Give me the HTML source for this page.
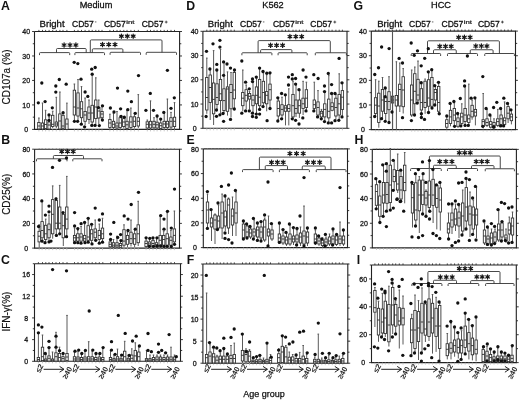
<!DOCTYPE html><html><head><meta charset="utf-8"><style>html,body{margin:0;padding:0;background:#fff;}svg{display:block;will-change:transform;}</style></head><body><svg width="520" height="400" viewBox="0 0 520 400" font-family='"Liberation Sans", sans-serif'>
<rect width="520" height="400" fill="#fff"/>
<path d="M34.5,31.5V129.4H179.6V31.5H34.5" fill="none" stroke="#222" stroke-width="1.1"/>
<line x1="32.1" y1="129.40" x2="34.5" y2="129.40" stroke="#222" stroke-width="0.9"/>
<line x1="179.6" y1="129.40" x2="182.0" y2="129.40" stroke="#222" stroke-width="0.9"/>
<line x1="32.8" y1="117.16" x2="34.5" y2="117.16" stroke="#222" stroke-width="0.9"/>
<line x1="179.6" y1="117.16" x2="181.29999999999998" y2="117.16" stroke="#222" stroke-width="0.9"/>
<line x1="32.1" y1="104.93" x2="34.5" y2="104.93" stroke="#222" stroke-width="0.9"/>
<line x1="179.6" y1="104.93" x2="182.0" y2="104.93" stroke="#222" stroke-width="0.9"/>
<line x1="32.8" y1="92.69" x2="34.5" y2="92.69" stroke="#222" stroke-width="0.9"/>
<line x1="179.6" y1="92.69" x2="181.29999999999998" y2="92.69" stroke="#222" stroke-width="0.9"/>
<line x1="32.1" y1="80.45" x2="34.5" y2="80.45" stroke="#222" stroke-width="0.9"/>
<line x1="179.6" y1="80.45" x2="182.0" y2="80.45" stroke="#222" stroke-width="0.9"/>
<line x1="32.8" y1="68.21" x2="34.5" y2="68.21" stroke="#222" stroke-width="0.9"/>
<line x1="179.6" y1="68.21" x2="181.29999999999998" y2="68.21" stroke="#222" stroke-width="0.9"/>
<line x1="32.1" y1="55.98" x2="34.5" y2="55.98" stroke="#222" stroke-width="0.9"/>
<line x1="179.6" y1="55.98" x2="182.0" y2="55.98" stroke="#222" stroke-width="0.9"/>
<line x1="32.8" y1="43.74" x2="34.5" y2="43.74" stroke="#222" stroke-width="0.9"/>
<line x1="179.6" y1="43.74" x2="181.29999999999998" y2="43.74" stroke="#222" stroke-width="0.9"/>
<line x1="32.1" y1="31.50" x2="34.5" y2="31.50" stroke="#222" stroke-width="0.9"/>
<line x1="179.6" y1="31.50" x2="182.0" y2="31.50" stroke="#222" stroke-width="0.9"/>
<text x="26.20" y="132.00" text-anchor="middle" font-size="7" fill="#1a1a1a" stroke="#1a1a1a" stroke-width="0.3">0</text>
<text x="26.20" y="107.53" text-anchor="middle" font-size="7" fill="#1a1a1a" stroke="#1a1a1a" stroke-width="0.3">10</text>
<text x="26.20" y="83.05" text-anchor="middle" font-size="7" fill="#1a1a1a" stroke="#1a1a1a" stroke-width="0.3">20</text>
<text x="26.20" y="58.58" text-anchor="middle" font-size="7" fill="#1a1a1a" stroke="#1a1a1a" stroke-width="0.3">30</text>
<text x="26.20" y="34.10" text-anchor="middle" font-size="7" fill="#1a1a1a" stroke="#1a1a1a" stroke-width="0.3">40</text>
<line x1="38.90" y1="29.9" x2="38.90" y2="31.5" stroke="#222" stroke-width="0.8"/>
<line x1="38.90" y1="129.4" x2="38.90" y2="131.4" stroke="#bbb" stroke-width="0.8"/>
<line x1="42.50" y1="29.9" x2="42.50" y2="31.5" stroke="#222" stroke-width="0.8"/>
<line x1="42.50" y1="129.4" x2="42.50" y2="131.4" stroke="#bbb" stroke-width="0.8"/>
<line x1="45.60" y1="29.9" x2="45.60" y2="31.5" stroke="#222" stroke-width="0.8"/>
<line x1="45.60" y1="129.4" x2="45.60" y2="131.4" stroke="#bbb" stroke-width="0.8"/>
<line x1="49.10" y1="29.9" x2="49.10" y2="31.5" stroke="#222" stroke-width="0.8"/>
<line x1="49.10" y1="129.4" x2="49.10" y2="131.4" stroke="#bbb" stroke-width="0.8"/>
<line x1="52.70" y1="29.9" x2="52.70" y2="31.5" stroke="#222" stroke-width="0.8"/>
<line x1="52.70" y1="129.4" x2="52.70" y2="131.4" stroke="#bbb" stroke-width="0.8"/>
<line x1="56.30" y1="29.9" x2="56.30" y2="31.5" stroke="#222" stroke-width="0.8"/>
<line x1="56.30" y1="129.4" x2="56.30" y2="131.4" stroke="#bbb" stroke-width="0.8"/>
<line x1="59.90" y1="29.9" x2="59.90" y2="31.5" stroke="#222" stroke-width="0.8"/>
<line x1="59.90" y1="129.4" x2="59.90" y2="131.4" stroke="#bbb" stroke-width="0.8"/>
<line x1="63.00" y1="29.9" x2="63.00" y2="31.5" stroke="#222" stroke-width="0.8"/>
<line x1="63.00" y1="129.4" x2="63.00" y2="131.4" stroke="#bbb" stroke-width="0.8"/>
<line x1="66.90" y1="29.9" x2="66.90" y2="31.5" stroke="#222" stroke-width="0.8"/>
<line x1="66.90" y1="129.4" x2="66.90" y2="131.4" stroke="#bbb" stroke-width="0.8"/>
<line x1="74.40" y1="29.9" x2="74.40" y2="31.5" stroke="#222" stroke-width="0.8"/>
<line x1="74.40" y1="129.4" x2="74.40" y2="131.4" stroke="#bbb" stroke-width="0.8"/>
<line x1="78.00" y1="29.9" x2="78.00" y2="31.5" stroke="#222" stroke-width="0.8"/>
<line x1="78.00" y1="129.4" x2="78.00" y2="131.4" stroke="#bbb" stroke-width="0.8"/>
<line x1="81.50" y1="29.9" x2="81.50" y2="31.5" stroke="#222" stroke-width="0.8"/>
<line x1="81.50" y1="129.4" x2="81.50" y2="131.4" stroke="#bbb" stroke-width="0.8"/>
<line x1="85.10" y1="29.9" x2="85.10" y2="31.5" stroke="#222" stroke-width="0.8"/>
<line x1="85.10" y1="129.4" x2="85.10" y2="131.4" stroke="#bbb" stroke-width="0.8"/>
<line x1="89.00" y1="29.9" x2="89.00" y2="31.5" stroke="#222" stroke-width="0.8"/>
<line x1="89.00" y1="129.4" x2="89.00" y2="131.4" stroke="#bbb" stroke-width="0.8"/>
<line x1="92.20" y1="29.9" x2="92.20" y2="31.5" stroke="#222" stroke-width="0.8"/>
<line x1="92.20" y1="129.4" x2="92.20" y2="131.4" stroke="#bbb" stroke-width="0.8"/>
<line x1="95.80" y1="29.9" x2="95.80" y2="31.5" stroke="#222" stroke-width="0.8"/>
<line x1="95.80" y1="129.4" x2="95.80" y2="131.4" stroke="#bbb" stroke-width="0.8"/>
<line x1="98.80" y1="29.9" x2="98.80" y2="31.5" stroke="#222" stroke-width="0.8"/>
<line x1="98.80" y1="129.4" x2="98.80" y2="131.4" stroke="#bbb" stroke-width="0.8"/>
<line x1="102.00" y1="29.9" x2="102.00" y2="31.5" stroke="#222" stroke-width="0.8"/>
<line x1="102.00" y1="129.4" x2="102.00" y2="131.4" stroke="#bbb" stroke-width="0.8"/>
<line x1="109.90" y1="29.9" x2="109.90" y2="31.5" stroke="#222" stroke-width="0.8"/>
<line x1="109.90" y1="129.4" x2="109.90" y2="131.4" stroke="#bbb" stroke-width="0.8"/>
<line x1="113.50" y1="29.9" x2="113.50" y2="31.5" stroke="#222" stroke-width="0.8"/>
<line x1="113.50" y1="129.4" x2="113.50" y2="131.4" stroke="#bbb" stroke-width="0.8"/>
<line x1="117.00" y1="29.9" x2="117.00" y2="31.5" stroke="#222" stroke-width="0.8"/>
<line x1="117.00" y1="129.4" x2="117.00" y2="131.4" stroke="#bbb" stroke-width="0.8"/>
<line x1="120.20" y1="29.9" x2="120.20" y2="31.5" stroke="#222" stroke-width="0.8"/>
<line x1="120.20" y1="129.4" x2="120.20" y2="131.4" stroke="#bbb" stroke-width="0.8"/>
<line x1="123.80" y1="29.9" x2="123.80" y2="31.5" stroke="#222" stroke-width="0.8"/>
<line x1="123.80" y1="129.4" x2="123.80" y2="131.4" stroke="#bbb" stroke-width="0.8"/>
<line x1="127.00" y1="29.9" x2="127.00" y2="31.5" stroke="#222" stroke-width="0.8"/>
<line x1="127.00" y1="129.4" x2="127.00" y2="131.4" stroke="#bbb" stroke-width="0.8"/>
<line x1="130.90" y1="29.9" x2="130.90" y2="31.5" stroke="#222" stroke-width="0.8"/>
<line x1="130.90" y1="129.4" x2="130.90" y2="131.4" stroke="#bbb" stroke-width="0.8"/>
<line x1="134.40" y1="29.9" x2="134.40" y2="31.5" stroke="#222" stroke-width="0.8"/>
<line x1="134.40" y1="129.4" x2="134.40" y2="131.4" stroke="#bbb" stroke-width="0.8"/>
<line x1="138.30" y1="29.9" x2="138.30" y2="31.5" stroke="#222" stroke-width="0.8"/>
<line x1="138.30" y1="129.4" x2="138.30" y2="131.4" stroke="#bbb" stroke-width="0.8"/>
<line x1="147.30" y1="29.9" x2="147.30" y2="31.5" stroke="#222" stroke-width="0.8"/>
<line x1="147.30" y1="129.4" x2="147.30" y2="131.4" stroke="#bbb" stroke-width="0.8"/>
<line x1="150.50" y1="29.9" x2="150.50" y2="31.5" stroke="#222" stroke-width="0.8"/>
<line x1="150.50" y1="129.4" x2="150.50" y2="131.4" stroke="#bbb" stroke-width="0.8"/>
<line x1="154.00" y1="29.9" x2="154.00" y2="31.5" stroke="#222" stroke-width="0.8"/>
<line x1="154.00" y1="129.4" x2="154.00" y2="131.4" stroke="#bbb" stroke-width="0.8"/>
<line x1="157.10" y1="29.9" x2="157.10" y2="31.5" stroke="#222" stroke-width="0.8"/>
<line x1="157.10" y1="129.4" x2="157.10" y2="131.4" stroke="#bbb" stroke-width="0.8"/>
<line x1="160.70" y1="29.9" x2="160.70" y2="31.5" stroke="#222" stroke-width="0.8"/>
<line x1="160.70" y1="129.4" x2="160.70" y2="131.4" stroke="#bbb" stroke-width="0.8"/>
<line x1="164.20" y1="29.9" x2="164.20" y2="31.5" stroke="#222" stroke-width="0.8"/>
<line x1="164.20" y1="129.4" x2="164.20" y2="131.4" stroke="#bbb" stroke-width="0.8"/>
<line x1="167.40" y1="29.9" x2="167.40" y2="31.5" stroke="#222" stroke-width="0.8"/>
<line x1="167.40" y1="129.4" x2="167.40" y2="131.4" stroke="#bbb" stroke-width="0.8"/>
<line x1="171.00" y1="29.9" x2="171.00" y2="31.5" stroke="#222" stroke-width="0.8"/>
<line x1="171.00" y1="129.4" x2="171.00" y2="131.4" stroke="#bbb" stroke-width="0.8"/>
<line x1="174.50" y1="29.9" x2="174.50" y2="31.5" stroke="#222" stroke-width="0.8"/>
<line x1="174.50" y1="129.4" x2="174.50" y2="131.4" stroke="#bbb" stroke-width="0.8"/>
<path d="M202.9,31.3V128.3H347.0V31.3H202.9" fill="none" stroke="#222" stroke-width="1.1"/>
<line x1="200.5" y1="128.30" x2="202.9" y2="128.30" stroke="#222" stroke-width="0.9"/>
<line x1="347.0" y1="128.30" x2="349.4" y2="128.30" stroke="#222" stroke-width="0.9"/>
<line x1="201.20000000000002" y1="116.18" x2="202.9" y2="116.18" stroke="#222" stroke-width="0.9"/>
<line x1="347.0" y1="116.18" x2="348.7" y2="116.18" stroke="#222" stroke-width="0.9"/>
<line x1="200.5" y1="104.05" x2="202.9" y2="104.05" stroke="#222" stroke-width="0.9"/>
<line x1="347.0" y1="104.05" x2="349.4" y2="104.05" stroke="#222" stroke-width="0.9"/>
<line x1="201.20000000000002" y1="91.93" x2="202.9" y2="91.93" stroke="#222" stroke-width="0.9"/>
<line x1="347.0" y1="91.93" x2="348.7" y2="91.93" stroke="#222" stroke-width="0.9"/>
<line x1="200.5" y1="79.80" x2="202.9" y2="79.80" stroke="#222" stroke-width="0.9"/>
<line x1="347.0" y1="79.80" x2="349.4" y2="79.80" stroke="#222" stroke-width="0.9"/>
<line x1="201.20000000000002" y1="67.67" x2="202.9" y2="67.67" stroke="#222" stroke-width="0.9"/>
<line x1="347.0" y1="67.67" x2="348.7" y2="67.67" stroke="#222" stroke-width="0.9"/>
<line x1="200.5" y1="55.55" x2="202.9" y2="55.55" stroke="#222" stroke-width="0.9"/>
<line x1="347.0" y1="55.55" x2="349.4" y2="55.55" stroke="#222" stroke-width="0.9"/>
<line x1="201.20000000000002" y1="43.42" x2="202.9" y2="43.42" stroke="#222" stroke-width="0.9"/>
<line x1="347.0" y1="43.42" x2="348.7" y2="43.42" stroke="#222" stroke-width="0.9"/>
<line x1="200.5" y1="31.30" x2="202.9" y2="31.30" stroke="#222" stroke-width="0.9"/>
<line x1="347.0" y1="31.30" x2="349.4" y2="31.30" stroke="#222" stroke-width="0.9"/>
<text x="194.60" y="130.90" text-anchor="middle" font-size="7" fill="#1a1a1a" stroke="#1a1a1a" stroke-width="0.3">0</text>
<text x="194.60" y="106.65" text-anchor="middle" font-size="7" fill="#1a1a1a" stroke="#1a1a1a" stroke-width="0.3">10</text>
<text x="194.60" y="82.40" text-anchor="middle" font-size="7" fill="#1a1a1a" stroke="#1a1a1a" stroke-width="0.3">20</text>
<text x="194.60" y="58.15" text-anchor="middle" font-size="7" fill="#1a1a1a" stroke="#1a1a1a" stroke-width="0.3">30</text>
<text x="194.60" y="33.90" text-anchor="middle" font-size="7" fill="#1a1a1a" stroke="#1a1a1a" stroke-width="0.3">40</text>
<line x1="206.80" y1="29.7" x2="206.80" y2="31.3" stroke="#222" stroke-width="0.8"/>
<line x1="206.80" y1="128.3" x2="206.80" y2="130.3" stroke="#bbb" stroke-width="0.8"/>
<line x1="210.20" y1="29.7" x2="210.20" y2="31.3" stroke="#222" stroke-width="0.8"/>
<line x1="210.20" y1="128.3" x2="210.20" y2="130.3" stroke="#bbb" stroke-width="0.8"/>
<line x1="213.60" y1="29.7" x2="213.60" y2="31.3" stroke="#222" stroke-width="0.8"/>
<line x1="213.60" y1="128.3" x2="213.60" y2="130.3" stroke="#bbb" stroke-width="0.8"/>
<line x1="217.00" y1="29.7" x2="217.00" y2="31.3" stroke="#222" stroke-width="0.8"/>
<line x1="217.00" y1="128.3" x2="217.00" y2="130.3" stroke="#bbb" stroke-width="0.8"/>
<line x1="220.50" y1="29.7" x2="220.50" y2="31.3" stroke="#222" stroke-width="0.8"/>
<line x1="220.50" y1="128.3" x2="220.50" y2="130.3" stroke="#bbb" stroke-width="0.8"/>
<line x1="224.00" y1="29.7" x2="224.00" y2="31.3" stroke="#222" stroke-width="0.8"/>
<line x1="224.00" y1="128.3" x2="224.00" y2="130.3" stroke="#bbb" stroke-width="0.8"/>
<line x1="227.50" y1="29.7" x2="227.50" y2="31.3" stroke="#222" stroke-width="0.8"/>
<line x1="227.50" y1="128.3" x2="227.50" y2="130.3" stroke="#bbb" stroke-width="0.8"/>
<line x1="231.00" y1="29.7" x2="231.00" y2="31.3" stroke="#222" stroke-width="0.8"/>
<line x1="231.00" y1="128.3" x2="231.00" y2="130.3" stroke="#bbb" stroke-width="0.8"/>
<line x1="234.30" y1="29.7" x2="234.30" y2="31.3" stroke="#222" stroke-width="0.8"/>
<line x1="234.30" y1="128.3" x2="234.30" y2="130.3" stroke="#bbb" stroke-width="0.8"/>
<line x1="242.80" y1="29.7" x2="242.80" y2="31.3" stroke="#222" stroke-width="0.8"/>
<line x1="242.80" y1="128.3" x2="242.80" y2="130.3" stroke="#bbb" stroke-width="0.8"/>
<line x1="246.20" y1="29.7" x2="246.20" y2="31.3" stroke="#222" stroke-width="0.8"/>
<line x1="246.20" y1="128.3" x2="246.20" y2="130.3" stroke="#bbb" stroke-width="0.8"/>
<line x1="249.50" y1="29.7" x2="249.50" y2="31.3" stroke="#222" stroke-width="0.8"/>
<line x1="249.50" y1="128.3" x2="249.50" y2="130.3" stroke="#bbb" stroke-width="0.8"/>
<line x1="253.00" y1="29.7" x2="253.00" y2="31.3" stroke="#222" stroke-width="0.8"/>
<line x1="253.00" y1="128.3" x2="253.00" y2="130.3" stroke="#bbb" stroke-width="0.8"/>
<line x1="256.50" y1="29.7" x2="256.50" y2="31.3" stroke="#222" stroke-width="0.8"/>
<line x1="256.50" y1="128.3" x2="256.50" y2="130.3" stroke="#bbb" stroke-width="0.8"/>
<line x1="259.60" y1="29.7" x2="259.60" y2="31.3" stroke="#222" stroke-width="0.8"/>
<line x1="259.60" y1="128.3" x2="259.60" y2="130.3" stroke="#bbb" stroke-width="0.8"/>
<line x1="263.40" y1="29.7" x2="263.40" y2="31.3" stroke="#222" stroke-width="0.8"/>
<line x1="263.40" y1="128.3" x2="263.40" y2="130.3" stroke="#bbb" stroke-width="0.8"/>
<line x1="266.70" y1="29.7" x2="266.70" y2="31.3" stroke="#222" stroke-width="0.8"/>
<line x1="266.70" y1="128.3" x2="266.70" y2="130.3" stroke="#bbb" stroke-width="0.8"/>
<line x1="270.00" y1="29.7" x2="270.00" y2="31.3" stroke="#222" stroke-width="0.8"/>
<line x1="270.00" y1="128.3" x2="270.00" y2="130.3" stroke="#bbb" stroke-width="0.8"/>
<line x1="278.30" y1="29.7" x2="278.30" y2="31.3" stroke="#222" stroke-width="0.8"/>
<line x1="278.30" y1="128.3" x2="278.30" y2="130.3" stroke="#bbb" stroke-width="0.8"/>
<line x1="282.00" y1="29.7" x2="282.00" y2="31.3" stroke="#222" stroke-width="0.8"/>
<line x1="282.00" y1="128.3" x2="282.00" y2="130.3" stroke="#bbb" stroke-width="0.8"/>
<line x1="285.50" y1="29.7" x2="285.50" y2="31.3" stroke="#222" stroke-width="0.8"/>
<line x1="285.50" y1="128.3" x2="285.50" y2="130.3" stroke="#bbb" stroke-width="0.8"/>
<line x1="288.80" y1="29.7" x2="288.80" y2="31.3" stroke="#222" stroke-width="0.8"/>
<line x1="288.80" y1="128.3" x2="288.80" y2="130.3" stroke="#bbb" stroke-width="0.8"/>
<line x1="293.00" y1="29.7" x2="293.00" y2="31.3" stroke="#222" stroke-width="0.8"/>
<line x1="293.00" y1="128.3" x2="293.00" y2="130.3" stroke="#bbb" stroke-width="0.8"/>
<line x1="296.00" y1="29.7" x2="296.00" y2="31.3" stroke="#222" stroke-width="0.8"/>
<line x1="296.00" y1="128.3" x2="296.00" y2="130.3" stroke="#bbb" stroke-width="0.8"/>
<line x1="299.40" y1="29.7" x2="299.40" y2="31.3" stroke="#222" stroke-width="0.8"/>
<line x1="299.40" y1="128.3" x2="299.40" y2="130.3" stroke="#bbb" stroke-width="0.8"/>
<line x1="303.10" y1="29.7" x2="303.10" y2="31.3" stroke="#222" stroke-width="0.8"/>
<line x1="303.10" y1="128.3" x2="303.10" y2="130.3" stroke="#bbb" stroke-width="0.8"/>
<line x1="306.40" y1="29.7" x2="306.40" y2="31.3" stroke="#222" stroke-width="0.8"/>
<line x1="306.40" y1="128.3" x2="306.40" y2="130.3" stroke="#bbb" stroke-width="0.8"/>
<line x1="314.30" y1="29.7" x2="314.30" y2="31.3" stroke="#222" stroke-width="0.8"/>
<line x1="314.30" y1="128.3" x2="314.30" y2="130.3" stroke="#bbb" stroke-width="0.8"/>
<line x1="318.00" y1="29.7" x2="318.00" y2="31.3" stroke="#222" stroke-width="0.8"/>
<line x1="318.00" y1="128.3" x2="318.00" y2="130.3" stroke="#bbb" stroke-width="0.8"/>
<line x1="321.50" y1="29.7" x2="321.50" y2="31.3" stroke="#222" stroke-width="0.8"/>
<line x1="321.50" y1="128.3" x2="321.50" y2="130.3" stroke="#bbb" stroke-width="0.8"/>
<line x1="324.80" y1="29.7" x2="324.80" y2="31.3" stroke="#222" stroke-width="0.8"/>
<line x1="324.80" y1="128.3" x2="324.80" y2="130.3" stroke="#bbb" stroke-width="0.8"/>
<line x1="328.80" y1="29.7" x2="328.80" y2="31.3" stroke="#222" stroke-width="0.8"/>
<line x1="328.80" y1="128.3" x2="328.80" y2="130.3" stroke="#bbb" stroke-width="0.8"/>
<line x1="332.10" y1="29.7" x2="332.10" y2="31.3" stroke="#222" stroke-width="0.8"/>
<line x1="332.10" y1="128.3" x2="332.10" y2="130.3" stroke="#bbb" stroke-width="0.8"/>
<line x1="335.90" y1="29.7" x2="335.90" y2="31.3" stroke="#222" stroke-width="0.8"/>
<line x1="335.90" y1="128.3" x2="335.90" y2="130.3" stroke="#bbb" stroke-width="0.8"/>
<line x1="339.20" y1="29.7" x2="339.20" y2="31.3" stroke="#222" stroke-width="0.8"/>
<line x1="339.20" y1="128.3" x2="339.20" y2="130.3" stroke="#bbb" stroke-width="0.8"/>
<line x1="342.40" y1="29.7" x2="342.40" y2="31.3" stroke="#222" stroke-width="0.8"/>
<line x1="342.40" y1="128.3" x2="342.40" y2="130.3" stroke="#bbb" stroke-width="0.8"/>
<path d="M371.3,31.1V129.6H515.5V31.1H371.3" fill="none" stroke="#222" stroke-width="1.1"/>
<line x1="368.90000000000003" y1="129.60" x2="371.3" y2="129.60" stroke="#222" stroke-width="0.9"/>
<line x1="515.5" y1="129.60" x2="517.9" y2="129.60" stroke="#222" stroke-width="0.9"/>
<line x1="369.6" y1="117.29" x2="371.3" y2="117.29" stroke="#222" stroke-width="0.9"/>
<line x1="515.5" y1="117.29" x2="517.2" y2="117.29" stroke="#222" stroke-width="0.9"/>
<line x1="368.90000000000003" y1="104.97" x2="371.3" y2="104.97" stroke="#222" stroke-width="0.9"/>
<line x1="515.5" y1="104.97" x2="517.9" y2="104.97" stroke="#222" stroke-width="0.9"/>
<line x1="369.6" y1="92.66" x2="371.3" y2="92.66" stroke="#222" stroke-width="0.9"/>
<line x1="515.5" y1="92.66" x2="517.2" y2="92.66" stroke="#222" stroke-width="0.9"/>
<line x1="368.90000000000003" y1="80.35" x2="371.3" y2="80.35" stroke="#222" stroke-width="0.9"/>
<line x1="515.5" y1="80.35" x2="517.9" y2="80.35" stroke="#222" stroke-width="0.9"/>
<line x1="369.6" y1="68.04" x2="371.3" y2="68.04" stroke="#222" stroke-width="0.9"/>
<line x1="515.5" y1="68.04" x2="517.2" y2="68.04" stroke="#222" stroke-width="0.9"/>
<line x1="368.90000000000003" y1="55.72" x2="371.3" y2="55.72" stroke="#222" stroke-width="0.9"/>
<line x1="515.5" y1="55.72" x2="517.9" y2="55.72" stroke="#222" stroke-width="0.9"/>
<line x1="369.6" y1="43.41" x2="371.3" y2="43.41" stroke="#222" stroke-width="0.9"/>
<line x1="515.5" y1="43.41" x2="517.2" y2="43.41" stroke="#222" stroke-width="0.9"/>
<line x1="368.90000000000003" y1="31.10" x2="371.3" y2="31.10" stroke="#222" stroke-width="0.9"/>
<line x1="515.5" y1="31.10" x2="517.9" y2="31.10" stroke="#222" stroke-width="0.9"/>
<text x="363.00" y="132.20" text-anchor="middle" font-size="7" fill="#1a1a1a" stroke="#1a1a1a" stroke-width="0.3">0</text>
<text x="363.00" y="107.57" text-anchor="middle" font-size="7" fill="#1a1a1a" stroke="#1a1a1a" stroke-width="0.3">10</text>
<text x="363.00" y="82.95" text-anchor="middle" font-size="7" fill="#1a1a1a" stroke="#1a1a1a" stroke-width="0.3">20</text>
<text x="363.00" y="58.32" text-anchor="middle" font-size="7" fill="#1a1a1a" stroke="#1a1a1a" stroke-width="0.3">30</text>
<text x="363.00" y="33.70" text-anchor="middle" font-size="7" fill="#1a1a1a" stroke="#1a1a1a" stroke-width="0.3">40</text>
<line x1="375.60" y1="29.5" x2="375.60" y2="31.1" stroke="#222" stroke-width="0.8"/>
<line x1="375.60" y1="129.6" x2="375.60" y2="131.6" stroke="#bbb" stroke-width="0.8"/>
<line x1="378.80" y1="29.5" x2="378.80" y2="31.1" stroke="#222" stroke-width="0.8"/>
<line x1="378.80" y1="129.6" x2="378.80" y2="131.6" stroke="#bbb" stroke-width="0.8"/>
<line x1="382.50" y1="29.5" x2="382.50" y2="31.1" stroke="#222" stroke-width="0.8"/>
<line x1="382.50" y1="129.6" x2="382.50" y2="131.6" stroke="#bbb" stroke-width="0.8"/>
<line x1="385.70" y1="29.5" x2="385.70" y2="31.1" stroke="#222" stroke-width="0.8"/>
<line x1="385.70" y1="129.6" x2="385.70" y2="131.6" stroke="#bbb" stroke-width="0.8"/>
<line x1="389.00" y1="29.5" x2="389.00" y2="31.1" stroke="#222" stroke-width="0.8"/>
<line x1="389.00" y1="129.6" x2="389.00" y2="131.6" stroke="#bbb" stroke-width="0.8"/>
<line x1="392.60" y1="29.5" x2="392.60" y2="31.1" stroke="#222" stroke-width="0.8"/>
<line x1="392.60" y1="129.6" x2="392.60" y2="131.6" stroke="#bbb" stroke-width="0.8"/>
<line x1="396.40" y1="29.5" x2="396.40" y2="31.1" stroke="#222" stroke-width="0.8"/>
<line x1="396.40" y1="129.6" x2="396.40" y2="131.6" stroke="#bbb" stroke-width="0.8"/>
<line x1="399.80" y1="29.5" x2="399.80" y2="31.1" stroke="#222" stroke-width="0.8"/>
<line x1="399.80" y1="129.6" x2="399.80" y2="131.6" stroke="#bbb" stroke-width="0.8"/>
<line x1="403.20" y1="29.5" x2="403.20" y2="31.1" stroke="#222" stroke-width="0.8"/>
<line x1="403.20" y1="129.6" x2="403.20" y2="131.6" stroke="#bbb" stroke-width="0.8"/>
<line x1="411.70" y1="29.5" x2="411.70" y2="31.1" stroke="#222" stroke-width="0.8"/>
<line x1="411.70" y1="129.6" x2="411.70" y2="131.6" stroke="#bbb" stroke-width="0.8"/>
<line x1="414.80" y1="29.5" x2="414.80" y2="31.1" stroke="#222" stroke-width="0.8"/>
<line x1="414.80" y1="129.6" x2="414.80" y2="131.6" stroke="#bbb" stroke-width="0.8"/>
<line x1="418.00" y1="29.5" x2="418.00" y2="31.1" stroke="#222" stroke-width="0.8"/>
<line x1="418.00" y1="129.6" x2="418.00" y2="131.6" stroke="#bbb" stroke-width="0.8"/>
<line x1="421.40" y1="29.5" x2="421.40" y2="31.1" stroke="#222" stroke-width="0.8"/>
<line x1="421.40" y1="129.6" x2="421.40" y2="131.6" stroke="#bbb" stroke-width="0.8"/>
<line x1="425.10" y1="29.5" x2="425.10" y2="31.1" stroke="#222" stroke-width="0.8"/>
<line x1="425.10" y1="129.6" x2="425.10" y2="131.6" stroke="#bbb" stroke-width="0.8"/>
<line x1="428.60" y1="29.5" x2="428.60" y2="31.1" stroke="#222" stroke-width="0.8"/>
<line x1="428.60" y1="129.6" x2="428.60" y2="131.6" stroke="#bbb" stroke-width="0.8"/>
<line x1="431.90" y1="29.5" x2="431.90" y2="31.1" stroke="#222" stroke-width="0.8"/>
<line x1="431.90" y1="129.6" x2="431.90" y2="131.6" stroke="#bbb" stroke-width="0.8"/>
<line x1="435.40" y1="29.5" x2="435.40" y2="31.1" stroke="#222" stroke-width="0.8"/>
<line x1="435.40" y1="129.6" x2="435.40" y2="131.6" stroke="#bbb" stroke-width="0.8"/>
<line x1="438.70" y1="29.5" x2="438.70" y2="31.1" stroke="#222" stroke-width="0.8"/>
<line x1="438.70" y1="129.6" x2="438.70" y2="131.6" stroke="#bbb" stroke-width="0.8"/>
<line x1="446.80" y1="29.5" x2="446.80" y2="31.1" stroke="#222" stroke-width="0.8"/>
<line x1="446.80" y1="129.6" x2="446.80" y2="131.6" stroke="#bbb" stroke-width="0.8"/>
<line x1="450.50" y1="29.5" x2="450.50" y2="31.1" stroke="#222" stroke-width="0.8"/>
<line x1="450.50" y1="129.6" x2="450.50" y2="131.6" stroke="#bbb" stroke-width="0.8"/>
<line x1="454.30" y1="29.5" x2="454.30" y2="31.1" stroke="#222" stroke-width="0.8"/>
<line x1="454.30" y1="129.6" x2="454.30" y2="131.6" stroke="#bbb" stroke-width="0.8"/>
<line x1="458.00" y1="29.5" x2="458.00" y2="31.1" stroke="#222" stroke-width="0.8"/>
<line x1="458.00" y1="129.6" x2="458.00" y2="131.6" stroke="#bbb" stroke-width="0.8"/>
<line x1="461.80" y1="29.5" x2="461.80" y2="31.1" stroke="#222" stroke-width="0.8"/>
<line x1="461.80" y1="129.6" x2="461.80" y2="131.6" stroke="#bbb" stroke-width="0.8"/>
<line x1="465.10" y1="29.5" x2="465.10" y2="31.1" stroke="#222" stroke-width="0.8"/>
<line x1="465.10" y1="129.6" x2="465.10" y2="131.6" stroke="#bbb" stroke-width="0.8"/>
<line x1="468.80" y1="29.5" x2="468.80" y2="31.1" stroke="#222" stroke-width="0.8"/>
<line x1="468.80" y1="129.6" x2="468.80" y2="131.6" stroke="#bbb" stroke-width="0.8"/>
<line x1="472.10" y1="29.5" x2="472.10" y2="31.1" stroke="#222" stroke-width="0.8"/>
<line x1="472.10" y1="129.6" x2="472.10" y2="131.6" stroke="#bbb" stroke-width="0.8"/>
<line x1="475.40" y1="29.5" x2="475.40" y2="31.1" stroke="#222" stroke-width="0.8"/>
<line x1="475.40" y1="129.6" x2="475.40" y2="131.6" stroke="#bbb" stroke-width="0.8"/>
<line x1="483.20" y1="29.5" x2="483.20" y2="31.1" stroke="#222" stroke-width="0.8"/>
<line x1="483.20" y1="129.6" x2="483.20" y2="131.6" stroke="#bbb" stroke-width="0.8"/>
<line x1="487.00" y1="29.5" x2="487.00" y2="31.1" stroke="#222" stroke-width="0.8"/>
<line x1="487.00" y1="129.6" x2="487.00" y2="131.6" stroke="#bbb" stroke-width="0.8"/>
<line x1="490.70" y1="29.5" x2="490.70" y2="31.1" stroke="#222" stroke-width="0.8"/>
<line x1="490.70" y1="129.6" x2="490.70" y2="131.6" stroke="#bbb" stroke-width="0.8"/>
<line x1="494.00" y1="29.5" x2="494.00" y2="31.1" stroke="#222" stroke-width="0.8"/>
<line x1="494.00" y1="129.6" x2="494.00" y2="131.6" stroke="#bbb" stroke-width="0.8"/>
<line x1="497.80" y1="29.5" x2="497.80" y2="31.1" stroke="#222" stroke-width="0.8"/>
<line x1="497.80" y1="129.6" x2="497.80" y2="131.6" stroke="#bbb" stroke-width="0.8"/>
<line x1="501.10" y1="29.5" x2="501.10" y2="31.1" stroke="#222" stroke-width="0.8"/>
<line x1="501.10" y1="129.6" x2="501.10" y2="131.6" stroke="#bbb" stroke-width="0.8"/>
<line x1="504.60" y1="29.5" x2="504.60" y2="31.1" stroke="#222" stroke-width="0.8"/>
<line x1="504.60" y1="129.6" x2="504.60" y2="131.6" stroke="#bbb" stroke-width="0.8"/>
<line x1="508.10" y1="29.5" x2="508.10" y2="31.1" stroke="#222" stroke-width="0.8"/>
<line x1="508.10" y1="129.6" x2="508.10" y2="131.6" stroke="#bbb" stroke-width="0.8"/>
<line x1="511.40" y1="29.5" x2="511.40" y2="31.1" stroke="#222" stroke-width="0.8"/>
<line x1="511.40" y1="129.6" x2="511.40" y2="131.6" stroke="#bbb" stroke-width="0.8"/>
<path d="M34.6,149.2V248.1H179.5V149.2H34.6" fill="none" stroke="#222" stroke-width="1.1"/>
<line x1="32.2" y1="248.10" x2="34.6" y2="248.10" stroke="#222" stroke-width="0.9"/>
<line x1="179.5" y1="248.10" x2="181.9" y2="248.10" stroke="#222" stroke-width="0.9"/>
<line x1="32.9" y1="235.74" x2="34.6" y2="235.74" stroke="#222" stroke-width="0.9"/>
<line x1="179.5" y1="235.74" x2="181.2" y2="235.74" stroke="#222" stroke-width="0.9"/>
<line x1="32.2" y1="223.38" x2="34.6" y2="223.38" stroke="#222" stroke-width="0.9"/>
<line x1="179.5" y1="223.38" x2="181.9" y2="223.38" stroke="#222" stroke-width="0.9"/>
<line x1="32.9" y1="211.01" x2="34.6" y2="211.01" stroke="#222" stroke-width="0.9"/>
<line x1="179.5" y1="211.01" x2="181.2" y2="211.01" stroke="#222" stroke-width="0.9"/>
<line x1="32.2" y1="198.65" x2="34.6" y2="198.65" stroke="#222" stroke-width="0.9"/>
<line x1="179.5" y1="198.65" x2="181.9" y2="198.65" stroke="#222" stroke-width="0.9"/>
<line x1="32.9" y1="186.29" x2="34.6" y2="186.29" stroke="#222" stroke-width="0.9"/>
<line x1="179.5" y1="186.29" x2="181.2" y2="186.29" stroke="#222" stroke-width="0.9"/>
<line x1="32.2" y1="173.93" x2="34.6" y2="173.93" stroke="#222" stroke-width="0.9"/>
<line x1="179.5" y1="173.93" x2="181.9" y2="173.93" stroke="#222" stroke-width="0.9"/>
<line x1="32.9" y1="161.56" x2="34.6" y2="161.56" stroke="#222" stroke-width="0.9"/>
<line x1="179.5" y1="161.56" x2="181.2" y2="161.56" stroke="#222" stroke-width="0.9"/>
<line x1="32.2" y1="149.20" x2="34.6" y2="149.20" stroke="#222" stroke-width="0.9"/>
<line x1="179.5" y1="149.20" x2="181.9" y2="149.20" stroke="#222" stroke-width="0.9"/>
<text x="26.30" y="250.70" text-anchor="middle" font-size="7" fill="#1a1a1a" stroke="#1a1a1a" stroke-width="0.3">0</text>
<text x="26.30" y="225.97" text-anchor="middle" font-size="7" fill="#1a1a1a" stroke="#1a1a1a" stroke-width="0.3">20</text>
<text x="26.30" y="201.25" text-anchor="middle" font-size="7" fill="#1a1a1a" stroke="#1a1a1a" stroke-width="0.3">40</text>
<text x="26.30" y="176.53" text-anchor="middle" font-size="7" fill="#1a1a1a" stroke="#1a1a1a" stroke-width="0.3">60</text>
<text x="26.30" y="151.80" text-anchor="middle" font-size="7" fill="#1a1a1a" stroke="#1a1a1a" stroke-width="0.3">80</text>
<line x1="39.20" y1="148.29999999999998" x2="39.20" y2="149.2" stroke="#777" stroke-width="0.8"/>
<line x1="39.20" y1="248.1" x2="39.20" y2="250.1" stroke="#bbb" stroke-width="0.8"/>
<line x1="42.10" y1="148.29999999999998" x2="42.10" y2="149.2" stroke="#777" stroke-width="0.8"/>
<line x1="42.10" y1="248.1" x2="42.10" y2="250.1" stroke="#bbb" stroke-width="0.8"/>
<line x1="45.70" y1="148.29999999999998" x2="45.70" y2="149.2" stroke="#777" stroke-width="0.8"/>
<line x1="45.70" y1="248.1" x2="45.70" y2="250.1" stroke="#bbb" stroke-width="0.8"/>
<line x1="49.00" y1="148.29999999999998" x2="49.00" y2="149.2" stroke="#777" stroke-width="0.8"/>
<line x1="49.00" y1="248.1" x2="49.00" y2="250.1" stroke="#bbb" stroke-width="0.8"/>
<line x1="52.70" y1="148.29999999999998" x2="52.70" y2="149.2" stroke="#777" stroke-width="0.8"/>
<line x1="52.70" y1="248.1" x2="52.70" y2="250.1" stroke="#bbb" stroke-width="0.8"/>
<line x1="56.30" y1="148.29999999999998" x2="56.30" y2="149.2" stroke="#777" stroke-width="0.8"/>
<line x1="56.30" y1="248.1" x2="56.30" y2="250.1" stroke="#bbb" stroke-width="0.8"/>
<line x1="59.70" y1="148.29999999999998" x2="59.70" y2="149.2" stroke="#777" stroke-width="0.8"/>
<line x1="59.70" y1="248.1" x2="59.70" y2="250.1" stroke="#bbb" stroke-width="0.8"/>
<line x1="63.30" y1="148.29999999999998" x2="63.30" y2="149.2" stroke="#777" stroke-width="0.8"/>
<line x1="63.30" y1="248.1" x2="63.30" y2="250.1" stroke="#bbb" stroke-width="0.8"/>
<line x1="66.80" y1="148.29999999999998" x2="66.80" y2="149.2" stroke="#777" stroke-width="0.8"/>
<line x1="66.80" y1="248.1" x2="66.80" y2="250.1" stroke="#bbb" stroke-width="0.8"/>
<line x1="74.60" y1="148.29999999999998" x2="74.60" y2="149.2" stroke="#777" stroke-width="0.8"/>
<line x1="74.60" y1="248.1" x2="74.60" y2="250.1" stroke="#bbb" stroke-width="0.8"/>
<line x1="77.80" y1="148.29999999999998" x2="77.80" y2="149.2" stroke="#777" stroke-width="0.8"/>
<line x1="77.80" y1="248.1" x2="77.80" y2="250.1" stroke="#bbb" stroke-width="0.8"/>
<line x1="81.10" y1="148.29999999999998" x2="81.10" y2="149.2" stroke="#777" stroke-width="0.8"/>
<line x1="81.10" y1="248.1" x2="81.10" y2="250.1" stroke="#bbb" stroke-width="0.8"/>
<line x1="84.60" y1="148.29999999999998" x2="84.60" y2="149.2" stroke="#777" stroke-width="0.8"/>
<line x1="84.60" y1="248.1" x2="84.60" y2="250.1" stroke="#bbb" stroke-width="0.8"/>
<line x1="88.20" y1="148.29999999999998" x2="88.20" y2="149.2" stroke="#777" stroke-width="0.8"/>
<line x1="88.20" y1="248.1" x2="88.20" y2="250.1" stroke="#bbb" stroke-width="0.8"/>
<line x1="91.60" y1="148.29999999999998" x2="91.60" y2="149.2" stroke="#777" stroke-width="0.8"/>
<line x1="91.60" y1="248.1" x2="91.60" y2="250.1" stroke="#bbb" stroke-width="0.8"/>
<line x1="95.20" y1="148.29999999999998" x2="95.20" y2="149.2" stroke="#777" stroke-width="0.8"/>
<line x1="95.20" y1="248.1" x2="95.20" y2="250.1" stroke="#bbb" stroke-width="0.8"/>
<line x1="99.30" y1="148.29999999999998" x2="99.30" y2="149.2" stroke="#777" stroke-width="0.8"/>
<line x1="99.30" y1="248.1" x2="99.30" y2="250.1" stroke="#bbb" stroke-width="0.8"/>
<line x1="102.50" y1="148.29999999999998" x2="102.50" y2="149.2" stroke="#777" stroke-width="0.8"/>
<line x1="102.50" y1="248.1" x2="102.50" y2="250.1" stroke="#bbb" stroke-width="0.8"/>
<line x1="110.20" y1="148.29999999999998" x2="110.20" y2="149.2" stroke="#777" stroke-width="0.8"/>
<line x1="110.20" y1="248.1" x2="110.20" y2="250.1" stroke="#bbb" stroke-width="0.8"/>
<line x1="113.50" y1="148.29999999999998" x2="113.50" y2="149.2" stroke="#777" stroke-width="0.8"/>
<line x1="113.50" y1="248.1" x2="113.50" y2="250.1" stroke="#bbb" stroke-width="0.8"/>
<line x1="117.00" y1="148.29999999999998" x2="117.00" y2="149.2" stroke="#777" stroke-width="0.8"/>
<line x1="117.00" y1="248.1" x2="117.00" y2="250.1" stroke="#bbb" stroke-width="0.8"/>
<line x1="120.50" y1="148.29999999999998" x2="120.50" y2="149.2" stroke="#777" stroke-width="0.8"/>
<line x1="120.50" y1="248.1" x2="120.50" y2="250.1" stroke="#bbb" stroke-width="0.8"/>
<line x1="124.00" y1="148.29999999999998" x2="124.00" y2="149.2" stroke="#777" stroke-width="0.8"/>
<line x1="124.00" y1="248.1" x2="124.00" y2="250.1" stroke="#bbb" stroke-width="0.8"/>
<line x1="127.50" y1="148.29999999999998" x2="127.50" y2="149.2" stroke="#777" stroke-width="0.8"/>
<line x1="127.50" y1="248.1" x2="127.50" y2="250.1" stroke="#bbb" stroke-width="0.8"/>
<line x1="131.00" y1="148.29999999999998" x2="131.00" y2="149.2" stroke="#777" stroke-width="0.8"/>
<line x1="131.00" y1="248.1" x2="131.00" y2="250.1" stroke="#bbb" stroke-width="0.8"/>
<line x1="134.60" y1="148.29999999999998" x2="134.60" y2="149.2" stroke="#777" stroke-width="0.8"/>
<line x1="134.60" y1="248.1" x2="134.60" y2="250.1" stroke="#bbb" stroke-width="0.8"/>
<line x1="138.20" y1="148.29999999999998" x2="138.20" y2="149.2" stroke="#777" stroke-width="0.8"/>
<line x1="138.20" y1="248.1" x2="138.20" y2="250.1" stroke="#bbb" stroke-width="0.8"/>
<line x1="146.10" y1="148.29999999999998" x2="146.10" y2="149.2" stroke="#777" stroke-width="0.8"/>
<line x1="146.10" y1="248.1" x2="146.10" y2="250.1" stroke="#bbb" stroke-width="0.8"/>
<line x1="149.50" y1="148.29999999999998" x2="149.50" y2="149.2" stroke="#777" stroke-width="0.8"/>
<line x1="149.50" y1="248.1" x2="149.50" y2="250.1" stroke="#bbb" stroke-width="0.8"/>
<line x1="153.00" y1="148.29999999999998" x2="153.00" y2="149.2" stroke="#777" stroke-width="0.8"/>
<line x1="153.00" y1="248.1" x2="153.00" y2="250.1" stroke="#bbb" stroke-width="0.8"/>
<line x1="156.50" y1="148.29999999999998" x2="156.50" y2="149.2" stroke="#777" stroke-width="0.8"/>
<line x1="156.50" y1="248.1" x2="156.50" y2="250.1" stroke="#bbb" stroke-width="0.8"/>
<line x1="160.20" y1="148.29999999999998" x2="160.20" y2="149.2" stroke="#777" stroke-width="0.8"/>
<line x1="160.20" y1="248.1" x2="160.20" y2="250.1" stroke="#bbb" stroke-width="0.8"/>
<line x1="163.70" y1="148.29999999999998" x2="163.70" y2="149.2" stroke="#777" stroke-width="0.8"/>
<line x1="163.70" y1="248.1" x2="163.70" y2="250.1" stroke="#bbb" stroke-width="0.8"/>
<line x1="167.20" y1="148.29999999999998" x2="167.20" y2="149.2" stroke="#777" stroke-width="0.8"/>
<line x1="167.20" y1="248.1" x2="167.20" y2="250.1" stroke="#bbb" stroke-width="0.8"/>
<line x1="170.90" y1="148.29999999999998" x2="170.90" y2="149.2" stroke="#777" stroke-width="0.8"/>
<line x1="170.90" y1="248.1" x2="170.90" y2="250.1" stroke="#bbb" stroke-width="0.8"/>
<line x1="174.40" y1="148.29999999999998" x2="174.40" y2="149.2" stroke="#777" stroke-width="0.8"/>
<line x1="174.40" y1="248.1" x2="174.40" y2="250.1" stroke="#bbb" stroke-width="0.8"/>
<path d="M203.3,148.9V247.6H347.5V148.9H203.3" fill="none" stroke="#222" stroke-width="1.1"/>
<line x1="200.9" y1="247.60" x2="203.3" y2="247.60" stroke="#222" stroke-width="0.9"/>
<line x1="347.5" y1="247.60" x2="349.9" y2="247.60" stroke="#222" stroke-width="0.9"/>
<line x1="201.60000000000002" y1="235.26" x2="203.3" y2="235.26" stroke="#222" stroke-width="0.9"/>
<line x1="347.5" y1="235.26" x2="349.2" y2="235.26" stroke="#222" stroke-width="0.9"/>
<line x1="200.9" y1="222.93" x2="203.3" y2="222.93" stroke="#222" stroke-width="0.9"/>
<line x1="347.5" y1="222.93" x2="349.9" y2="222.93" stroke="#222" stroke-width="0.9"/>
<line x1="201.60000000000002" y1="210.59" x2="203.3" y2="210.59" stroke="#222" stroke-width="0.9"/>
<line x1="347.5" y1="210.59" x2="349.2" y2="210.59" stroke="#222" stroke-width="0.9"/>
<line x1="200.9" y1="198.25" x2="203.3" y2="198.25" stroke="#222" stroke-width="0.9"/>
<line x1="347.5" y1="198.25" x2="349.9" y2="198.25" stroke="#222" stroke-width="0.9"/>
<line x1="201.60000000000002" y1="185.91" x2="203.3" y2="185.91" stroke="#222" stroke-width="0.9"/>
<line x1="347.5" y1="185.91" x2="349.2" y2="185.91" stroke="#222" stroke-width="0.9"/>
<line x1="200.9" y1="173.57" x2="203.3" y2="173.57" stroke="#222" stroke-width="0.9"/>
<line x1="347.5" y1="173.57" x2="349.9" y2="173.57" stroke="#222" stroke-width="0.9"/>
<line x1="201.60000000000002" y1="161.24" x2="203.3" y2="161.24" stroke="#222" stroke-width="0.9"/>
<line x1="347.5" y1="161.24" x2="349.2" y2="161.24" stroke="#222" stroke-width="0.9"/>
<line x1="200.9" y1="148.90" x2="203.3" y2="148.90" stroke="#222" stroke-width="0.9"/>
<line x1="347.5" y1="148.90" x2="349.9" y2="148.90" stroke="#222" stroke-width="0.9"/>
<text x="195.00" y="250.20" text-anchor="middle" font-size="7" fill="#1a1a1a" stroke="#1a1a1a" stroke-width="0.3">0</text>
<text x="195.00" y="225.53" text-anchor="middle" font-size="7" fill="#1a1a1a" stroke="#1a1a1a" stroke-width="0.3">20</text>
<text x="195.00" y="200.85" text-anchor="middle" font-size="7" fill="#1a1a1a" stroke="#1a1a1a" stroke-width="0.3">40</text>
<text x="195.00" y="176.17" text-anchor="middle" font-size="7" fill="#1a1a1a" stroke="#1a1a1a" stroke-width="0.3">60</text>
<text x="195.00" y="151.50" text-anchor="middle" font-size="7" fill="#1a1a1a" stroke="#1a1a1a" stroke-width="0.3">80</text>
<line x1="207.50" y1="148.0" x2="207.50" y2="148.9" stroke="#777" stroke-width="0.8"/>
<line x1="207.50" y1="247.6" x2="207.50" y2="249.6" stroke="#bbb" stroke-width="0.8"/>
<line x1="211.50" y1="148.0" x2="211.50" y2="148.9" stroke="#777" stroke-width="0.8"/>
<line x1="211.50" y1="247.6" x2="211.50" y2="249.6" stroke="#bbb" stroke-width="0.8"/>
<line x1="215.00" y1="148.0" x2="215.00" y2="148.9" stroke="#777" stroke-width="0.8"/>
<line x1="215.00" y1="247.6" x2="215.00" y2="249.6" stroke="#bbb" stroke-width="0.8"/>
<line x1="218.50" y1="148.0" x2="218.50" y2="148.9" stroke="#777" stroke-width="0.8"/>
<line x1="218.50" y1="247.6" x2="218.50" y2="249.6" stroke="#bbb" stroke-width="0.8"/>
<line x1="222.10" y1="148.0" x2="222.10" y2="148.9" stroke="#777" stroke-width="0.8"/>
<line x1="222.10" y1="247.6" x2="222.10" y2="249.6" stroke="#bbb" stroke-width="0.8"/>
<line x1="225.30" y1="148.0" x2="225.30" y2="148.9" stroke="#777" stroke-width="0.8"/>
<line x1="225.30" y1="247.6" x2="225.30" y2="249.6" stroke="#bbb" stroke-width="0.8"/>
<line x1="228.50" y1="148.0" x2="228.50" y2="148.9" stroke="#777" stroke-width="0.8"/>
<line x1="228.50" y1="247.6" x2="228.50" y2="249.6" stroke="#bbb" stroke-width="0.8"/>
<line x1="232.50" y1="148.0" x2="232.50" y2="148.9" stroke="#777" stroke-width="0.8"/>
<line x1="232.50" y1="247.6" x2="232.50" y2="249.6" stroke="#bbb" stroke-width="0.8"/>
<line x1="236.00" y1="148.0" x2="236.00" y2="148.9" stroke="#777" stroke-width="0.8"/>
<line x1="236.00" y1="247.6" x2="236.00" y2="249.6" stroke="#bbb" stroke-width="0.8"/>
<line x1="243.50" y1="148.0" x2="243.50" y2="148.9" stroke="#777" stroke-width="0.8"/>
<line x1="243.50" y1="247.6" x2="243.50" y2="249.6" stroke="#bbb" stroke-width="0.8"/>
<line x1="247.10" y1="148.0" x2="247.10" y2="148.9" stroke="#777" stroke-width="0.8"/>
<line x1="247.10" y1="247.6" x2="247.10" y2="249.6" stroke="#bbb" stroke-width="0.8"/>
<line x1="250.50" y1="148.0" x2="250.50" y2="148.9" stroke="#777" stroke-width="0.8"/>
<line x1="250.50" y1="247.6" x2="250.50" y2="249.6" stroke="#bbb" stroke-width="0.8"/>
<line x1="254.10" y1="148.0" x2="254.10" y2="148.9" stroke="#777" stroke-width="0.8"/>
<line x1="254.10" y1="247.6" x2="254.10" y2="249.6" stroke="#bbb" stroke-width="0.8"/>
<line x1="257.70" y1="148.0" x2="257.70" y2="148.9" stroke="#777" stroke-width="0.8"/>
<line x1="257.70" y1="247.6" x2="257.70" y2="249.6" stroke="#bbb" stroke-width="0.8"/>
<line x1="261.10" y1="148.0" x2="261.10" y2="148.9" stroke="#777" stroke-width="0.8"/>
<line x1="261.10" y1="247.6" x2="261.10" y2="249.6" stroke="#bbb" stroke-width="0.8"/>
<line x1="264.70" y1="148.0" x2="264.70" y2="148.9" stroke="#777" stroke-width="0.8"/>
<line x1="264.70" y1="247.6" x2="264.70" y2="249.6" stroke="#bbb" stroke-width="0.8"/>
<line x1="268.50" y1="148.0" x2="268.50" y2="148.9" stroke="#777" stroke-width="0.8"/>
<line x1="268.50" y1="247.6" x2="268.50" y2="249.6" stroke="#bbb" stroke-width="0.8"/>
<line x1="272.00" y1="148.0" x2="272.00" y2="148.9" stroke="#777" stroke-width="0.8"/>
<line x1="272.00" y1="247.6" x2="272.00" y2="249.6" stroke="#bbb" stroke-width="0.8"/>
<line x1="279.40" y1="148.0" x2="279.40" y2="148.9" stroke="#777" stroke-width="0.8"/>
<line x1="279.40" y1="247.6" x2="279.40" y2="249.6" stroke="#bbb" stroke-width="0.8"/>
<line x1="283.00" y1="148.0" x2="283.00" y2="148.9" stroke="#777" stroke-width="0.8"/>
<line x1="283.00" y1="247.6" x2="283.00" y2="249.6" stroke="#bbb" stroke-width="0.8"/>
<line x1="286.50" y1="148.0" x2="286.50" y2="148.9" stroke="#777" stroke-width="0.8"/>
<line x1="286.50" y1="247.6" x2="286.50" y2="249.6" stroke="#bbb" stroke-width="0.8"/>
<line x1="290.00" y1="148.0" x2="290.00" y2="148.9" stroke="#777" stroke-width="0.8"/>
<line x1="290.00" y1="247.6" x2="290.00" y2="249.6" stroke="#bbb" stroke-width="0.8"/>
<line x1="293.50" y1="148.0" x2="293.50" y2="148.9" stroke="#777" stroke-width="0.8"/>
<line x1="293.50" y1="247.6" x2="293.50" y2="249.6" stroke="#bbb" stroke-width="0.8"/>
<line x1="297.00" y1="148.0" x2="297.00" y2="148.9" stroke="#777" stroke-width="0.8"/>
<line x1="297.00" y1="247.6" x2="297.00" y2="249.6" stroke="#bbb" stroke-width="0.8"/>
<line x1="300.50" y1="148.0" x2="300.50" y2="148.9" stroke="#777" stroke-width="0.8"/>
<line x1="300.50" y1="247.6" x2="300.50" y2="249.6" stroke="#bbb" stroke-width="0.8"/>
<line x1="304.00" y1="148.0" x2="304.00" y2="148.9" stroke="#777" stroke-width="0.8"/>
<line x1="304.00" y1="247.6" x2="304.00" y2="249.6" stroke="#bbb" stroke-width="0.8"/>
<line x1="307.50" y1="148.0" x2="307.50" y2="148.9" stroke="#777" stroke-width="0.8"/>
<line x1="307.50" y1="247.6" x2="307.50" y2="249.6" stroke="#bbb" stroke-width="0.8"/>
<line x1="315.40" y1="148.0" x2="315.40" y2="148.9" stroke="#777" stroke-width="0.8"/>
<line x1="315.40" y1="247.6" x2="315.40" y2="249.6" stroke="#bbb" stroke-width="0.8"/>
<line x1="319.00" y1="148.0" x2="319.00" y2="148.9" stroke="#777" stroke-width="0.8"/>
<line x1="319.00" y1="247.6" x2="319.00" y2="249.6" stroke="#bbb" stroke-width="0.8"/>
<line x1="322.50" y1="148.0" x2="322.50" y2="148.9" stroke="#777" stroke-width="0.8"/>
<line x1="322.50" y1="247.6" x2="322.50" y2="249.6" stroke="#bbb" stroke-width="0.8"/>
<line x1="326.00" y1="148.0" x2="326.00" y2="148.9" stroke="#777" stroke-width="0.8"/>
<line x1="326.00" y1="247.6" x2="326.00" y2="249.6" stroke="#bbb" stroke-width="0.8"/>
<line x1="329.50" y1="148.0" x2="329.50" y2="148.9" stroke="#777" stroke-width="0.8"/>
<line x1="329.50" y1="247.6" x2="329.50" y2="249.6" stroke="#bbb" stroke-width="0.8"/>
<line x1="333.00" y1="148.0" x2="333.00" y2="148.9" stroke="#777" stroke-width="0.8"/>
<line x1="333.00" y1="247.6" x2="333.00" y2="249.6" stroke="#bbb" stroke-width="0.8"/>
<line x1="336.50" y1="148.0" x2="336.50" y2="148.9" stroke="#777" stroke-width="0.8"/>
<line x1="336.50" y1="247.6" x2="336.50" y2="249.6" stroke="#bbb" stroke-width="0.8"/>
<line x1="340.00" y1="148.0" x2="340.00" y2="148.9" stroke="#777" stroke-width="0.8"/>
<line x1="340.00" y1="247.6" x2="340.00" y2="249.6" stroke="#bbb" stroke-width="0.8"/>
<line x1="343.50" y1="148.0" x2="343.50" y2="148.9" stroke="#777" stroke-width="0.8"/>
<line x1="343.50" y1="247.6" x2="343.50" y2="249.6" stroke="#bbb" stroke-width="0.8"/>
<path d="M372.3,149.4V247.9H516.4V149.4H372.3" fill="none" stroke="#222" stroke-width="1.1"/>
<line x1="369.90000000000003" y1="247.90" x2="372.3" y2="247.90" stroke="#222" stroke-width="0.9"/>
<line x1="516.4" y1="247.90" x2="518.8" y2="247.90" stroke="#222" stroke-width="0.9"/>
<line x1="370.6" y1="235.59" x2="372.3" y2="235.59" stroke="#222" stroke-width="0.9"/>
<line x1="516.4" y1="235.59" x2="518.1" y2="235.59" stroke="#222" stroke-width="0.9"/>
<line x1="369.90000000000003" y1="223.28" x2="372.3" y2="223.28" stroke="#222" stroke-width="0.9"/>
<line x1="516.4" y1="223.28" x2="518.8" y2="223.28" stroke="#222" stroke-width="0.9"/>
<line x1="370.6" y1="210.96" x2="372.3" y2="210.96" stroke="#222" stroke-width="0.9"/>
<line x1="516.4" y1="210.96" x2="518.1" y2="210.96" stroke="#222" stroke-width="0.9"/>
<line x1="369.90000000000003" y1="198.65" x2="372.3" y2="198.65" stroke="#222" stroke-width="0.9"/>
<line x1="516.4" y1="198.65" x2="518.8" y2="198.65" stroke="#222" stroke-width="0.9"/>
<line x1="370.6" y1="186.34" x2="372.3" y2="186.34" stroke="#222" stroke-width="0.9"/>
<line x1="516.4" y1="186.34" x2="518.1" y2="186.34" stroke="#222" stroke-width="0.9"/>
<line x1="369.90000000000003" y1="174.03" x2="372.3" y2="174.03" stroke="#222" stroke-width="0.9"/>
<line x1="516.4" y1="174.03" x2="518.8" y2="174.03" stroke="#222" stroke-width="0.9"/>
<line x1="370.6" y1="161.71" x2="372.3" y2="161.71" stroke="#222" stroke-width="0.9"/>
<line x1="516.4" y1="161.71" x2="518.1" y2="161.71" stroke="#222" stroke-width="0.9"/>
<line x1="369.90000000000003" y1="149.40" x2="372.3" y2="149.40" stroke="#222" stroke-width="0.9"/>
<line x1="516.4" y1="149.40" x2="518.8" y2="149.40" stroke="#222" stroke-width="0.9"/>
<text x="364.00" y="250.50" text-anchor="middle" font-size="7" fill="#1a1a1a" stroke="#1a1a1a" stroke-width="0.3">0</text>
<text x="364.00" y="225.88" text-anchor="middle" font-size="7" fill="#1a1a1a" stroke="#1a1a1a" stroke-width="0.3">20</text>
<text x="364.00" y="201.25" text-anchor="middle" font-size="7" fill="#1a1a1a" stroke="#1a1a1a" stroke-width="0.3">40</text>
<text x="364.00" y="176.62" text-anchor="middle" font-size="7" fill="#1a1a1a" stroke="#1a1a1a" stroke-width="0.3">60</text>
<text x="364.00" y="152.00" text-anchor="middle" font-size="7" fill="#1a1a1a" stroke="#1a1a1a" stroke-width="0.3">80</text>
<line x1="376.50" y1="148.5" x2="376.50" y2="149.4" stroke="#777" stroke-width="0.8"/>
<line x1="376.50" y1="247.9" x2="376.50" y2="249.9" stroke="#bbb" stroke-width="0.8"/>
<line x1="379.80" y1="148.5" x2="379.80" y2="149.4" stroke="#777" stroke-width="0.8"/>
<line x1="379.80" y1="247.9" x2="379.80" y2="249.9" stroke="#bbb" stroke-width="0.8"/>
<line x1="383.50" y1="148.5" x2="383.50" y2="149.4" stroke="#777" stroke-width="0.8"/>
<line x1="383.50" y1="247.9" x2="383.50" y2="249.9" stroke="#bbb" stroke-width="0.8"/>
<line x1="387.00" y1="148.5" x2="387.00" y2="149.4" stroke="#777" stroke-width="0.8"/>
<line x1="387.00" y1="247.9" x2="387.00" y2="249.9" stroke="#bbb" stroke-width="0.8"/>
<line x1="390.30" y1="148.5" x2="390.30" y2="149.4" stroke="#777" stroke-width="0.8"/>
<line x1="390.30" y1="247.9" x2="390.30" y2="249.9" stroke="#bbb" stroke-width="0.8"/>
<line x1="394.20" y1="148.5" x2="394.20" y2="149.4" stroke="#777" stroke-width="0.8"/>
<line x1="394.20" y1="247.9" x2="394.20" y2="249.9" stroke="#bbb" stroke-width="0.8"/>
<line x1="397.70" y1="148.5" x2="397.70" y2="149.4" stroke="#777" stroke-width="0.8"/>
<line x1="397.70" y1="247.9" x2="397.70" y2="249.9" stroke="#bbb" stroke-width="0.8"/>
<line x1="401.00" y1="148.5" x2="401.00" y2="149.4" stroke="#777" stroke-width="0.8"/>
<line x1="401.00" y1="247.9" x2="401.00" y2="249.9" stroke="#bbb" stroke-width="0.8"/>
<line x1="404.70" y1="148.5" x2="404.70" y2="149.4" stroke="#777" stroke-width="0.8"/>
<line x1="404.70" y1="247.9" x2="404.70" y2="249.9" stroke="#bbb" stroke-width="0.8"/>
<line x1="412.50" y1="148.5" x2="412.50" y2="149.4" stroke="#777" stroke-width="0.8"/>
<line x1="412.50" y1="247.9" x2="412.50" y2="249.9" stroke="#bbb" stroke-width="0.8"/>
<line x1="415.80" y1="148.5" x2="415.80" y2="149.4" stroke="#777" stroke-width="0.8"/>
<line x1="415.80" y1="247.9" x2="415.80" y2="249.9" stroke="#bbb" stroke-width="0.8"/>
<line x1="419.30" y1="148.5" x2="419.30" y2="149.4" stroke="#777" stroke-width="0.8"/>
<line x1="419.30" y1="247.9" x2="419.30" y2="249.9" stroke="#bbb" stroke-width="0.8"/>
<line x1="422.80" y1="148.5" x2="422.80" y2="149.4" stroke="#777" stroke-width="0.8"/>
<line x1="422.80" y1="247.9" x2="422.80" y2="249.9" stroke="#bbb" stroke-width="0.8"/>
<line x1="426.00" y1="148.5" x2="426.00" y2="149.4" stroke="#777" stroke-width="0.8"/>
<line x1="426.00" y1="247.9" x2="426.00" y2="249.9" stroke="#bbb" stroke-width="0.8"/>
<line x1="429.30" y1="148.5" x2="429.30" y2="149.4" stroke="#777" stroke-width="0.8"/>
<line x1="429.30" y1="247.9" x2="429.30" y2="249.9" stroke="#bbb" stroke-width="0.8"/>
<line x1="433.10" y1="148.5" x2="433.10" y2="149.4" stroke="#777" stroke-width="0.8"/>
<line x1="433.10" y1="247.9" x2="433.10" y2="249.9" stroke="#bbb" stroke-width="0.8"/>
<line x1="436.80" y1="148.5" x2="436.80" y2="149.4" stroke="#777" stroke-width="0.8"/>
<line x1="436.80" y1="247.9" x2="436.80" y2="249.9" stroke="#bbb" stroke-width="0.8"/>
<line x1="440.30" y1="148.5" x2="440.30" y2="149.4" stroke="#777" stroke-width="0.8"/>
<line x1="440.30" y1="247.9" x2="440.30" y2="249.9" stroke="#bbb" stroke-width="0.8"/>
<line x1="448.50" y1="148.5" x2="448.50" y2="149.4" stroke="#777" stroke-width="0.8"/>
<line x1="448.50" y1="247.9" x2="448.50" y2="249.9" stroke="#bbb" stroke-width="0.8"/>
<line x1="452.00" y1="148.5" x2="452.00" y2="149.4" stroke="#777" stroke-width="0.8"/>
<line x1="452.00" y1="247.9" x2="452.00" y2="249.9" stroke="#bbb" stroke-width="0.8"/>
<line x1="455.50" y1="148.5" x2="455.50" y2="149.4" stroke="#777" stroke-width="0.8"/>
<line x1="455.50" y1="247.9" x2="455.50" y2="249.9" stroke="#bbb" stroke-width="0.8"/>
<line x1="459.00" y1="148.5" x2="459.00" y2="149.4" stroke="#777" stroke-width="0.8"/>
<line x1="459.00" y1="247.9" x2="459.00" y2="249.9" stroke="#bbb" stroke-width="0.8"/>
<line x1="462.70" y1="148.5" x2="462.70" y2="149.4" stroke="#777" stroke-width="0.8"/>
<line x1="462.70" y1="247.9" x2="462.70" y2="249.9" stroke="#bbb" stroke-width="0.8"/>
<line x1="466.30" y1="148.5" x2="466.30" y2="149.4" stroke="#777" stroke-width="0.8"/>
<line x1="466.30" y1="247.9" x2="466.30" y2="249.9" stroke="#bbb" stroke-width="0.8"/>
<line x1="470.00" y1="148.5" x2="470.00" y2="149.4" stroke="#777" stroke-width="0.8"/>
<line x1="470.00" y1="247.9" x2="470.00" y2="249.9" stroke="#bbb" stroke-width="0.8"/>
<line x1="473.30" y1="148.5" x2="473.30" y2="149.4" stroke="#777" stroke-width="0.8"/>
<line x1="473.30" y1="247.9" x2="473.30" y2="249.9" stroke="#bbb" stroke-width="0.8"/>
<line x1="476.50" y1="148.5" x2="476.50" y2="149.4" stroke="#777" stroke-width="0.8"/>
<line x1="476.50" y1="247.9" x2="476.50" y2="249.9" stroke="#bbb" stroke-width="0.8"/>
<line x1="484.50" y1="148.5" x2="484.50" y2="149.4" stroke="#777" stroke-width="0.8"/>
<line x1="484.50" y1="247.9" x2="484.50" y2="249.9" stroke="#bbb" stroke-width="0.8"/>
<line x1="488.00" y1="148.5" x2="488.00" y2="149.4" stroke="#777" stroke-width="0.8"/>
<line x1="488.00" y1="247.9" x2="488.00" y2="249.9" stroke="#bbb" stroke-width="0.8"/>
<line x1="491.50" y1="148.5" x2="491.50" y2="149.4" stroke="#777" stroke-width="0.8"/>
<line x1="491.50" y1="247.9" x2="491.50" y2="249.9" stroke="#bbb" stroke-width="0.8"/>
<line x1="495.00" y1="148.5" x2="495.00" y2="149.4" stroke="#777" stroke-width="0.8"/>
<line x1="495.00" y1="247.9" x2="495.00" y2="249.9" stroke="#bbb" stroke-width="0.8"/>
<line x1="498.70" y1="148.5" x2="498.70" y2="149.4" stroke="#777" stroke-width="0.8"/>
<line x1="498.70" y1="247.9" x2="498.70" y2="249.9" stroke="#bbb" stroke-width="0.8"/>
<line x1="502.00" y1="148.5" x2="502.00" y2="149.4" stroke="#777" stroke-width="0.8"/>
<line x1="502.00" y1="247.9" x2="502.00" y2="249.9" stroke="#bbb" stroke-width="0.8"/>
<line x1="506.00" y1="148.5" x2="506.00" y2="149.4" stroke="#777" stroke-width="0.8"/>
<line x1="506.00" y1="247.9" x2="506.00" y2="249.9" stroke="#bbb" stroke-width="0.8"/>
<line x1="509.30" y1="148.5" x2="509.30" y2="149.4" stroke="#777" stroke-width="0.8"/>
<line x1="509.30" y1="247.9" x2="509.30" y2="249.9" stroke="#bbb" stroke-width="0.8"/>
<line x1="512.50" y1="148.5" x2="512.50" y2="149.4" stroke="#777" stroke-width="0.8"/>
<line x1="512.50" y1="247.9" x2="512.50" y2="249.9" stroke="#bbb" stroke-width="0.8"/>
<path d="M34.5,263.7V361.3H180.5V263.7H34.5" fill="none" stroke="#222" stroke-width="1.1"/>
<line x1="32.1" y1="361.30" x2="34.5" y2="361.30" stroke="#222" stroke-width="0.9"/>
<line x1="180.5" y1="361.30" x2="182.9" y2="361.30" stroke="#222" stroke-width="0.9"/>
<line x1="32.8" y1="350.46" x2="34.5" y2="350.46" stroke="#222" stroke-width="0.9"/>
<line x1="180.5" y1="350.46" x2="182.2" y2="350.46" stroke="#222" stroke-width="0.9"/>
<line x1="32.1" y1="339.61" x2="34.5" y2="339.61" stroke="#222" stroke-width="0.9"/>
<line x1="180.5" y1="339.61" x2="182.9" y2="339.61" stroke="#222" stroke-width="0.9"/>
<line x1="32.8" y1="328.77" x2="34.5" y2="328.77" stroke="#222" stroke-width="0.9"/>
<line x1="180.5" y1="328.77" x2="182.2" y2="328.77" stroke="#222" stroke-width="0.9"/>
<line x1="32.1" y1="317.92" x2="34.5" y2="317.92" stroke="#222" stroke-width="0.9"/>
<line x1="180.5" y1="317.92" x2="182.9" y2="317.92" stroke="#222" stroke-width="0.9"/>
<line x1="32.8" y1="307.08" x2="34.5" y2="307.08" stroke="#222" stroke-width="0.9"/>
<line x1="180.5" y1="307.08" x2="182.2" y2="307.08" stroke="#222" stroke-width="0.9"/>
<line x1="32.1" y1="296.23" x2="34.5" y2="296.23" stroke="#222" stroke-width="0.9"/>
<line x1="180.5" y1="296.23" x2="182.9" y2="296.23" stroke="#222" stroke-width="0.9"/>
<line x1="32.8" y1="285.39" x2="34.5" y2="285.39" stroke="#222" stroke-width="0.9"/>
<line x1="180.5" y1="285.39" x2="182.2" y2="285.39" stroke="#222" stroke-width="0.9"/>
<line x1="32.1" y1="274.54" x2="34.5" y2="274.54" stroke="#222" stroke-width="0.9"/>
<line x1="180.5" y1="274.54" x2="182.9" y2="274.54" stroke="#222" stroke-width="0.9"/>
<line x1="32.8" y1="263.70" x2="34.5" y2="263.70" stroke="#222" stroke-width="0.9"/>
<line x1="180.5" y1="263.70" x2="182.2" y2="263.70" stroke="#222" stroke-width="0.9"/>
<text x="26.20" y="363.90" text-anchor="middle" font-size="7" fill="#1a1a1a" stroke="#1a1a1a" stroke-width="0.3">0</text>
<text x="26.20" y="342.21" text-anchor="middle" font-size="7" fill="#1a1a1a" stroke="#1a1a1a" stroke-width="0.3">4</text>
<text x="26.20" y="320.52" text-anchor="middle" font-size="7" fill="#1a1a1a" stroke="#1a1a1a" stroke-width="0.3">8</text>
<text x="26.20" y="298.83" text-anchor="middle" font-size="7" fill="#1a1a1a" stroke="#1a1a1a" stroke-width="0.3">12</text>
<text x="26.20" y="277.14" text-anchor="middle" font-size="7" fill="#1a1a1a" stroke="#1a1a1a" stroke-width="0.3">16</text>
<line x1="38.40" y1="262.09999999999997" x2="38.40" y2="263.7" stroke="#222" stroke-width="0.8"/>
<line x1="38.40" y1="361.3" x2="38.40" y2="363.3" stroke="#bbb" stroke-width="0.8"/>
<line x1="42.50" y1="262.09999999999997" x2="42.50" y2="263.7" stroke="#222" stroke-width="0.8"/>
<line x1="42.50" y1="361.3" x2="42.50" y2="363.3" stroke="#bbb" stroke-width="0.8"/>
<line x1="45.80" y1="262.09999999999997" x2="45.80" y2="263.7" stroke="#222" stroke-width="0.8"/>
<line x1="45.80" y1="361.3" x2="45.80" y2="363.3" stroke="#bbb" stroke-width="0.8"/>
<line x1="49.00" y1="262.09999999999997" x2="49.00" y2="263.7" stroke="#222" stroke-width="0.8"/>
<line x1="49.00" y1="361.3" x2="49.00" y2="363.3" stroke="#bbb" stroke-width="0.8"/>
<line x1="52.50" y1="262.09999999999997" x2="52.50" y2="263.7" stroke="#222" stroke-width="0.8"/>
<line x1="52.50" y1="361.3" x2="52.50" y2="363.3" stroke="#bbb" stroke-width="0.8"/>
<line x1="56.00" y1="262.09999999999997" x2="56.00" y2="263.7" stroke="#222" stroke-width="0.8"/>
<line x1="56.00" y1="361.3" x2="56.00" y2="363.3" stroke="#bbb" stroke-width="0.8"/>
<line x1="59.50" y1="262.09999999999997" x2="59.50" y2="263.7" stroke="#222" stroke-width="0.8"/>
<line x1="59.50" y1="361.3" x2="59.50" y2="363.3" stroke="#bbb" stroke-width="0.8"/>
<line x1="63.00" y1="262.09999999999997" x2="63.00" y2="263.7" stroke="#222" stroke-width="0.8"/>
<line x1="63.00" y1="361.3" x2="63.00" y2="363.3" stroke="#bbb" stroke-width="0.8"/>
<line x1="67.00" y1="262.09999999999997" x2="67.00" y2="263.7" stroke="#222" stroke-width="0.8"/>
<line x1="67.00" y1="361.3" x2="67.00" y2="363.3" stroke="#bbb" stroke-width="0.8"/>
<line x1="74.50" y1="262.09999999999997" x2="74.50" y2="263.7" stroke="#222" stroke-width="0.8"/>
<line x1="74.50" y1="361.3" x2="74.50" y2="363.3" stroke="#bbb" stroke-width="0.8"/>
<line x1="78.00" y1="262.09999999999997" x2="78.00" y2="263.7" stroke="#222" stroke-width="0.8"/>
<line x1="78.00" y1="361.3" x2="78.00" y2="363.3" stroke="#bbb" stroke-width="0.8"/>
<line x1="81.50" y1="262.09999999999997" x2="81.50" y2="263.7" stroke="#222" stroke-width="0.8"/>
<line x1="81.50" y1="361.3" x2="81.50" y2="363.3" stroke="#bbb" stroke-width="0.8"/>
<line x1="85.00" y1="262.09999999999997" x2="85.00" y2="263.7" stroke="#222" stroke-width="0.8"/>
<line x1="85.00" y1="361.3" x2="85.00" y2="363.3" stroke="#bbb" stroke-width="0.8"/>
<line x1="88.70" y1="262.09999999999997" x2="88.70" y2="263.7" stroke="#222" stroke-width="0.8"/>
<line x1="88.70" y1="361.3" x2="88.70" y2="363.3" stroke="#bbb" stroke-width="0.8"/>
<line x1="92.20" y1="262.09999999999997" x2="92.20" y2="263.7" stroke="#222" stroke-width="0.8"/>
<line x1="92.20" y1="361.3" x2="92.20" y2="363.3" stroke="#bbb" stroke-width="0.8"/>
<line x1="95.80" y1="262.09999999999997" x2="95.80" y2="263.7" stroke="#222" stroke-width="0.8"/>
<line x1="95.80" y1="361.3" x2="95.80" y2="363.3" stroke="#bbb" stroke-width="0.8"/>
<line x1="99.30" y1="262.09999999999997" x2="99.30" y2="263.7" stroke="#222" stroke-width="0.8"/>
<line x1="99.30" y1="361.3" x2="99.30" y2="363.3" stroke="#bbb" stroke-width="0.8"/>
<line x1="102.80" y1="262.09999999999997" x2="102.80" y2="263.7" stroke="#222" stroke-width="0.8"/>
<line x1="102.80" y1="361.3" x2="102.80" y2="363.3" stroke="#bbb" stroke-width="0.8"/>
<line x1="110.50" y1="262.09999999999997" x2="110.50" y2="263.7" stroke="#222" stroke-width="0.8"/>
<line x1="110.50" y1="361.3" x2="110.50" y2="363.3" stroke="#bbb" stroke-width="0.8"/>
<line x1="114.00" y1="262.09999999999997" x2="114.00" y2="263.7" stroke="#222" stroke-width="0.8"/>
<line x1="114.00" y1="361.3" x2="114.00" y2="363.3" stroke="#bbb" stroke-width="0.8"/>
<line x1="117.50" y1="262.09999999999997" x2="117.50" y2="263.7" stroke="#222" stroke-width="0.8"/>
<line x1="117.50" y1="361.3" x2="117.50" y2="363.3" stroke="#bbb" stroke-width="0.8"/>
<line x1="121.00" y1="262.09999999999997" x2="121.00" y2="263.7" stroke="#222" stroke-width="0.8"/>
<line x1="121.00" y1="361.3" x2="121.00" y2="363.3" stroke="#bbb" stroke-width="0.8"/>
<line x1="124.70" y1="262.09999999999997" x2="124.70" y2="263.7" stroke="#222" stroke-width="0.8"/>
<line x1="124.70" y1="361.3" x2="124.70" y2="363.3" stroke="#bbb" stroke-width="0.8"/>
<line x1="128.20" y1="262.09999999999997" x2="128.20" y2="263.7" stroke="#222" stroke-width="0.8"/>
<line x1="128.20" y1="361.3" x2="128.20" y2="363.3" stroke="#bbb" stroke-width="0.8"/>
<line x1="131.80" y1="262.09999999999997" x2="131.80" y2="263.7" stroke="#222" stroke-width="0.8"/>
<line x1="131.80" y1="361.3" x2="131.80" y2="363.3" stroke="#bbb" stroke-width="0.8"/>
<line x1="135.30" y1="262.09999999999997" x2="135.30" y2="263.7" stroke="#222" stroke-width="0.8"/>
<line x1="135.30" y1="361.3" x2="135.30" y2="363.3" stroke="#bbb" stroke-width="0.8"/>
<line x1="138.80" y1="262.09999999999997" x2="138.80" y2="263.7" stroke="#222" stroke-width="0.8"/>
<line x1="138.80" y1="361.3" x2="138.80" y2="363.3" stroke="#bbb" stroke-width="0.8"/>
<line x1="146.50" y1="262.09999999999997" x2="146.50" y2="263.7" stroke="#222" stroke-width="0.8"/>
<line x1="146.50" y1="361.3" x2="146.50" y2="363.3" stroke="#bbb" stroke-width="0.8"/>
<line x1="150.00" y1="262.09999999999997" x2="150.00" y2="263.7" stroke="#222" stroke-width="0.8"/>
<line x1="150.00" y1="361.3" x2="150.00" y2="363.3" stroke="#bbb" stroke-width="0.8"/>
<line x1="153.50" y1="262.09999999999997" x2="153.50" y2="263.7" stroke="#222" stroke-width="0.8"/>
<line x1="153.50" y1="361.3" x2="153.50" y2="363.3" stroke="#bbb" stroke-width="0.8"/>
<line x1="157.00" y1="262.09999999999997" x2="157.00" y2="263.7" stroke="#222" stroke-width="0.8"/>
<line x1="157.00" y1="361.3" x2="157.00" y2="363.3" stroke="#bbb" stroke-width="0.8"/>
<line x1="160.50" y1="262.09999999999997" x2="160.50" y2="263.7" stroke="#222" stroke-width="0.8"/>
<line x1="160.50" y1="361.3" x2="160.50" y2="363.3" stroke="#bbb" stroke-width="0.8"/>
<line x1="164.00" y1="262.09999999999997" x2="164.00" y2="263.7" stroke="#222" stroke-width="0.8"/>
<line x1="164.00" y1="361.3" x2="164.00" y2="363.3" stroke="#bbb" stroke-width="0.8"/>
<line x1="167.50" y1="262.09999999999997" x2="167.50" y2="263.7" stroke="#222" stroke-width="0.8"/>
<line x1="167.50" y1="361.3" x2="167.50" y2="363.3" stroke="#bbb" stroke-width="0.8"/>
<line x1="171.00" y1="262.09999999999997" x2="171.00" y2="263.7" stroke="#222" stroke-width="0.8"/>
<line x1="171.00" y1="361.3" x2="171.00" y2="363.3" stroke="#bbb" stroke-width="0.8"/>
<line x1="174.50" y1="262.09999999999997" x2="174.50" y2="263.7" stroke="#222" stroke-width="0.8"/>
<line x1="174.50" y1="361.3" x2="174.50" y2="363.3" stroke="#bbb" stroke-width="0.8"/>
<path d="M202.9,264.0V363.2H347.8V264.0H202.9" fill="none" stroke="#222" stroke-width="1.1"/>
<line x1="200.5" y1="363.20" x2="202.9" y2="363.20" stroke="#222" stroke-width="0.9"/>
<line x1="347.8" y1="363.20" x2="350.2" y2="363.20" stroke="#222" stroke-width="0.9"/>
<line x1="201.20000000000002" y1="352.18" x2="202.9" y2="352.18" stroke="#222" stroke-width="0.9"/>
<line x1="347.8" y1="352.18" x2="349.5" y2="352.18" stroke="#222" stroke-width="0.9"/>
<line x1="200.5" y1="341.16" x2="202.9" y2="341.16" stroke="#222" stroke-width="0.9"/>
<line x1="347.8" y1="341.16" x2="350.2" y2="341.16" stroke="#222" stroke-width="0.9"/>
<line x1="201.20000000000002" y1="330.13" x2="202.9" y2="330.13" stroke="#222" stroke-width="0.9"/>
<line x1="347.8" y1="330.13" x2="349.5" y2="330.13" stroke="#222" stroke-width="0.9"/>
<line x1="200.5" y1="319.11" x2="202.9" y2="319.11" stroke="#222" stroke-width="0.9"/>
<line x1="347.8" y1="319.11" x2="350.2" y2="319.11" stroke="#222" stroke-width="0.9"/>
<line x1="201.20000000000002" y1="308.09" x2="202.9" y2="308.09" stroke="#222" stroke-width="0.9"/>
<line x1="347.8" y1="308.09" x2="349.5" y2="308.09" stroke="#222" stroke-width="0.9"/>
<line x1="200.5" y1="297.07" x2="202.9" y2="297.07" stroke="#222" stroke-width="0.9"/>
<line x1="347.8" y1="297.07" x2="350.2" y2="297.07" stroke="#222" stroke-width="0.9"/>
<line x1="201.20000000000002" y1="286.04" x2="202.9" y2="286.04" stroke="#222" stroke-width="0.9"/>
<line x1="347.8" y1="286.04" x2="349.5" y2="286.04" stroke="#222" stroke-width="0.9"/>
<line x1="200.5" y1="275.02" x2="202.9" y2="275.02" stroke="#222" stroke-width="0.9"/>
<line x1="347.8" y1="275.02" x2="350.2" y2="275.02" stroke="#222" stroke-width="0.9"/>
<line x1="201.20000000000002" y1="264.00" x2="202.9" y2="264.00" stroke="#222" stroke-width="0.9"/>
<line x1="347.8" y1="264.00" x2="349.5" y2="264.00" stroke="#222" stroke-width="0.9"/>
<text x="194.60" y="365.80" text-anchor="middle" font-size="7" fill="#1a1a1a" stroke="#1a1a1a" stroke-width="0.3">0</text>
<text x="194.60" y="343.76" text-anchor="middle" font-size="7" fill="#1a1a1a" stroke="#1a1a1a" stroke-width="0.3">5</text>
<text x="194.60" y="321.71" text-anchor="middle" font-size="7" fill="#1a1a1a" stroke="#1a1a1a" stroke-width="0.3">10</text>
<text x="194.60" y="299.67" text-anchor="middle" font-size="7" fill="#1a1a1a" stroke="#1a1a1a" stroke-width="0.3">15</text>
<text x="194.60" y="277.62" text-anchor="middle" font-size="7" fill="#1a1a1a" stroke="#1a1a1a" stroke-width="0.3">20</text>
<line x1="206.60" y1="262.4" x2="206.60" y2="264.0" stroke="#222" stroke-width="0.8"/>
<line x1="206.60" y1="363.2" x2="206.60" y2="365.2" stroke="#bbb" stroke-width="0.8"/>
<line x1="210.00" y1="262.4" x2="210.00" y2="264.0" stroke="#222" stroke-width="0.8"/>
<line x1="210.00" y1="363.2" x2="210.00" y2="365.2" stroke="#bbb" stroke-width="0.8"/>
<line x1="213.60" y1="262.4" x2="213.60" y2="264.0" stroke="#222" stroke-width="0.8"/>
<line x1="213.60" y1="363.2" x2="213.60" y2="365.2" stroke="#bbb" stroke-width="0.8"/>
<line x1="217.00" y1="262.4" x2="217.00" y2="264.0" stroke="#222" stroke-width="0.8"/>
<line x1="217.00" y1="363.2" x2="217.00" y2="365.2" stroke="#bbb" stroke-width="0.8"/>
<line x1="220.30" y1="262.4" x2="220.30" y2="264.0" stroke="#222" stroke-width="0.8"/>
<line x1="220.30" y1="363.2" x2="220.30" y2="365.2" stroke="#bbb" stroke-width="0.8"/>
<line x1="223.80" y1="262.4" x2="223.80" y2="264.0" stroke="#222" stroke-width="0.8"/>
<line x1="223.80" y1="363.2" x2="223.80" y2="365.2" stroke="#bbb" stroke-width="0.8"/>
<line x1="227.30" y1="262.4" x2="227.30" y2="264.0" stroke="#222" stroke-width="0.8"/>
<line x1="227.30" y1="363.2" x2="227.30" y2="365.2" stroke="#bbb" stroke-width="0.8"/>
<line x1="231.00" y1="262.4" x2="231.00" y2="264.0" stroke="#222" stroke-width="0.8"/>
<line x1="231.00" y1="363.2" x2="231.00" y2="365.2" stroke="#bbb" stroke-width="0.8"/>
<line x1="234.30" y1="262.4" x2="234.30" y2="264.0" stroke="#222" stroke-width="0.8"/>
<line x1="234.30" y1="363.2" x2="234.30" y2="365.2" stroke="#bbb" stroke-width="0.8"/>
<line x1="242.50" y1="262.4" x2="242.50" y2="264.0" stroke="#222" stroke-width="0.8"/>
<line x1="242.50" y1="363.2" x2="242.50" y2="365.2" stroke="#bbb" stroke-width="0.8"/>
<line x1="246.00" y1="262.4" x2="246.00" y2="264.0" stroke="#222" stroke-width="0.8"/>
<line x1="246.00" y1="363.2" x2="246.00" y2="365.2" stroke="#bbb" stroke-width="0.8"/>
<line x1="249.50" y1="262.4" x2="249.50" y2="264.0" stroke="#222" stroke-width="0.8"/>
<line x1="249.50" y1="363.2" x2="249.50" y2="365.2" stroke="#bbb" stroke-width="0.8"/>
<line x1="253.00" y1="262.4" x2="253.00" y2="264.0" stroke="#222" stroke-width="0.8"/>
<line x1="253.00" y1="363.2" x2="253.00" y2="365.2" stroke="#bbb" stroke-width="0.8"/>
<line x1="256.50" y1="262.4" x2="256.50" y2="264.0" stroke="#222" stroke-width="0.8"/>
<line x1="256.50" y1="363.2" x2="256.50" y2="365.2" stroke="#bbb" stroke-width="0.8"/>
<line x1="260.00" y1="262.4" x2="260.00" y2="264.0" stroke="#222" stroke-width="0.8"/>
<line x1="260.00" y1="363.2" x2="260.00" y2="365.2" stroke="#bbb" stroke-width="0.8"/>
<line x1="263.50" y1="262.4" x2="263.50" y2="264.0" stroke="#222" stroke-width="0.8"/>
<line x1="263.50" y1="363.2" x2="263.50" y2="365.2" stroke="#bbb" stroke-width="0.8"/>
<line x1="267.00" y1="262.4" x2="267.00" y2="264.0" stroke="#222" stroke-width="0.8"/>
<line x1="267.00" y1="363.2" x2="267.00" y2="365.2" stroke="#bbb" stroke-width="0.8"/>
<line x1="270.50" y1="262.4" x2="270.50" y2="264.0" stroke="#222" stroke-width="0.8"/>
<line x1="270.50" y1="363.2" x2="270.50" y2="365.2" stroke="#bbb" stroke-width="0.8"/>
<line x1="278.80" y1="262.4" x2="278.80" y2="264.0" stroke="#222" stroke-width="0.8"/>
<line x1="278.80" y1="363.2" x2="278.80" y2="365.2" stroke="#bbb" stroke-width="0.8"/>
<line x1="282.30" y1="262.4" x2="282.30" y2="264.0" stroke="#222" stroke-width="0.8"/>
<line x1="282.30" y1="363.2" x2="282.30" y2="365.2" stroke="#bbb" stroke-width="0.8"/>
<line x1="285.80" y1="262.4" x2="285.80" y2="264.0" stroke="#222" stroke-width="0.8"/>
<line x1="285.80" y1="363.2" x2="285.80" y2="365.2" stroke="#bbb" stroke-width="0.8"/>
<line x1="289.30" y1="262.4" x2="289.30" y2="264.0" stroke="#222" stroke-width="0.8"/>
<line x1="289.30" y1="363.2" x2="289.30" y2="365.2" stroke="#bbb" stroke-width="0.8"/>
<line x1="292.70" y1="262.4" x2="292.70" y2="264.0" stroke="#222" stroke-width="0.8"/>
<line x1="292.70" y1="363.2" x2="292.70" y2="365.2" stroke="#bbb" stroke-width="0.8"/>
<line x1="296.20" y1="262.4" x2="296.20" y2="264.0" stroke="#222" stroke-width="0.8"/>
<line x1="296.20" y1="363.2" x2="296.20" y2="365.2" stroke="#bbb" stroke-width="0.8"/>
<line x1="299.70" y1="262.4" x2="299.70" y2="264.0" stroke="#222" stroke-width="0.8"/>
<line x1="299.70" y1="363.2" x2="299.70" y2="365.2" stroke="#bbb" stroke-width="0.8"/>
<line x1="303.20" y1="262.4" x2="303.20" y2="264.0" stroke="#222" stroke-width="0.8"/>
<line x1="303.20" y1="363.2" x2="303.20" y2="365.2" stroke="#bbb" stroke-width="0.8"/>
<line x1="306.70" y1="262.4" x2="306.70" y2="264.0" stroke="#222" stroke-width="0.8"/>
<line x1="306.70" y1="363.2" x2="306.70" y2="365.2" stroke="#bbb" stroke-width="0.8"/>
<line x1="314.80" y1="262.4" x2="314.80" y2="264.0" stroke="#222" stroke-width="0.8"/>
<line x1="314.80" y1="363.2" x2="314.80" y2="365.2" stroke="#bbb" stroke-width="0.8"/>
<line x1="318.30" y1="262.4" x2="318.30" y2="264.0" stroke="#222" stroke-width="0.8"/>
<line x1="318.30" y1="363.2" x2="318.30" y2="365.2" stroke="#bbb" stroke-width="0.8"/>
<line x1="321.80" y1="262.4" x2="321.80" y2="264.0" stroke="#222" stroke-width="0.8"/>
<line x1="321.80" y1="363.2" x2="321.80" y2="365.2" stroke="#bbb" stroke-width="0.8"/>
<line x1="325.30" y1="262.4" x2="325.30" y2="264.0" stroke="#222" stroke-width="0.8"/>
<line x1="325.30" y1="363.2" x2="325.30" y2="365.2" stroke="#bbb" stroke-width="0.8"/>
<line x1="328.80" y1="262.4" x2="328.80" y2="264.0" stroke="#222" stroke-width="0.8"/>
<line x1="328.80" y1="363.2" x2="328.80" y2="365.2" stroke="#bbb" stroke-width="0.8"/>
<line x1="332.30" y1="262.4" x2="332.30" y2="264.0" stroke="#222" stroke-width="0.8"/>
<line x1="332.30" y1="363.2" x2="332.30" y2="365.2" stroke="#bbb" stroke-width="0.8"/>
<line x1="335.80" y1="262.4" x2="335.80" y2="264.0" stroke="#222" stroke-width="0.8"/>
<line x1="335.80" y1="363.2" x2="335.80" y2="365.2" stroke="#bbb" stroke-width="0.8"/>
<line x1="339.30" y1="262.4" x2="339.30" y2="264.0" stroke="#222" stroke-width="0.8"/>
<line x1="339.30" y1="363.2" x2="339.30" y2="365.2" stroke="#bbb" stroke-width="0.8"/>
<line x1="342.80" y1="262.4" x2="342.80" y2="264.0" stroke="#222" stroke-width="0.8"/>
<line x1="342.80" y1="363.2" x2="342.80" y2="365.2" stroke="#bbb" stroke-width="0.8"/>
<path d="M371.5,265.0V362.6H516.3V265.0H371.5" fill="none" stroke="#222" stroke-width="1.1"/>
<line x1="369.1" y1="362.60" x2="371.5" y2="362.60" stroke="#222" stroke-width="0.9"/>
<line x1="516.3" y1="362.60" x2="518.6999999999999" y2="362.60" stroke="#222" stroke-width="0.9"/>
<line x1="369.8" y1="348.66" x2="371.5" y2="348.66" stroke="#222" stroke-width="0.9"/>
<line x1="516.3" y1="348.66" x2="518.0" y2="348.66" stroke="#222" stroke-width="0.9"/>
<line x1="369.1" y1="334.71" x2="371.5" y2="334.71" stroke="#222" stroke-width="0.9"/>
<line x1="516.3" y1="334.71" x2="518.6999999999999" y2="334.71" stroke="#222" stroke-width="0.9"/>
<line x1="369.8" y1="320.77" x2="371.5" y2="320.77" stroke="#222" stroke-width="0.9"/>
<line x1="516.3" y1="320.77" x2="518.0" y2="320.77" stroke="#222" stroke-width="0.9"/>
<line x1="369.1" y1="306.83" x2="371.5" y2="306.83" stroke="#222" stroke-width="0.9"/>
<line x1="516.3" y1="306.83" x2="518.6999999999999" y2="306.83" stroke="#222" stroke-width="0.9"/>
<line x1="369.8" y1="292.89" x2="371.5" y2="292.89" stroke="#222" stroke-width="0.9"/>
<line x1="516.3" y1="292.89" x2="518.0" y2="292.89" stroke="#222" stroke-width="0.9"/>
<line x1="369.1" y1="278.94" x2="371.5" y2="278.94" stroke="#222" stroke-width="0.9"/>
<line x1="516.3" y1="278.94" x2="518.6999999999999" y2="278.94" stroke="#222" stroke-width="0.9"/>
<line x1="369.8" y1="265.00" x2="371.5" y2="265.00" stroke="#222" stroke-width="0.9"/>
<line x1="516.3" y1="265.00" x2="518.0" y2="265.00" stroke="#222" stroke-width="0.9"/>
<text x="363.20" y="365.20" text-anchor="middle" font-size="7" fill="#1a1a1a" stroke="#1a1a1a" stroke-width="0.3">0</text>
<text x="363.20" y="337.31" text-anchor="middle" font-size="7" fill="#1a1a1a" stroke="#1a1a1a" stroke-width="0.3">20</text>
<text x="363.20" y="309.43" text-anchor="middle" font-size="7" fill="#1a1a1a" stroke="#1a1a1a" stroke-width="0.3">40</text>
<text x="363.20" y="281.54" text-anchor="middle" font-size="7" fill="#1a1a1a" stroke="#1a1a1a" stroke-width="0.3">60</text>
<line x1="374.90" y1="263.4" x2="374.90" y2="265.0" stroke="#222" stroke-width="0.8"/>
<line x1="374.90" y1="362.6" x2="374.90" y2="364.6" stroke="#bbb" stroke-width="0.8"/>
<line x1="378.50" y1="263.4" x2="378.50" y2="265.0" stroke="#222" stroke-width="0.8"/>
<line x1="378.50" y1="362.6" x2="378.50" y2="364.6" stroke="#bbb" stroke-width="0.8"/>
<line x1="382.40" y1="263.4" x2="382.40" y2="265.0" stroke="#222" stroke-width="0.8"/>
<line x1="382.40" y1="362.6" x2="382.40" y2="364.6" stroke="#bbb" stroke-width="0.8"/>
<line x1="385.30" y1="263.4" x2="385.30" y2="265.0" stroke="#222" stroke-width="0.8"/>
<line x1="385.30" y1="362.6" x2="385.30" y2="364.6" stroke="#bbb" stroke-width="0.8"/>
<line x1="388.90" y1="263.4" x2="388.90" y2="265.0" stroke="#222" stroke-width="0.8"/>
<line x1="388.90" y1="362.6" x2="388.90" y2="364.6" stroke="#bbb" stroke-width="0.8"/>
<line x1="392.70" y1="263.4" x2="392.70" y2="265.0" stroke="#222" stroke-width="0.8"/>
<line x1="392.70" y1="362.6" x2="392.70" y2="364.6" stroke="#bbb" stroke-width="0.8"/>
<line x1="395.70" y1="263.4" x2="395.70" y2="265.0" stroke="#222" stroke-width="0.8"/>
<line x1="395.70" y1="362.6" x2="395.70" y2="364.6" stroke="#bbb" stroke-width="0.8"/>
<line x1="399.30" y1="263.4" x2="399.30" y2="265.0" stroke="#222" stroke-width="0.8"/>
<line x1="399.30" y1="362.6" x2="399.30" y2="364.6" stroke="#bbb" stroke-width="0.8"/>
<line x1="403.00" y1="263.4" x2="403.00" y2="265.0" stroke="#222" stroke-width="0.8"/>
<line x1="403.00" y1="362.6" x2="403.00" y2="364.6" stroke="#bbb" stroke-width="0.8"/>
<line x1="411.70" y1="263.4" x2="411.70" y2="265.0" stroke="#222" stroke-width="0.8"/>
<line x1="411.70" y1="362.6" x2="411.70" y2="364.6" stroke="#bbb" stroke-width="0.8"/>
<line x1="415.00" y1="263.4" x2="415.00" y2="265.0" stroke="#222" stroke-width="0.8"/>
<line x1="415.00" y1="362.6" x2="415.00" y2="364.6" stroke="#bbb" stroke-width="0.8"/>
<line x1="418.50" y1="263.4" x2="418.50" y2="265.0" stroke="#222" stroke-width="0.8"/>
<line x1="418.50" y1="362.6" x2="418.50" y2="364.6" stroke="#bbb" stroke-width="0.8"/>
<line x1="422.00" y1="263.4" x2="422.00" y2="265.0" stroke="#222" stroke-width="0.8"/>
<line x1="422.00" y1="362.6" x2="422.00" y2="364.6" stroke="#bbb" stroke-width="0.8"/>
<line x1="425.40" y1="263.4" x2="425.40" y2="265.0" stroke="#222" stroke-width="0.8"/>
<line x1="425.40" y1="362.6" x2="425.40" y2="364.6" stroke="#bbb" stroke-width="0.8"/>
<line x1="429.00" y1="263.4" x2="429.00" y2="265.0" stroke="#222" stroke-width="0.8"/>
<line x1="429.00" y1="362.6" x2="429.00" y2="364.6" stroke="#bbb" stroke-width="0.8"/>
<line x1="432.50" y1="263.4" x2="432.50" y2="265.0" stroke="#222" stroke-width="0.8"/>
<line x1="432.50" y1="362.6" x2="432.50" y2="364.6" stroke="#bbb" stroke-width="0.8"/>
<line x1="436.10" y1="263.4" x2="436.10" y2="265.0" stroke="#222" stroke-width="0.8"/>
<line x1="436.10" y1="362.6" x2="436.10" y2="364.6" stroke="#bbb" stroke-width="0.8"/>
<line x1="439.70" y1="263.4" x2="439.70" y2="265.0" stroke="#222" stroke-width="0.8"/>
<line x1="439.70" y1="362.6" x2="439.70" y2="364.6" stroke="#bbb" stroke-width="0.8"/>
<line x1="447.30" y1="263.4" x2="447.30" y2="265.0" stroke="#222" stroke-width="0.8"/>
<line x1="447.30" y1="362.6" x2="447.30" y2="364.6" stroke="#bbb" stroke-width="0.8"/>
<line x1="451.00" y1="263.4" x2="451.00" y2="265.0" stroke="#222" stroke-width="0.8"/>
<line x1="451.00" y1="362.6" x2="451.00" y2="364.6" stroke="#bbb" stroke-width="0.8"/>
<line x1="454.60" y1="263.4" x2="454.60" y2="265.0" stroke="#222" stroke-width="0.8"/>
<line x1="454.60" y1="362.6" x2="454.60" y2="364.6" stroke="#bbb" stroke-width="0.8"/>
<line x1="458.30" y1="263.4" x2="458.30" y2="265.0" stroke="#222" stroke-width="0.8"/>
<line x1="458.30" y1="362.6" x2="458.30" y2="364.6" stroke="#bbb" stroke-width="0.8"/>
<line x1="461.50" y1="263.4" x2="461.50" y2="265.0" stroke="#222" stroke-width="0.8"/>
<line x1="461.50" y1="362.6" x2="461.50" y2="364.6" stroke="#bbb" stroke-width="0.8"/>
<line x1="465.20" y1="263.4" x2="465.20" y2="265.0" stroke="#222" stroke-width="0.8"/>
<line x1="465.20" y1="362.6" x2="465.20" y2="364.6" stroke="#bbb" stroke-width="0.8"/>
<line x1="468.90" y1="263.4" x2="468.90" y2="265.0" stroke="#222" stroke-width="0.8"/>
<line x1="468.90" y1="362.6" x2="468.90" y2="364.6" stroke="#bbb" stroke-width="0.8"/>
<line x1="472.40" y1="263.4" x2="472.40" y2="265.0" stroke="#222" stroke-width="0.8"/>
<line x1="472.40" y1="362.6" x2="472.40" y2="364.6" stroke="#bbb" stroke-width="0.8"/>
<line x1="476.10" y1="263.4" x2="476.10" y2="265.0" stroke="#222" stroke-width="0.8"/>
<line x1="476.10" y1="362.6" x2="476.10" y2="364.6" stroke="#bbb" stroke-width="0.8"/>
<line x1="483.20" y1="263.4" x2="483.20" y2="265.0" stroke="#222" stroke-width="0.8"/>
<line x1="483.20" y1="362.6" x2="483.20" y2="364.6" stroke="#bbb" stroke-width="0.8"/>
<line x1="487.00" y1="263.4" x2="487.00" y2="265.0" stroke="#222" stroke-width="0.8"/>
<line x1="487.00" y1="362.6" x2="487.00" y2="364.6" stroke="#bbb" stroke-width="0.8"/>
<line x1="490.50" y1="263.4" x2="490.50" y2="265.0" stroke="#222" stroke-width="0.8"/>
<line x1="490.50" y1="362.6" x2="490.50" y2="364.6" stroke="#bbb" stroke-width="0.8"/>
<line x1="494.00" y1="263.4" x2="494.00" y2="265.0" stroke="#222" stroke-width="0.8"/>
<line x1="494.00" y1="362.6" x2="494.00" y2="364.6" stroke="#bbb" stroke-width="0.8"/>
<line x1="497.80" y1="263.4" x2="497.80" y2="265.0" stroke="#222" stroke-width="0.8"/>
<line x1="497.80" y1="362.6" x2="497.80" y2="364.6" stroke="#bbb" stroke-width="0.8"/>
<line x1="501.30" y1="263.4" x2="501.30" y2="265.0" stroke="#222" stroke-width="0.8"/>
<line x1="501.30" y1="362.6" x2="501.30" y2="364.6" stroke="#bbb" stroke-width="0.8"/>
<line x1="505.00" y1="263.4" x2="505.00" y2="265.0" stroke="#222" stroke-width="0.8"/>
<line x1="505.00" y1="362.6" x2="505.00" y2="364.6" stroke="#bbb" stroke-width="0.8"/>
<line x1="508.50" y1="263.4" x2="508.50" y2="265.0" stroke="#222" stroke-width="0.8"/>
<line x1="508.50" y1="362.6" x2="508.50" y2="364.6" stroke="#bbb" stroke-width="0.8"/>
<line x1="512.00" y1="263.4" x2="512.00" y2="265.0" stroke="#222" stroke-width="0.8"/>
<line x1="512.00" y1="362.6" x2="512.00" y2="364.6" stroke="#bbb" stroke-width="0.8"/>
<text x="1.0" y="9.5" font-size="12.3" font-weight="bold" fill="#111">A</text>
<text x="186.3" y="9.5" font-size="12.3" font-weight="bold" fill="#111">D</text>
<text x="353.6" y="9.5" font-size="12.3" font-weight="bold" fill="#111">G</text>
<text x="1.3" y="143.5" font-size="12.3" font-weight="bold" fill="#111">B</text>
<text x="186.6" y="143.75" font-size="12.3" font-weight="bold" fill="#111">E</text>
<text x="354.4" y="143.75" font-size="12.3" font-weight="bold" fill="#111">H</text>
<text x="0.9" y="263.6" font-size="12.3" font-weight="bold" fill="#111">C</text>
<text x="186.8" y="263.75" font-size="12.3" font-weight="bold" fill="#111">F</text>
<text x="356.8" y="263.75" font-size="12.3" font-weight="bold" fill="#111">I</text>
<text x="96" y="8.2" text-anchor="middle" font-size="9.2" fill="#111" stroke="#111" stroke-width="0.28">Medium</text>
<text x="273" y="8.2" text-anchor="middle" font-size="9.2" fill="#111" stroke="#111" stroke-width="0.28">K562</text>
<text x="441" y="8.2" text-anchor="middle" font-size="9.2" fill="#111" stroke="#111" stroke-width="0.28">HCC</text>
<text x="39.60" y="26.9" font-size="8.7" fill="#111" stroke="#111" stroke-width="0.28" textLength="25.0" lengthAdjust="spacingAndGlyphs">Bright</text>
<text x="72.00" y="26.9" font-size="8.7" fill="#111" stroke="#111" stroke-width="0.28" textLength="21.8" lengthAdjust="spacingAndGlyphs">CD57</text>
<rect x="94.90" y="21.6" width="1.5" height="0.7" fill="#222"/>
<text x="103.90" y="26.9" font-size="8.7" fill="#111" stroke="#111" stroke-width="0.28" textLength="21.8" lengthAdjust="spacingAndGlyphs">CD57</text>
<text x="126.20" y="23.9" font-size="5" fill="#222" stroke="#222" stroke-width="0.2" textLength="8.2" lengthAdjust="spacingAndGlyphs">int</text>
<text x="141.70" y="26.9" font-size="8.7" fill="#111" stroke="#111" stroke-width="0.28" textLength="21.8" lengthAdjust="spacingAndGlyphs">CD57</text>
<path d="M164.80,22.05H167.60M166.20,20.65V23.45" stroke="#222" stroke-width="0.75"/>
<text x="207.80" y="26.9" font-size="8.7" fill="#111" stroke="#111" stroke-width="0.28" textLength="25.0" lengthAdjust="spacingAndGlyphs">Bright</text>
<text x="240.00" y="26.9" font-size="8.7" fill="#111" stroke="#111" stroke-width="0.28" textLength="21.8" lengthAdjust="spacingAndGlyphs">CD57</text>
<rect x="262.90" y="21.6" width="1.5" height="0.7" fill="#222"/>
<text x="272.90" y="26.9" font-size="8.7" fill="#111" stroke="#111" stroke-width="0.28" textLength="21.8" lengthAdjust="spacingAndGlyphs">CD57</text>
<text x="295.20" y="23.9" font-size="5" fill="#222" stroke="#222" stroke-width="0.2" textLength="8.2" lengthAdjust="spacingAndGlyphs">int</text>
<text x="310.30" y="26.9" font-size="8.7" fill="#111" stroke="#111" stroke-width="0.28" textLength="21.8" lengthAdjust="spacingAndGlyphs">CD57</text>
<path d="M333.40,22.05H336.20M334.80,20.65V23.45" stroke="#222" stroke-width="0.75"/>
<text x="377.20" y="26.9" font-size="8.7" fill="#111" stroke="#111" stroke-width="0.28" textLength="25.0" lengthAdjust="spacingAndGlyphs">Bright</text>
<text x="409.00" y="26.9" font-size="8.7" fill="#111" stroke="#111" stroke-width="0.28" textLength="21.8" lengthAdjust="spacingAndGlyphs">CD57</text>
<rect x="431.90" y="21.6" width="1.5" height="0.7" fill="#222"/>
<text x="441.50" y="26.9" font-size="8.7" fill="#111" stroke="#111" stroke-width="0.28" textLength="21.8" lengthAdjust="spacingAndGlyphs">CD57</text>
<text x="463.80" y="23.9" font-size="5" fill="#222" stroke="#222" stroke-width="0.2" textLength="8.2" lengthAdjust="spacingAndGlyphs">int</text>
<text x="477.90" y="26.9" font-size="8.7" fill="#111" stroke="#111" stroke-width="0.28" textLength="21.8" lengthAdjust="spacingAndGlyphs">CD57</text>
<path d="M501.00,22.05H503.80M502.40,20.65V23.45" stroke="#222" stroke-width="0.75"/>
<text transform="translate(9.6,77.0) rotate(-90)" text-anchor="middle" font-size="10" fill="#111" stroke="#111" stroke-width="0.15">CD107a (%)</text>
<text transform="translate(9.6,194.3) rotate(-90)" text-anchor="middle" font-size="10" fill="#111" stroke="#111" stroke-width="0.15">CD25(%)</text>
<text transform="translate(9.6,311.6) rotate(-90)" text-anchor="middle" font-size="10" fill="#111" stroke="#111" stroke-width="0.15">IFN-γ(%)</text>
<text transform="translate(39.90,373.2) rotate(-62)" font-size="7.6" font-weight="bold" fill="#2a2a2a">≤2</text>
<path d="M43.60,369.3H64.00M59.60,366.4L64.00,369.3L59.60,372.2" fill="none" stroke="#222" stroke-width="1.0"/>
<text transform="translate(66.60,379.6) rotate(-62)" font-size="7.6" font-weight="bold" fill="#2a2a2a">≥40</text>
<text transform="translate(75.80,373.2) rotate(-62)" font-size="7.6" font-weight="bold" fill="#2a2a2a">≤2</text>
<path d="M79.50,369.3H99.90M95.50,366.4L99.90,369.3L95.50,372.2" fill="none" stroke="#222" stroke-width="1.0"/>
<text transform="translate(102.50,379.6) rotate(-62)" font-size="7.6" font-weight="bold" fill="#2a2a2a">≥40</text>
<text transform="translate(111.70,373.2) rotate(-62)" font-size="7.6" font-weight="bold" fill="#2a2a2a">≤2</text>
<path d="M115.40,369.3H135.80M131.40,366.4L135.80,369.3L131.40,372.2" fill="none" stroke="#222" stroke-width="1.0"/>
<text transform="translate(138.40,379.6) rotate(-62)" font-size="7.6" font-weight="bold" fill="#2a2a2a">≥40</text>
<text transform="translate(147.60,373.2) rotate(-62)" font-size="7.6" font-weight="bold" fill="#2a2a2a">≤2</text>
<path d="M151.30,369.3H171.70M167.30,366.4L171.70,369.3L167.30,372.2" fill="none" stroke="#222" stroke-width="1.0"/>
<text transform="translate(174.30,379.6) rotate(-62)" font-size="7.6" font-weight="bold" fill="#2a2a2a">≥40</text>
<text transform="translate(207.40,373.2) rotate(-62)" font-size="7.6" font-weight="bold" fill="#2a2a2a">≤2</text>
<path d="M211.10,369.3H231.50M227.10,366.4L231.50,369.3L227.10,372.2" fill="none" stroke="#222" stroke-width="1.0"/>
<text transform="translate(234.10,379.6) rotate(-62)" font-size="7.6" font-weight="bold" fill="#2a2a2a">≥40</text>
<text transform="translate(243.30,373.2) rotate(-62)" font-size="7.6" font-weight="bold" fill="#2a2a2a">≤2</text>
<path d="M247.00,369.3H267.40M263.00,366.4L267.40,369.3L263.00,372.2" fill="none" stroke="#222" stroke-width="1.0"/>
<text transform="translate(270.00,379.6) rotate(-62)" font-size="7.6" font-weight="bold" fill="#2a2a2a">≥40</text>
<text transform="translate(279.20,373.2) rotate(-62)" font-size="7.6" font-weight="bold" fill="#2a2a2a">≤2</text>
<path d="M282.90,369.3H303.30M298.90,366.4L303.30,369.3L298.90,372.2" fill="none" stroke="#222" stroke-width="1.0"/>
<text transform="translate(305.90,379.6) rotate(-62)" font-size="7.6" font-weight="bold" fill="#2a2a2a">≥40</text>
<text transform="translate(315.10,373.2) rotate(-62)" font-size="7.6" font-weight="bold" fill="#2a2a2a">≤2</text>
<path d="M318.80,369.3H339.20M334.80,366.4L339.20,369.3L334.80,372.2" fill="none" stroke="#222" stroke-width="1.0"/>
<text transform="translate(341.80,379.6) rotate(-62)" font-size="7.6" font-weight="bold" fill="#2a2a2a">≥40</text>
<text transform="translate(377.50,373.2) rotate(-62)" font-size="7.6" font-weight="bold" fill="#2a2a2a">≤2</text>
<path d="M381.20,369.3H401.60M397.20,366.4L401.60,369.3L397.20,372.2" fill="none" stroke="#222" stroke-width="1.0"/>
<text transform="translate(404.20,379.6) rotate(-62)" font-size="7.6" font-weight="bold" fill="#2a2a2a">≥40</text>
<text transform="translate(413.40,373.2) rotate(-62)" font-size="7.6" font-weight="bold" fill="#2a2a2a">≤2</text>
<path d="M417.10,369.3H437.50M433.10,366.4L437.50,369.3L433.10,372.2" fill="none" stroke="#222" stroke-width="1.0"/>
<text transform="translate(440.10,379.6) rotate(-62)" font-size="7.6" font-weight="bold" fill="#2a2a2a">≥40</text>
<text transform="translate(449.30,373.2) rotate(-62)" font-size="7.6" font-weight="bold" fill="#2a2a2a">≤2</text>
<path d="M453.00,369.3H473.40M469.00,366.4L473.40,369.3L469.00,372.2" fill="none" stroke="#222" stroke-width="1.0"/>
<text transform="translate(476.00,379.6) rotate(-62)" font-size="7.6" font-weight="bold" fill="#2a2a2a">≥40</text>
<text transform="translate(485.20,373.2) rotate(-62)" font-size="7.6" font-weight="bold" fill="#2a2a2a">≤2</text>
<path d="M488.90,369.3H509.30M504.90,366.4L509.30,369.3L504.90,372.2" fill="none" stroke="#222" stroke-width="1.0"/>
<text transform="translate(511.90,379.6) rotate(-62)" font-size="7.6" font-weight="bold" fill="#2a2a2a">≥40</text>
<text x="264" y="397.3" text-anchor="middle" font-size="9" fill="#111" stroke="#111" stroke-width="0.25">Age group</text>
<path d="M39.5,55.1V53.4Q39.5,52.6 40.3,52.6H68.9Q69.7,52.6 69.7,53.4V55.1" fill="none" stroke="#333" stroke-width="0.9"/>
<path d="M74.9,55.1V53.4Q74.9,52.6 75.7,52.6H103.7Q104.5,52.6 104.5,53.4V55.1" fill="none" stroke="#333" stroke-width="0.9"/>
<path d="M110.1,54.8V53.099999999999994Q110.1,52.3 110.89999999999999,52.3H139.7Q140.5,52.3 140.5,53.099999999999994V54.8" fill="none" stroke="#333" stroke-width="0.9"/>
<path d="M146.2,54.8V53.099999999999994Q146.2,52.3 147.0,52.3H175.7Q176.5,52.3 176.5,53.099999999999994V54.8" fill="none" stroke="#333" stroke-width="0.9"/>
<path d="M56.5,52.6V49.5Q56.5,48.5 57.5,48.5H85.2Q86.2,48.5 86.2,49.5V52.6" fill="none" stroke="#333" stroke-width="0.9"/>
<path d="M64.10,47.15L64.10,42.85M65.96,46.08L62.24,43.92M65.96,43.92L62.24,46.08" stroke="#1a1a1a" stroke-width="1.25" stroke-linecap="round"/><circle cx="64.10" cy="45.00" r="1.1" fill="#1a1a1a"/>
<path d="M70.00,47.15L70.00,42.85M71.86,46.08L68.14,43.92M71.86,43.92L68.14,46.08" stroke="#1a1a1a" stroke-width="1.25" stroke-linecap="round"/><circle cx="70.00" cy="45.00" r="1.1" fill="#1a1a1a"/>
<path d="M75.90,47.15L75.90,42.85M77.76,46.08L74.04,43.92M77.76,43.92L74.04,46.08" stroke="#1a1a1a" stroke-width="1.25" stroke-linecap="round"/><circle cx="75.90" cy="45.00" r="1.1" fill="#1a1a1a"/>
<path d="M92.3,52.6V49.8Q92.3,48.8 93.3,48.8H121.9Q122.9,48.8 122.9,49.8V52.6" fill="none" stroke="#333" stroke-width="0.9"/>
<path d="M102.50,46.65L102.50,42.35M104.36,45.58L100.64,43.42M104.36,43.42L100.64,45.58" stroke="#1a1a1a" stroke-width="1.25" stroke-linecap="round"/><circle cx="102.50" cy="44.50" r="1.1" fill="#1a1a1a"/>
<path d="M108.75,46.65L108.75,42.35M110.61,45.58L106.89,43.42M110.61,43.42L106.89,45.58" stroke="#1a1a1a" stroke-width="1.25" stroke-linecap="round"/><circle cx="108.75" cy="44.50" r="1.1" fill="#1a1a1a"/>
<path d="M115.00,46.65L115.00,42.35M116.86,45.58L113.14,43.42M116.86,43.42L113.14,45.58" stroke="#1a1a1a" stroke-width="1.25" stroke-linecap="round"/><circle cx="115.00" cy="44.50" r="1.1" fill="#1a1a1a"/>
<path d="M90.3,52.4V40.9Q90.3,39.9 91.3,39.9H161Q162,39.9 162,40.9V52.4" fill="none" stroke="#333" stroke-width="0.9"/>
<path d="M121.40,38.35L121.40,34.05M123.26,37.28L119.54,35.12M123.26,35.12L119.54,37.28" stroke="#1a1a1a" stroke-width="1.25" stroke-linecap="round"/><circle cx="121.40" cy="36.20" r="1.1" fill="#1a1a1a"/>
<path d="M127.30,38.35L127.30,34.05M129.16,37.28L125.44,35.12M129.16,35.12L125.44,37.28" stroke="#1a1a1a" stroke-width="1.25" stroke-linecap="round"/><circle cx="127.30" cy="36.20" r="1.1" fill="#1a1a1a"/>
<path d="M133.20,38.35L133.20,34.05M135.06,37.28L131.34,35.12M135.06,35.12L131.34,37.28" stroke="#1a1a1a" stroke-width="1.25" stroke-linecap="round"/><circle cx="133.20" cy="36.20" r="1.1" fill="#1a1a1a"/>
<path d="M241.9,55.25V53.55Q241.9,52.75 242.70000000000002,52.75H271.09999999999997Q271.9,52.75 271.9,53.55V55.25" fill="none" stroke="#333" stroke-width="0.9"/>
<path d="M278.1,55.25V53.55Q278.1,52.75 278.90000000000003,52.75H306.4Q307.2,52.75 307.2,53.55V55.25" fill="none" stroke="#333" stroke-width="0.9"/>
<path d="M315.3,55.25V53.55Q315.3,52.75 316.1,52.75H345.59999999999997Q346.4,52.75 346.4,53.55V55.25" fill="none" stroke="#333" stroke-width="0.9"/>
<path d="M260.6,52.75V50.6Q260.6,49.6 261.6,49.6H290.9Q291.9,49.6 291.9,50.6V52.75" fill="none" stroke="#333" stroke-width="0.9"/>
<path d="M270.55,47.40L270.55,43.10M272.41,46.33L268.69,44.17M272.41,44.17L268.69,46.33" stroke="#1a1a1a" stroke-width="1.25" stroke-linecap="round"/><circle cx="270.55" cy="45.25" r="1.1" fill="#1a1a1a"/>
<path d="M276.57,47.40L276.57,43.10M278.44,46.33L274.71,44.17M278.44,44.17L274.71,46.33" stroke="#1a1a1a" stroke-width="1.25" stroke-linecap="round"/><circle cx="276.57" cy="45.25" r="1.1" fill="#1a1a1a"/>
<path d="M282.60,47.40L282.60,43.10M284.46,46.33L280.74,44.17M284.46,44.17L280.74,46.33" stroke="#1a1a1a" stroke-width="1.25" stroke-linecap="round"/><circle cx="282.60" cy="45.25" r="1.1" fill="#1a1a1a"/>
<path d="M258.1,52.75V41.6Q258.1,40.6 259.1,40.6H329.3Q330.3,40.6 330.3,41.6V52.75" fill="none" stroke="#333" stroke-width="0.9"/>
<path d="M289.90,38.75L289.90,34.45M291.76,37.68L288.04,35.52M291.76,35.53L288.04,37.67" stroke="#1a1a1a" stroke-width="1.25" stroke-linecap="round"/><circle cx="289.90" cy="36.60" r="1.1" fill="#1a1a1a"/>
<path d="M295.80,38.75L295.80,34.45M297.66,37.68L293.94,35.52M297.66,35.53L293.94,37.67" stroke="#1a1a1a" stroke-width="1.25" stroke-linecap="round"/><circle cx="295.80" cy="36.60" r="1.1" fill="#1a1a1a"/>
<path d="M301.70,38.75L301.70,34.45M303.56,37.68L299.84,35.52M303.56,35.53L299.84,37.67" stroke="#1a1a1a" stroke-width="1.25" stroke-linecap="round"/><circle cx="301.70" cy="36.60" r="1.1" fill="#1a1a1a"/>
<path d="M411.25,56.0V54.3Q411.25,53.5 412.05,53.5H439.8Q440.6,53.5 440.6,54.3V56.0" fill="none" stroke="#333" stroke-width="0.9"/>
<path d="M447.5,56.0V54.3Q447.5,53.5 448.3,53.5H476.7Q477.5,53.5 477.5,54.3V56.0" fill="none" stroke="#333" stroke-width="0.9"/>
<path d="M484.75,56.0V54.3Q484.75,53.5 485.55,53.5H513.6Q514.4,53.5 514.4,54.3V56.0" fill="none" stroke="#333" stroke-width="0.9"/>
<path d="M433.5,53.5V50.75Q433.5,49.75 434.5,49.75H455.25Q456.25,49.75 456.25,50.75V53.5" fill="none" stroke="#333" stroke-width="0.9"/>
<path d="M439.80,48.40L439.80,44.10M441.66,47.33L437.94,45.17M441.66,45.17L437.94,47.33" stroke="#1a1a1a" stroke-width="1.25" stroke-linecap="round"/><circle cx="439.80" cy="46.25" r="1.1" fill="#1a1a1a"/>
<path d="M445.50,48.40L445.50,44.10M447.36,47.33L443.64,45.17M447.36,45.17L443.64,47.33" stroke="#1a1a1a" stroke-width="1.25" stroke-linecap="round"/><circle cx="445.50" cy="46.25" r="1.1" fill="#1a1a1a"/>
<path d="M451.20,48.40L451.20,44.10M453.06,47.33L449.34,45.17M453.06,45.17L449.34,47.33" stroke="#1a1a1a" stroke-width="1.25" stroke-linecap="round"/><circle cx="451.20" cy="46.25" r="1.1" fill="#1a1a1a"/>
<path d="M470.25,53.5V50.75Q470.25,49.75 471.25,49.75H492.1Q493.1,49.75 493.1,50.75V53.5" fill="none" stroke="#333" stroke-width="0.9"/>
<path d="M475.80,48.15L475.80,43.85M477.66,47.08L473.94,44.92M477.66,44.92L473.94,47.08" stroke="#1a1a1a" stroke-width="1.25" stroke-linecap="round"/><circle cx="475.80" cy="46.00" r="1.1" fill="#1a1a1a"/>
<path d="M481.38,48.15L481.38,43.85M483.24,47.08L479.51,44.92M483.24,44.92L479.51,47.08" stroke="#1a1a1a" stroke-width="1.25" stroke-linecap="round"/><circle cx="481.38" cy="46.00" r="1.1" fill="#1a1a1a"/>
<path d="M486.95,48.15L486.95,43.85M488.81,47.08L485.09,44.92M488.81,44.92L485.09,47.08" stroke="#1a1a1a" stroke-width="1.25" stroke-linecap="round"/><circle cx="486.95" cy="46.00" r="1.1" fill="#1a1a1a"/>
<path d="M427.5,53.5V41.8Q427.5,40.8 428.5,40.8H498.4Q499.4,40.8 499.4,41.8V53.5" fill="none" stroke="#333" stroke-width="0.9"/>
<path d="M458.70,39.40L458.70,35.10M460.56,38.33L456.84,36.17M460.56,36.17L456.84,38.33" stroke="#1a1a1a" stroke-width="1.25" stroke-linecap="round"/><circle cx="458.70" cy="37.25" r="1.1" fill="#1a1a1a"/>
<path d="M464.40,39.40L464.40,35.10M466.26,38.33L462.54,36.17M466.26,36.17L462.54,38.33" stroke="#1a1a1a" stroke-width="1.25" stroke-linecap="round"/><circle cx="464.40" cy="37.25" r="1.1" fill="#1a1a1a"/>
<path d="M470.10,39.40L470.10,35.10M471.96,38.33L468.24,36.17M471.96,36.17L468.24,38.33" stroke="#1a1a1a" stroke-width="1.25" stroke-linecap="round"/><circle cx="470.10" cy="37.25" r="1.1" fill="#1a1a1a"/>
<path d="M36.5,161.3V159.60000000000002Q36.5,158.8 37.3,158.8H66.2Q67,158.8 67,159.60000000000002V161.3" fill="none" stroke="#333" stroke-width="0.9"/>
<path d="M72.8,161.3V159.60000000000002Q72.8,158.8 73.6,158.8H101.2Q102,158.8 102,159.60000000000002V161.3" fill="none" stroke="#333" stroke-width="0.9"/>
<path d="M53.4,158.8V156.5Q53.4,155.5 54.4,155.5H82.5Q83.5,155.5 83.5,156.5V158.8" fill="none" stroke="#333" stroke-width="0.9"/>
<path d="M61.80,153.65L61.80,149.35M63.66,152.57L59.94,150.43M63.66,150.43L59.94,152.57" stroke="#1a1a1a" stroke-width="1.25" stroke-linecap="round"/><circle cx="61.80" cy="151.50" r="1.1" fill="#1a1a1a"/>
<path d="M67.50,153.65L67.50,149.35M69.36,152.57L65.64,150.43M69.36,150.43L65.64,152.57" stroke="#1a1a1a" stroke-width="1.25" stroke-linecap="round"/><circle cx="67.50" cy="151.50" r="1.1" fill="#1a1a1a"/>
<path d="M73.20,153.65L73.20,149.35M75.06,152.57L71.34,150.43M75.06,150.43L71.34,152.57" stroke="#1a1a1a" stroke-width="1.25" stroke-linecap="round"/><circle cx="73.20" cy="151.50" r="1.1" fill="#1a1a1a"/>
<path d="M242.5,172.1V170.4Q242.5,169.6 243.3,169.6H272.3Q273.1,169.6 273.1,170.4V172.1" fill="none" stroke="#333" stroke-width="0.9"/>
<path d="M279.4,172.1V170.4Q279.4,169.6 280.2,169.6H308.59999999999997Q309.4,169.6 309.4,170.4V172.1" fill="none" stroke="#333" stroke-width="0.9"/>
<path d="M316.25,172.1V170.4Q316.25,169.6 317.05,169.6H345.2Q346,169.6 346,170.4V172.1" fill="none" stroke="#333" stroke-width="0.9"/>
<path d="M265.25,169.6V166.6Q265.25,165.6 266.25,165.6H286.5Q287.5,165.6 287.5,166.6V169.6" fill="none" stroke="#333" stroke-width="0.9"/>
<path d="M271.55,164.40L271.55,160.10M273.41,163.32L269.69,161.18M273.41,161.18L269.69,163.32" stroke="#1a1a1a" stroke-width="1.25" stroke-linecap="round"/><circle cx="271.55" cy="162.25" r="1.1" fill="#1a1a1a"/>
<path d="M277.38,164.40L277.38,160.10M279.24,163.32L275.51,161.18M279.24,161.18L275.51,163.32" stroke="#1a1a1a" stroke-width="1.25" stroke-linecap="round"/><circle cx="277.38" cy="162.25" r="1.1" fill="#1a1a1a"/>
<path d="M283.20,164.40L283.20,160.10M285.06,163.32L281.34,161.18M285.06,161.18L281.34,163.32" stroke="#1a1a1a" stroke-width="1.25" stroke-linecap="round"/><circle cx="283.20" cy="162.25" r="1.1" fill="#1a1a1a"/>
<path d="M302.25,169.6V167Q302.25,166 303.25,166H324.25Q325.25,166 325.25,167V169.6" fill="none" stroke="#333" stroke-width="0.9"/>
<path d="M307.40,164.40L307.40,160.10M309.26,163.32L305.54,161.18M309.26,161.18L305.54,163.32" stroke="#1a1a1a" stroke-width="1.25" stroke-linecap="round"/><circle cx="307.40" cy="162.25" r="1.1" fill="#1a1a1a"/>
<path d="M313.55,164.40L313.55,160.10M315.41,163.32L311.69,161.18M315.41,161.18L311.69,163.32" stroke="#1a1a1a" stroke-width="1.25" stroke-linecap="round"/><circle cx="313.55" cy="162.25" r="1.1" fill="#1a1a1a"/>
<path d="M319.70,164.40L319.70,160.10M321.56,163.32L317.84,161.18M321.56,161.18L317.84,163.32" stroke="#1a1a1a" stroke-width="1.25" stroke-linecap="round"/><circle cx="319.70" cy="162.25" r="1.1" fill="#1a1a1a"/>
<path d="M259.4,169.6V158.1Q259.4,157.1 260.4,157.1H330Q331,157.1 331,158.1V169.6" fill="none" stroke="#333" stroke-width="0.9"/>
<path d="M289.90,155.65L289.90,151.35M291.76,154.57L288.04,152.43M291.76,152.43L288.04,154.57" stroke="#1a1a1a" stroke-width="1.25" stroke-linecap="round"/><circle cx="289.90" cy="153.50" r="1.1" fill="#1a1a1a"/>
<path d="M296.55,155.65L296.55,151.35M298.41,154.57L294.69,152.43M298.41,152.43L294.69,154.57" stroke="#1a1a1a" stroke-width="1.25" stroke-linecap="round"/><circle cx="296.55" cy="153.50" r="1.1" fill="#1a1a1a"/>
<path d="M303.20,155.65L303.20,151.35M305.06,154.57L301.34,152.43M305.06,152.43L301.34,154.57" stroke="#1a1a1a" stroke-width="1.25" stroke-linecap="round"/><circle cx="303.20" cy="153.50" r="1.1" fill="#1a1a1a"/>
<path d="M410.6,171.0V169.3Q410.6,168.5 411.40000000000003,168.5H440.45Q441.25,168.5 441.25,169.3V171.0" fill="none" stroke="#333" stroke-width="0.9"/>
<path d="M447.5,171.0V169.3Q447.5,168.5 448.3,168.5H476.7Q477.5,168.5 477.5,169.3V171.0" fill="none" stroke="#333" stroke-width="0.9"/>
<path d="M485.25,171.25V169.55Q485.25,168.75 486.05,168.75H513.6Q514.4,168.75 514.4,169.55V171.25" fill="none" stroke="#333" stroke-width="0.9"/>
<path d="M433.5,168.5V166.25Q433.5,165.25 434.5,165.25H455.25Q456.25,165.25 456.25,166.25V168.5" fill="none" stroke="#333" stroke-width="0.9"/>
<path d="M439.80,163.65L439.80,159.35M441.66,162.57L437.94,160.43M441.66,160.43L437.94,162.57" stroke="#1a1a1a" stroke-width="1.25" stroke-linecap="round"/><circle cx="439.80" cy="161.50" r="1.1" fill="#1a1a1a"/>
<path d="M445.88,163.65L445.88,159.35M447.74,162.57L444.01,160.43M447.74,160.43L444.01,162.57" stroke="#1a1a1a" stroke-width="1.25" stroke-linecap="round"/><circle cx="445.88" cy="161.50" r="1.1" fill="#1a1a1a"/>
<path d="M451.95,163.65L451.95,159.35M453.81,162.57L450.09,160.43M453.81,160.43L450.09,162.57" stroke="#1a1a1a" stroke-width="1.25" stroke-linecap="round"/><circle cx="451.95" cy="161.50" r="1.1" fill="#1a1a1a"/>
<path d="M471.5,168.5V166.6Q471.5,165.6 472.5,165.6H493Q494,165.6 494,166.6V168.5" fill="none" stroke="#333" stroke-width="0.9"/>
<path d="M476.20,163.65L476.20,159.35M478.06,162.57L474.34,160.43M478.06,160.43L474.34,162.57" stroke="#1a1a1a" stroke-width="1.25" stroke-linecap="round"/><circle cx="476.20" cy="161.50" r="1.1" fill="#1a1a1a"/>
<path d="M481.70,163.65L481.70,159.35M483.56,162.57L479.84,160.43M483.56,160.43L479.84,162.57" stroke="#1a1a1a" stroke-width="1.25" stroke-linecap="round"/><circle cx="481.70" cy="161.50" r="1.1" fill="#1a1a1a"/>
<path d="M487.20,163.65L487.20,159.35M489.06,162.57L485.34,160.43M489.06,160.43L485.34,162.57" stroke="#1a1a1a" stroke-width="1.25" stroke-linecap="round"/><circle cx="487.20" cy="161.50" r="1.1" fill="#1a1a1a"/>
<path d="M429.4,168.5V157Q429.4,156 430.4,156H499.25Q500.25,156 500.25,157V168.5" fill="none" stroke="#333" stroke-width="0.9"/>
<path d="M459.30,154.90L459.30,150.60M461.16,153.82L457.44,151.68M461.16,151.68L457.44,153.82" stroke="#1a1a1a" stroke-width="1.25" stroke-linecap="round"/><circle cx="459.30" cy="152.75" r="1.1" fill="#1a1a1a"/>
<path d="M464.75,154.90L464.75,150.60M466.61,153.82L462.89,151.68M466.61,151.68L462.89,153.82" stroke="#1a1a1a" stroke-width="1.25" stroke-linecap="round"/><circle cx="464.75" cy="152.75" r="1.1" fill="#1a1a1a"/>
<path d="M470.20,154.90L470.20,150.60M472.06,153.82L468.34,151.68M472.06,151.68L468.34,153.82" stroke="#1a1a1a" stroke-width="1.25" stroke-linecap="round"/><circle cx="470.20" cy="152.75" r="1.1" fill="#1a1a1a"/>
<path d="M411.9,286.0V284.3Q411.9,283.5 412.7,283.5H441.09999999999997Q441.9,283.5 441.9,284.3V286.0" fill="none" stroke="#333" stroke-width="0.9"/>
<path d="M448.1,286.0V284.3Q448.1,283.5 448.90000000000003,283.5H477.95Q478.75,283.5 478.75,284.3V286.0" fill="none" stroke="#333" stroke-width="0.9"/>
<path d="M485.6,286.0V284.3Q485.6,283.5 486.40000000000003,283.5H513.2Q514,283.5 514,284.3V286.0" fill="none" stroke="#333" stroke-width="0.9"/>
<path d="M433.5,283.5V281.25Q433.5,280.25 434.5,280.25H455.5Q456.5,280.25 456.5,281.25V283.5" fill="none" stroke="#333" stroke-width="0.9"/>
<path d="M440.30,279.25L440.30,274.95M442.16,278.18L438.44,276.03M442.16,276.03L438.44,278.18" stroke="#1a1a1a" stroke-width="1.25" stroke-linecap="round"/><circle cx="440.30" cy="277.10" r="1.1" fill="#1a1a1a"/>
<path d="M446.25,279.25L446.25,274.95M448.11,278.18L444.39,276.03M448.11,276.03L444.39,278.18" stroke="#1a1a1a" stroke-width="1.25" stroke-linecap="round"/><circle cx="446.25" cy="277.10" r="1.1" fill="#1a1a1a"/>
<path d="M452.20,279.25L452.20,274.95M454.06,278.18L450.34,276.03M454.06,276.03L450.34,278.18" stroke="#1a1a1a" stroke-width="1.25" stroke-linecap="round"/><circle cx="452.20" cy="277.10" r="1.1" fill="#1a1a1a"/>
<path d="M470.6,283.5V281.6Q470.6,280.6 471.6,280.6H493Q494,280.6 494,281.6V283.5" fill="none" stroke="#333" stroke-width="0.9"/>
<path d="M476.80,279.05L476.80,274.75M478.66,277.97L474.94,275.82M478.66,275.82L474.94,277.97" stroke="#1a1a1a" stroke-width="1.25" stroke-linecap="round"/><circle cx="476.80" cy="276.90" r="1.1" fill="#1a1a1a"/>
<path d="M482.20,279.05L482.20,274.75M484.06,277.97L480.34,275.82M484.06,275.82L480.34,277.97" stroke="#1a1a1a" stroke-width="1.25" stroke-linecap="round"/><circle cx="482.20" cy="276.90" r="1.1" fill="#1a1a1a"/>
<path d="M487.60,279.05L487.60,274.75M489.46,277.97L485.74,275.82M489.46,275.82L485.74,277.97" stroke="#1a1a1a" stroke-width="1.25" stroke-linecap="round"/><circle cx="487.60" cy="276.90" r="1.1" fill="#1a1a1a"/>
<path d="M427.9,283.75V272.5Q427.9,271.5 428.9,271.5H499Q500,271.5 500,272.5V283.75" fill="none" stroke="#333" stroke-width="0.9"/>
<path d="M459.30,270.65L459.30,266.35M461.16,269.57L457.44,267.43M461.16,267.43L457.44,269.57" stroke="#1a1a1a" stroke-width="1.25" stroke-linecap="round"/><circle cx="459.30" cy="268.50" r="1.1" fill="#1a1a1a"/>
<path d="M465.00,270.65L465.00,266.35M466.86,269.57L463.14,267.43M466.86,267.43L463.14,269.57" stroke="#1a1a1a" stroke-width="1.25" stroke-linecap="round"/><circle cx="465.00" cy="268.50" r="1.1" fill="#1a1a1a"/>
<path d="M470.70,270.65L470.70,266.35M472.56,269.57L468.84,267.43M472.56,267.43L468.84,269.57" stroke="#1a1a1a" stroke-width="1.25" stroke-linecap="round"/><circle cx="470.70" cy="268.50" r="1.1" fill="#1a1a1a"/>
<path d="M38.90,118.00V122.50M38.90,129.00V129.40M38.10,118.00H39.70" stroke="#5a5a5a" stroke-width="1.0" fill="none"/>
<rect x="37.70" y="122.50" width="2.40" height="6.50" fill="#fff" stroke="#2a2a2a" stroke-width="0.85"/>
<line x1="37.70" y1="126.00" x2="40.10" y2="126.00" stroke="#2a2a2a" stroke-width="0.9"/>
<path d="M42.50,103.00V123.00M42.50,129.00V129.40M41.70,103.00H43.30" stroke="#5a5a5a" stroke-width="1.0" fill="none"/>
<rect x="41.30" y="123.00" width="2.40" height="6.00" fill="#fff" stroke="#2a2a2a" stroke-width="0.85"/>
<line x1="41.30" y1="126.00" x2="43.70" y2="126.00" stroke="#2a2a2a" stroke-width="0.9"/>
<path d="M45.60,110.30V119.80M45.60,128.50V129.40M44.80,110.30H46.40" stroke="#5a5a5a" stroke-width="1.0" fill="none"/>
<rect x="44.40" y="119.80" width="2.40" height="8.70" fill="#fff" stroke="#2a2a2a" stroke-width="0.85"/>
<line x1="44.40" y1="124.50" x2="46.80" y2="124.50" stroke="#2a2a2a" stroke-width="0.9"/>
<path d="M49.10,117.00V122.00M49.10,129.00V129.40M48.30,117.00H49.90" stroke="#5a5a5a" stroke-width="1.0" fill="none"/>
<rect x="47.90" y="122.00" width="2.40" height="7.00" fill="#fff" stroke="#2a2a2a" stroke-width="0.85"/>
<line x1="47.90" y1="125.00" x2="50.30" y2="125.00" stroke="#2a2a2a" stroke-width="0.9"/>
<path d="M52.70,111.20V115.30M52.70,126.50V128.00M51.90,111.20H53.50" stroke="#5a5a5a" stroke-width="1.0" fill="none"/>
<rect x="51.50" y="115.30" width="2.40" height="11.20" fill="#fff" stroke="#2a2a2a" stroke-width="0.85"/>
<line x1="51.50" y1="124.30" x2="53.90" y2="124.30" stroke="#2a2a2a" stroke-width="0.9"/>
<path d="M56.30,97.30V122.00M56.30,126.00V128.00M55.50,97.30H57.10" stroke="#5a5a5a" stroke-width="1.0" fill="none"/>
<rect x="55.10" y="122.00" width="2.40" height="4.00" fill="#fff" stroke="#2a2a2a" stroke-width="0.85"/>
<line x1="55.10" y1="124.00" x2="57.50" y2="124.00" stroke="#2a2a2a" stroke-width="0.9"/>
<path d="M59.90,92.00V113.90M59.90,129.00V129.40M59.10,92.00H60.70" stroke="#5a5a5a" stroke-width="1.0" fill="none"/>
<rect x="58.70" y="113.90" width="2.40" height="15.10" fill="#fff" stroke="#2a2a2a" stroke-width="0.85"/>
<line x1="58.70" y1="121.00" x2="61.10" y2="121.00" stroke="#2a2a2a" stroke-width="0.9"/>
<path d="M63.00,113.00V115.30M63.00,128.30V129.40M62.20,113.00H63.80" stroke="#5a5a5a" stroke-width="1.0" fill="none"/>
<rect x="61.80" y="115.30" width="2.40" height="13.00" fill="#fff" stroke="#2a2a2a" stroke-width="0.85"/>
<line x1="61.80" y1="126.00" x2="64.20" y2="126.00" stroke="#2a2a2a" stroke-width="0.9"/>
<path d="M66.90,103.10V119.00M66.90,129.50V129.50M66.10,103.10H67.70" stroke="#5a5a5a" stroke-width="1.0" fill="none"/>
<rect x="65.70" y="119.00" width="2.40" height="10.50" fill="#fff" stroke="#2a2a2a" stroke-width="0.85"/>
<line x1="65.70" y1="124.00" x2="68.10" y2="124.00" stroke="#2a2a2a" stroke-width="0.9"/>
<path d="M74.40,84.00V90.20M74.40,115.00V120.40M73.60,84.00H75.20" stroke="#5a5a5a" stroke-width="1.0" fill="none"/>
<rect x="73.20" y="90.20" width="2.40" height="24.80" fill="#fff" stroke="#2a2a2a" stroke-width="0.85"/>
<line x1="73.20" y1="107.00" x2="75.60" y2="107.00" stroke="#2a2a2a" stroke-width="0.9"/>
<path d="M78.00,79.50V92.90M78.00,116.00V121.00M77.20,79.50H78.80" stroke="#5a5a5a" stroke-width="1.0" fill="none"/>
<rect x="76.80" y="92.90" width="2.40" height="23.10" fill="#fff" stroke="#2a2a2a" stroke-width="0.85"/>
<line x1="76.80" y1="108.00" x2="79.20" y2="108.00" stroke="#2a2a2a" stroke-width="0.9"/>
<path d="M81.50,86.60V101.70M81.50,117.70V123.00M80.70,86.60H82.30" stroke="#5a5a5a" stroke-width="1.0" fill="none"/>
<rect x="80.30" y="101.70" width="2.40" height="16.00" fill="#fff" stroke="#2a2a2a" stroke-width="0.85"/>
<line x1="80.30" y1="108.80" x2="82.70" y2="108.80" stroke="#2a2a2a" stroke-width="0.9"/>
<path d="M85.10,98.00V111.50M85.10,121.30V125.00M84.30,98.00H85.90" stroke="#5a5a5a" stroke-width="1.0" fill="none"/>
<rect x="83.90" y="111.50" width="2.40" height="9.80" fill="#fff" stroke="#2a2a2a" stroke-width="0.85"/>
<line x1="83.90" y1="115.00" x2="86.30" y2="115.00" stroke="#2a2a2a" stroke-width="0.9"/>
<path d="M89.00,100.00V107.00M89.00,119.50V124.00M88.20,100.00H89.80" stroke="#5a5a5a" stroke-width="1.0" fill="none"/>
<rect x="87.80" y="107.00" width="2.40" height="12.50" fill="#fff" stroke="#2a2a2a" stroke-width="0.85"/>
<line x1="87.80" y1="113.00" x2="90.20" y2="113.00" stroke="#2a2a2a" stroke-width="0.9"/>
<path d="M92.20,75.00V105.30M92.20,122.00V125.00M91.40,75.00H93.00" stroke="#5a5a5a" stroke-width="1.0" fill="none"/>
<rect x="91.00" y="105.30" width="2.40" height="16.70" fill="#fff" stroke="#2a2a2a" stroke-width="0.85"/>
<line x1="91.00" y1="113.00" x2="93.40" y2="113.00" stroke="#2a2a2a" stroke-width="0.9"/>
<path d="M95.80,77.80V100.00M95.80,118.60V125.70M95.00,77.80H96.60" stroke="#5a5a5a" stroke-width="1.0" fill="none"/>
<rect x="94.60" y="100.00" width="2.40" height="18.60" fill="#fff" stroke="#2a2a2a" stroke-width="0.85"/>
<line x1="94.60" y1="107.00" x2="97.00" y2="107.00" stroke="#2a2a2a" stroke-width="0.9"/>
<path d="M98.80,100.00V107.60M98.80,118.00V124.00M98.00,100.00H99.60" stroke="#5a5a5a" stroke-width="1.0" fill="none"/>
<rect x="97.60" y="107.60" width="2.40" height="10.40" fill="#fff" stroke="#2a2a2a" stroke-width="0.85"/>
<line x1="97.60" y1="111.00" x2="100.00" y2="111.00" stroke="#2a2a2a" stroke-width="0.9"/>
<path d="M102.00,105.30V111.50M102.00,117.70V120.00M101.20,105.30H102.80" stroke="#5a5a5a" stroke-width="1.0" fill="none"/>
<rect x="100.80" y="111.50" width="2.40" height="6.20" fill="#fff" stroke="#2a2a2a" stroke-width="0.85"/>
<line x1="100.80" y1="114.00" x2="103.20" y2="114.00" stroke="#2a2a2a" stroke-width="0.9"/>
<path d="M109.90,114.20V119.50M109.90,127.50V129.40M109.10,114.20H110.70" stroke="#5a5a5a" stroke-width="1.0" fill="none"/>
<rect x="108.70" y="119.50" width="2.40" height="8.00" fill="#fff" stroke="#2a2a2a" stroke-width="0.85"/>
<line x1="108.70" y1="123.00" x2="111.10" y2="123.00" stroke="#2a2a2a" stroke-width="0.9"/>
<path d="M113.50,113.30V121.30M113.50,127.50V129.40M112.70,113.30H114.30" stroke="#5a5a5a" stroke-width="1.0" fill="none"/>
<rect x="112.30" y="121.30" width="2.40" height="6.20" fill="#fff" stroke="#2a2a2a" stroke-width="0.85"/>
<line x1="112.30" y1="124.30" x2="114.70" y2="124.30" stroke="#2a2a2a" stroke-width="0.9"/>
<path d="M117.00,111.50V123.00M117.00,128.00V129.40M116.20,111.50H117.80" stroke="#5a5a5a" stroke-width="1.0" fill="none"/>
<rect x="115.80" y="123.00" width="2.40" height="5.00" fill="#fff" stroke="#2a2a2a" stroke-width="0.85"/>
<line x1="115.80" y1="126.00" x2="118.20" y2="126.00" stroke="#2a2a2a" stroke-width="0.9"/>
<path d="M120.20,116.00V117.70M120.20,127.50V129.40M119.40,116.00H121.00" stroke="#5a5a5a" stroke-width="1.0" fill="none"/>
<rect x="119.00" y="117.70" width="2.40" height="9.80" fill="#fff" stroke="#2a2a2a" stroke-width="0.85"/>
<line x1="119.00" y1="123.00" x2="121.40" y2="123.00" stroke="#2a2a2a" stroke-width="0.9"/>
<path d="M123.80,117.00V118.60M123.80,126.60V128.50M123.00,117.00H124.60" stroke="#5a5a5a" stroke-width="1.0" fill="none"/>
<rect x="122.60" y="118.60" width="2.40" height="8.00" fill="#fff" stroke="#2a2a2a" stroke-width="0.85"/>
<line x1="122.60" y1="122.00" x2="125.00" y2="122.00" stroke="#2a2a2a" stroke-width="0.9"/>
<path d="M127.00,110.00V121.30M127.00,128.40V129.40M126.20,110.00H127.80" stroke="#5a5a5a" stroke-width="1.0" fill="none"/>
<rect x="125.80" y="121.30" width="2.40" height="7.10" fill="#fff" stroke="#2a2a2a" stroke-width="0.85"/>
<line x1="125.80" y1="124.80" x2="128.20" y2="124.80" stroke="#2a2a2a" stroke-width="0.9"/>
<path d="M130.90,108.00V116.80M130.90,127.50V129.40M130.10,108.00H131.70" stroke="#5a5a5a" stroke-width="1.0" fill="none"/>
<rect x="129.70" y="116.80" width="2.40" height="10.70" fill="#fff" stroke="#2a2a2a" stroke-width="0.85"/>
<line x1="129.70" y1="122.00" x2="132.10" y2="122.00" stroke="#2a2a2a" stroke-width="0.9"/>
<path d="M134.40,113.00V116.80M134.40,126.60V128.50M133.60,113.00H135.20" stroke="#5a5a5a" stroke-width="1.0" fill="none"/>
<rect x="133.20" y="116.80" width="2.40" height="9.80" fill="#fff" stroke="#2a2a2a" stroke-width="0.85"/>
<line x1="133.20" y1="121.30" x2="135.60" y2="121.30" stroke="#2a2a2a" stroke-width="0.9"/>
<path d="M138.30,94.60V117.70M138.30,126.00V128.00M137.50,94.60H139.10" stroke="#5a5a5a" stroke-width="1.0" fill="none"/>
<rect x="137.10" y="117.70" width="2.40" height="8.30" fill="#fff" stroke="#2a2a2a" stroke-width="0.85"/>
<line x1="137.10" y1="121.30" x2="139.50" y2="121.30" stroke="#2a2a2a" stroke-width="0.9"/>
<path d="M147.30,120.00V121.80M147.30,128.00V129.40M146.50,120.00H148.10" stroke="#5a5a5a" stroke-width="1.0" fill="none"/>
<rect x="146.10" y="121.80" width="2.40" height="6.20" fill="#fff" stroke="#2a2a2a" stroke-width="0.85"/>
<line x1="146.10" y1="124.30" x2="148.50" y2="124.30" stroke="#2a2a2a" stroke-width="0.9"/>
<path d="M150.50,100.90V121.30M150.50,128.00V129.40M149.70,100.90H151.30" stroke="#5a5a5a" stroke-width="1.0" fill="none"/>
<rect x="149.30" y="121.30" width="2.40" height="6.70" fill="#fff" stroke="#2a2a2a" stroke-width="0.85"/>
<line x1="149.30" y1="124.80" x2="151.70" y2="124.80" stroke="#2a2a2a" stroke-width="0.9"/>
<path d="M154.00,117.70V121.30M154.00,127.80V129.40M153.20,117.70H154.80" stroke="#5a5a5a" stroke-width="1.0" fill="none"/>
<rect x="152.80" y="121.30" width="2.40" height="6.50" fill="#fff" stroke="#2a2a2a" stroke-width="0.85"/>
<line x1="152.80" y1="124.30" x2="155.20" y2="124.30" stroke="#2a2a2a" stroke-width="0.9"/>
<path d="M157.10,116.80V122.20M157.10,128.00V129.40M156.30,116.80H157.90" stroke="#5a5a5a" stroke-width="1.0" fill="none"/>
<rect x="155.90" y="122.20" width="2.40" height="5.80" fill="#fff" stroke="#2a2a2a" stroke-width="0.85"/>
<line x1="155.90" y1="124.80" x2="158.30" y2="124.80" stroke="#2a2a2a" stroke-width="0.9"/>
<path d="M160.70,119.00V123.00M160.70,128.40V129.40M159.90,119.00H161.50" stroke="#5a5a5a" stroke-width="1.0" fill="none"/>
<rect x="159.50" y="123.00" width="2.40" height="5.40" fill="#fff" stroke="#2a2a2a" stroke-width="0.85"/>
<line x1="159.50" y1="125.70" x2="161.90" y2="125.70" stroke="#2a2a2a" stroke-width="0.9"/>
<path d="M164.20,113.30V121.30M164.20,127.50V129.40M163.40,113.30H165.00" stroke="#5a5a5a" stroke-width="1.0" fill="none"/>
<rect x="163.00" y="121.30" width="2.40" height="6.20" fill="#fff" stroke="#2a2a2a" stroke-width="0.85"/>
<line x1="163.00" y1="124.00" x2="165.40" y2="124.00" stroke="#2a2a2a" stroke-width="0.9"/>
<path d="M167.40,99.00V121.30M167.40,127.50V129.40M166.60,99.00H168.20" stroke="#5a5a5a" stroke-width="1.0" fill="none"/>
<rect x="166.20" y="121.30" width="2.40" height="6.20" fill="#fff" stroke="#2a2a2a" stroke-width="0.85"/>
<line x1="166.20" y1="124.00" x2="168.60" y2="124.00" stroke="#2a2a2a" stroke-width="0.9"/>
<path d="M171.00,112.40V117.70M171.00,127.10V129.40M170.20,112.40H171.80" stroke="#5a5a5a" stroke-width="1.0" fill="none"/>
<rect x="169.80" y="117.70" width="2.40" height="9.40" fill="#fff" stroke="#2a2a2a" stroke-width="0.85"/>
<line x1="169.80" y1="121.30" x2="172.20" y2="121.30" stroke="#2a2a2a" stroke-width="0.9"/>
<path d="M174.50,102.60V117.20M174.50,126.60V129.40M173.70,102.60H175.30" stroke="#5a5a5a" stroke-width="1.0" fill="none"/>
<rect x="173.30" y="117.20" width="2.40" height="9.40" fill="#fff" stroke="#2a2a2a" stroke-width="0.85"/>
<line x1="173.30" y1="121.30" x2="175.70" y2="121.30" stroke="#2a2a2a" stroke-width="0.9"/>
<path d="M39.20,224.80V231.30M39.20,241.90V247.60M38.40,224.80H40.00" stroke="#5a5a5a" stroke-width="1.0" fill="none"/>
<rect x="38.00" y="231.30" width="2.40" height="10.60" fill="#fff" stroke="#2a2a2a" stroke-width="0.85"/>
<line x1="38.00" y1="236.20" x2="40.40" y2="236.20" stroke="#2a2a2a" stroke-width="0.9"/>
<path d="M42.10,200.40V221.60M42.10,237.80V242.70M41.30,200.40H42.90" stroke="#5a5a5a" stroke-width="1.0" fill="none"/>
<rect x="40.90" y="221.60" width="2.40" height="16.20" fill="#fff" stroke="#2a2a2a" stroke-width="0.85"/>
<line x1="40.90" y1="230.50" x2="43.30" y2="230.50" stroke="#2a2a2a" stroke-width="0.9"/>
<path d="M45.70,219.10V225.30M45.70,239.50V242.70M44.90,219.10H46.50" stroke="#5a5a5a" stroke-width="1.0" fill="none"/>
<rect x="44.50" y="225.30" width="2.40" height="14.20" fill="#fff" stroke="#2a2a2a" stroke-width="0.85"/>
<line x1="44.50" y1="233.80" x2="46.90" y2="233.80" stroke="#2a2a2a" stroke-width="0.9"/>
<path d="M49.00,215.00V224.00M49.00,237.80V241.10M48.20,215.00H49.80" stroke="#5a5a5a" stroke-width="1.0" fill="none"/>
<rect x="47.80" y="224.00" width="2.40" height="13.80" fill="#fff" stroke="#2a2a2a" stroke-width="0.85"/>
<line x1="47.80" y1="229.70" x2="50.20" y2="229.70" stroke="#2a2a2a" stroke-width="0.9"/>
<path d="M52.70,185.90V199.60M52.70,233.80V238.70M51.90,185.90H53.50" stroke="#5a5a5a" stroke-width="1.0" fill="none"/>
<rect x="51.50" y="199.60" width="2.40" height="34.20" fill="#fff" stroke="#2a2a2a" stroke-width="0.85"/>
<line x1="51.50" y1="214.30" x2="53.90" y2="214.30" stroke="#2a2a2a" stroke-width="0.9"/>
<path d="M56.30,198.00V200.40M56.30,228.90V236.20M55.50,198.00H57.10" stroke="#5a5a5a" stroke-width="1.0" fill="none"/>
<rect x="55.10" y="200.40" width="2.40" height="28.50" fill="#fff" stroke="#2a2a2a" stroke-width="0.85"/>
<line x1="55.10" y1="223.20" x2="57.50" y2="223.20" stroke="#2a2a2a" stroke-width="0.9"/>
<path d="M59.70,185.40V207.00M59.70,228.90V233.80M58.90,185.40H60.50" stroke="#5a5a5a" stroke-width="1.0" fill="none"/>
<rect x="58.50" y="207.00" width="2.40" height="21.90" fill="#fff" stroke="#2a2a2a" stroke-width="0.85"/>
<line x1="58.50" y1="223.20" x2="60.90" y2="223.20" stroke="#2a2a2a" stroke-width="0.9"/>
<path d="M63.30,212.60V214.30M63.30,237.80V246.00M62.50,212.60H64.10" stroke="#5a5a5a" stroke-width="1.0" fill="none"/>
<rect x="62.10" y="214.30" width="2.40" height="23.50" fill="#fff" stroke="#2a2a2a" stroke-width="0.85"/>
<line x1="62.10" y1="225.70" x2="64.50" y2="225.70" stroke="#2a2a2a" stroke-width="0.9"/>
<path d="M66.80,176.40V207.00M66.80,228.90V237.00M66.00,176.40H67.60" stroke="#5a5a5a" stroke-width="1.0" fill="none"/>
<rect x="65.60" y="207.00" width="2.40" height="21.90" fill="#fff" stroke="#2a2a2a" stroke-width="0.85"/>
<line x1="65.60" y1="219.10" x2="68.00" y2="219.10" stroke="#2a2a2a" stroke-width="0.9"/>
<path d="M74.60,228.10V235.40M74.60,241.10V242.70M73.80,228.10H75.40" stroke="#5a5a5a" stroke-width="1.0" fill="none"/>
<rect x="73.40" y="235.40" width="2.40" height="5.70" fill="#fff" stroke="#2a2a2a" stroke-width="0.85"/>
<line x1="73.40" y1="237.80" x2="75.80" y2="237.80" stroke="#2a2a2a" stroke-width="0.9"/>
<path d="M77.80,230.50V233.80M77.80,241.10V242.70M77.00,230.50H78.60" stroke="#5a5a5a" stroke-width="1.0" fill="none"/>
<rect x="76.60" y="233.80" width="2.40" height="7.30" fill="#fff" stroke="#2a2a2a" stroke-width="0.85"/>
<line x1="76.60" y1="237.80" x2="79.00" y2="237.80" stroke="#2a2a2a" stroke-width="0.9"/>
<path d="M81.10,226.50V233.80M81.10,241.10V243.00M80.30,226.50H81.90" stroke="#5a5a5a" stroke-width="1.0" fill="none"/>
<rect x="79.90" y="233.80" width="2.40" height="7.30" fill="#fff" stroke="#2a2a2a" stroke-width="0.85"/>
<line x1="79.90" y1="237.00" x2="82.30" y2="237.00" stroke="#2a2a2a" stroke-width="0.9"/>
<path d="M84.60,224.00V235.40M84.60,241.10V242.70M83.80,224.00H85.40" stroke="#5a5a5a" stroke-width="1.0" fill="none"/>
<rect x="83.40" y="235.40" width="2.40" height="5.70" fill="#fff" stroke="#2a2a2a" stroke-width="0.85"/>
<line x1="83.40" y1="238.70" x2="85.80" y2="238.70" stroke="#2a2a2a" stroke-width="0.9"/>
<path d="M88.20,220.00V225.70M88.20,240.30V242.20M87.40,220.00H89.00" stroke="#5a5a5a" stroke-width="1.0" fill="none"/>
<rect x="87.00" y="225.70" width="2.40" height="14.60" fill="#fff" stroke="#2a2a2a" stroke-width="0.85"/>
<line x1="87.00" y1="237.00" x2="89.40" y2="237.00" stroke="#2a2a2a" stroke-width="0.9"/>
<path d="M91.60,226.50V229.70M91.60,240.30V243.90M90.80,226.50H92.40" stroke="#5a5a5a" stroke-width="1.0" fill="none"/>
<rect x="90.40" y="229.70" width="2.40" height="10.60" fill="#fff" stroke="#2a2a2a" stroke-width="0.85"/>
<line x1="90.40" y1="233.80" x2="92.80" y2="233.80" stroke="#2a2a2a" stroke-width="0.9"/>
<path d="M95.20,220.00V228.90M95.20,237.80V240.30M94.40,220.00H96.00" stroke="#5a5a5a" stroke-width="1.0" fill="none"/>
<rect x="94.00" y="228.90" width="2.40" height="8.90" fill="#fff" stroke="#2a2a2a" stroke-width="0.85"/>
<line x1="94.00" y1="232.20" x2="96.40" y2="232.20" stroke="#2a2a2a" stroke-width="0.9"/>
<path d="M99.30,224.00V230.50M99.30,239.50V243.20M98.50,224.00H100.10" stroke="#5a5a5a" stroke-width="1.0" fill="none"/>
<rect x="98.10" y="230.50" width="2.40" height="9.00" fill="#fff" stroke="#2a2a2a" stroke-width="0.85"/>
<line x1="98.10" y1="235.40" x2="100.50" y2="235.40" stroke="#2a2a2a" stroke-width="0.9"/>
<path d="M102.50,218.30V228.10M102.50,238.70V242.20M101.70,218.30H103.30" stroke="#5a5a5a" stroke-width="1.0" fill="none"/>
<rect x="101.30" y="228.10" width="2.40" height="10.60" fill="#fff" stroke="#2a2a2a" stroke-width="0.85"/>
<line x1="101.30" y1="233.80" x2="103.70" y2="233.80" stroke="#2a2a2a" stroke-width="0.9"/>
<path d="M110.20,240.00V241.90M110.20,246.80V248.00M109.40,240.00H111.00" stroke="#5a5a5a" stroke-width="1.0" fill="none"/>
<rect x="109.00" y="241.90" width="2.40" height="4.90" fill="#fff" stroke="#2a2a2a" stroke-width="0.85"/>
<line x1="109.00" y1="244.30" x2="111.40" y2="244.30" stroke="#2a2a2a" stroke-width="0.9"/>
<path d="M113.50,239.50V242.70M113.50,247.00V248.00M112.70,239.50H114.30" stroke="#5a5a5a" stroke-width="1.0" fill="none"/>
<rect x="112.30" y="242.70" width="2.40" height="4.30" fill="#fff" stroke="#2a2a2a" stroke-width="0.85"/>
<line x1="112.30" y1="245.20" x2="114.70" y2="245.20" stroke="#2a2a2a" stroke-width="0.9"/>
<path d="M117.00,236.20V242.70M117.00,247.00V248.00M116.20,236.20H117.80" stroke="#5a5a5a" stroke-width="1.0" fill="none"/>
<rect x="115.80" y="242.70" width="2.40" height="4.30" fill="#fff" stroke="#2a2a2a" stroke-width="0.85"/>
<line x1="115.80" y1="245.20" x2="118.20" y2="245.20" stroke="#2a2a2a" stroke-width="0.9"/>
<path d="M120.50,240.30V243.50M120.50,247.30V248.00M119.70,240.30H121.30" stroke="#5a5a5a" stroke-width="1.0" fill="none"/>
<rect x="119.30" y="243.50" width="2.40" height="3.80" fill="#fff" stroke="#2a2a2a" stroke-width="0.85"/>
<line x1="119.30" y1="245.50" x2="121.70" y2="245.50" stroke="#2a2a2a" stroke-width="0.9"/>
<path d="M124.00,224.80V229.70M124.00,245.20V247.00M123.20,224.80H124.80" stroke="#5a5a5a" stroke-width="1.0" fill="none"/>
<rect x="122.80" y="229.70" width="2.40" height="15.50" fill="#fff" stroke="#2a2a2a" stroke-width="0.85"/>
<line x1="122.80" y1="241.10" x2="125.20" y2="241.10" stroke="#2a2a2a" stroke-width="0.9"/>
<path d="M127.50,232.20V235.40M127.50,244.30V247.00M126.70,232.20H128.30" stroke="#5a5a5a" stroke-width="1.0" fill="none"/>
<rect x="126.30" y="235.40" width="2.40" height="8.90" fill="#fff" stroke="#2a2a2a" stroke-width="0.85"/>
<line x1="126.30" y1="239.50" x2="128.70" y2="239.50" stroke="#2a2a2a" stroke-width="0.9"/>
<path d="M131.00,220.00V232.20M131.00,243.50V246.50M130.20,220.00H131.80" stroke="#5a5a5a" stroke-width="1.0" fill="none"/>
<rect x="129.80" y="232.20" width="2.40" height="11.30" fill="#fff" stroke="#2a2a2a" stroke-width="0.85"/>
<line x1="129.80" y1="238.70" x2="132.20" y2="238.70" stroke="#2a2a2a" stroke-width="0.9"/>
<path d="M134.60,228.90V233.80M134.60,244.30V247.00M133.80,228.90H135.40" stroke="#5a5a5a" stroke-width="1.0" fill="none"/>
<rect x="133.40" y="233.80" width="2.40" height="10.50" fill="#fff" stroke="#2a2a2a" stroke-width="0.85"/>
<line x1="133.40" y1="238.70" x2="135.80" y2="238.70" stroke="#2a2a2a" stroke-width="0.9"/>
<path d="M138.20,201.30V224.80M138.20,242.70V246.00M137.40,201.30H139.00" stroke="#5a5a5a" stroke-width="1.0" fill="none"/>
<rect x="137.00" y="224.80" width="2.40" height="17.90" fill="#fff" stroke="#2a2a2a" stroke-width="0.85"/>
<line x1="137.00" y1="233.80" x2="139.40" y2="233.80" stroke="#2a2a2a" stroke-width="0.9"/>
<path d="M146.10,237.80V241.10M146.10,246.50V248.00M145.30,237.80H146.90" stroke="#5a5a5a" stroke-width="1.0" fill="none"/>
<rect x="144.90" y="241.10" width="2.40" height="5.40" fill="#fff" stroke="#2a2a2a" stroke-width="0.85"/>
<line x1="144.90" y1="243.50" x2="147.30" y2="243.50" stroke="#2a2a2a" stroke-width="0.9"/>
<path d="M149.50,239.00V241.90M149.50,246.50V248.00M148.70,239.00H150.30" stroke="#5a5a5a" stroke-width="1.0" fill="none"/>
<rect x="148.30" y="241.90" width="2.40" height="4.60" fill="#fff" stroke="#2a2a2a" stroke-width="0.85"/>
<line x1="148.30" y1="243.90" x2="150.70" y2="243.90" stroke="#2a2a2a" stroke-width="0.9"/>
<path d="M153.00,238.00V240.30M153.00,246.50V248.00M152.20,238.00H153.80" stroke="#5a5a5a" stroke-width="1.0" fill="none"/>
<rect x="151.80" y="240.30" width="2.40" height="6.20" fill="#fff" stroke="#2a2a2a" stroke-width="0.85"/>
<line x1="151.80" y1="243.50" x2="154.20" y2="243.50" stroke="#2a2a2a" stroke-width="0.9"/>
<path d="M156.50,238.00V242.70M156.50,246.80V248.00M155.70,238.00H157.30" stroke="#5a5a5a" stroke-width="1.0" fill="none"/>
<rect x="155.30" y="242.70" width="2.40" height="4.10" fill="#fff" stroke="#2a2a2a" stroke-width="0.85"/>
<line x1="155.30" y1="244.80" x2="157.70" y2="244.80" stroke="#2a2a2a" stroke-width="0.9"/>
<path d="M160.20,215.90V235.40M160.20,245.20V247.50M159.40,215.90H161.00" stroke="#5a5a5a" stroke-width="1.0" fill="none"/>
<rect x="159.00" y="235.40" width="2.40" height="9.80" fill="#fff" stroke="#2a2a2a" stroke-width="0.85"/>
<line x1="159.00" y1="240.30" x2="161.40" y2="240.30" stroke="#2a2a2a" stroke-width="0.9"/>
<path d="M163.70,231.30V235.40M163.70,245.20V247.50M162.90,231.30H164.50" stroke="#5a5a5a" stroke-width="1.0" fill="none"/>
<rect x="162.50" y="235.40" width="2.40" height="9.80" fill="#fff" stroke="#2a2a2a" stroke-width="0.85"/>
<line x1="162.50" y1="239.50" x2="164.90" y2="239.50" stroke="#2a2a2a" stroke-width="0.9"/>
<path d="M167.20,212.60V233.80M167.20,245.20V247.50M166.40,212.60H168.00" stroke="#5a5a5a" stroke-width="1.0" fill="none"/>
<rect x="166.00" y="233.80" width="2.40" height="11.40" fill="#fff" stroke="#2a2a2a" stroke-width="0.85"/>
<line x1="166.00" y1="238.70" x2="168.40" y2="238.70" stroke="#2a2a2a" stroke-width="0.9"/>
<path d="M170.90,230.50V237.00M170.90,245.20V247.50M170.10,230.50H171.70" stroke="#5a5a5a" stroke-width="1.0" fill="none"/>
<rect x="169.70" y="237.00" width="2.40" height="8.20" fill="#fff" stroke="#2a2a2a" stroke-width="0.85"/>
<line x1="169.70" y1="240.30" x2="172.10" y2="240.30" stroke="#2a2a2a" stroke-width="0.9"/>
<path d="M174.40,211.00V228.90M174.40,241.90V244.30M173.60,211.00H175.20" stroke="#5a5a5a" stroke-width="1.0" fill="none"/>
<rect x="173.20" y="228.90" width="2.40" height="13.00" fill="#fff" stroke="#2a2a2a" stroke-width="0.85"/>
<line x1="173.20" y1="235.40" x2="175.60" y2="235.40" stroke="#2a2a2a" stroke-width="0.9"/>
<path d="M38.40,332.80V357.50M38.40,361.10V361.20M37.60,332.80H39.20" stroke="#5a5a5a" stroke-width="1.0" fill="none"/>
<rect x="37.20" y="357.50" width="2.40" height="3.60" fill="#fff" stroke="#2a2a2a" stroke-width="0.85"/>
<line x1="37.20" y1="359.50" x2="39.60" y2="359.50" stroke="#2a2a2a" stroke-width="0.9"/>
<path d="M42.50,335.00V347.20M42.50,360.60V361.20M41.70,335.00H43.30" stroke="#5a5a5a" stroke-width="1.0" fill="none"/>
<rect x="41.30" y="347.20" width="2.40" height="13.40" fill="#fff" stroke="#2a2a2a" stroke-width="0.85"/>
<line x1="41.30" y1="356.70" x2="43.70" y2="356.70" stroke="#2a2a2a" stroke-width="0.9"/>
<path d="M45.80,354.30V359.00M45.80,361.10V361.20M45.00,354.30H46.60" stroke="#5a5a5a" stroke-width="1.0" fill="none"/>
<rect x="44.60" y="359.00" width="2.40" height="2.10" fill="#fff" stroke="#2a2a2a" stroke-width="0.85"/>
<line x1="44.60" y1="360.20" x2="47.00" y2="360.20" stroke="#2a2a2a" stroke-width="0.9"/>
<path d="M49.00,347.20V355.90M49.00,361.10V361.20M48.20,347.20H49.80" stroke="#5a5a5a" stroke-width="1.0" fill="none"/>
<rect x="47.80" y="355.90" width="2.40" height="5.20" fill="#fff" stroke="#2a2a2a" stroke-width="0.85"/>
<line x1="47.80" y1="358.30" x2="50.20" y2="358.30" stroke="#2a2a2a" stroke-width="0.9"/>
<path d="M52.50,352.00V359.00M52.50,361.10V361.20M51.70,352.00H53.30" stroke="#5a5a5a" stroke-width="1.0" fill="none"/>
<rect x="51.30" y="359.00" width="2.40" height="2.10" fill="#fff" stroke="#2a2a2a" stroke-width="0.85"/>
<line x1="51.30" y1="360.20" x2="53.70" y2="360.20" stroke="#2a2a2a" stroke-width="0.9"/>
<path d="M56.00,332.30V352.80M56.00,361.10V361.20M55.20,332.30H56.80" stroke="#5a5a5a" stroke-width="1.0" fill="none"/>
<rect x="54.80" y="352.80" width="2.40" height="8.30" fill="#fff" stroke="#2a2a2a" stroke-width="0.85"/>
<line x1="54.80" y1="356.70" x2="57.20" y2="356.70" stroke="#2a2a2a" stroke-width="0.9"/>
<path d="M59.50,347.20V353.50M59.50,361.10V361.20M58.70,347.20H60.30" stroke="#5a5a5a" stroke-width="1.0" fill="none"/>
<rect x="58.30" y="353.50" width="2.40" height="7.60" fill="#fff" stroke="#2a2a2a" stroke-width="0.85"/>
<line x1="58.30" y1="357.50" x2="60.70" y2="357.50" stroke="#2a2a2a" stroke-width="0.9"/>
<path d="M63.00,356.00V356.70M63.00,361.10V361.20M62.20,356.00H63.80" stroke="#5a5a5a" stroke-width="1.0" fill="none"/>
<rect x="61.80" y="356.70" width="2.40" height="4.40" fill="#fff" stroke="#2a2a2a" stroke-width="0.85"/>
<line x1="61.80" y1="358.60" x2="64.20" y2="358.60" stroke="#2a2a2a" stroke-width="0.9"/>
<path d="M67.00,315.40V353.50M67.00,360.60V361.20M66.20,315.40H67.80" stroke="#5a5a5a" stroke-width="1.0" fill="none"/>
<rect x="65.80" y="353.50" width="2.40" height="7.10" fill="#fff" stroke="#2a2a2a" stroke-width="0.85"/>
<line x1="65.80" y1="357.00" x2="68.20" y2="357.00" stroke="#2a2a2a" stroke-width="0.9"/>
<path d="M74.50,352.00V356.70M74.50,361.00V361.20M73.70,352.00H75.30" stroke="#5a5a5a" stroke-width="1.0" fill="none"/>
<rect x="73.30" y="356.70" width="2.40" height="4.30" fill="#fff" stroke="#2a2a2a" stroke-width="0.85"/>
<line x1="73.30" y1="359.00" x2="75.70" y2="359.00" stroke="#2a2a2a" stroke-width="0.9"/>
<path d="M78.00,351.00V357.00M78.00,361.00V361.20M77.20,351.00H78.80" stroke="#5a5a5a" stroke-width="1.0" fill="none"/>
<rect x="76.80" y="357.00" width="2.40" height="4.00" fill="#fff" stroke="#2a2a2a" stroke-width="0.85"/>
<line x1="76.80" y1="359.00" x2="79.20" y2="359.00" stroke="#2a2a2a" stroke-width="0.9"/>
<path d="M81.50,354.00V357.50M81.50,361.00V361.20M80.70,354.00H82.30" stroke="#5a5a5a" stroke-width="1.0" fill="none"/>
<rect x="80.30" y="357.50" width="2.40" height="3.50" fill="#fff" stroke="#2a2a2a" stroke-width="0.85"/>
<line x1="80.30" y1="359.50" x2="82.70" y2="359.50" stroke="#2a2a2a" stroke-width="0.9"/>
<path d="M85.00,351.00V357.00M85.00,361.00V361.20M84.20,351.00H85.80" stroke="#5a5a5a" stroke-width="1.0" fill="none"/>
<rect x="83.80" y="357.00" width="2.40" height="4.00" fill="#fff" stroke="#2a2a2a" stroke-width="0.85"/>
<line x1="83.80" y1="359.00" x2="86.20" y2="359.00" stroke="#2a2a2a" stroke-width="0.9"/>
<path d="M88.70,341.70V356.70M88.70,361.00V361.20M87.90,341.70H89.50" stroke="#5a5a5a" stroke-width="1.0" fill="none"/>
<rect x="87.50" y="356.70" width="2.40" height="4.30" fill="#fff" stroke="#2a2a2a" stroke-width="0.85"/>
<line x1="87.50" y1="359.00" x2="89.90" y2="359.00" stroke="#2a2a2a" stroke-width="0.9"/>
<path d="M92.20,351.00V356.70M92.20,361.00V361.20M91.40,351.00H93.00" stroke="#5a5a5a" stroke-width="1.0" fill="none"/>
<rect x="91.00" y="356.70" width="2.40" height="4.30" fill="#fff" stroke="#2a2a2a" stroke-width="0.85"/>
<line x1="91.00" y1="359.00" x2="93.40" y2="359.00" stroke="#2a2a2a" stroke-width="0.9"/>
<path d="M95.80,354.00V357.50M95.80,361.00V361.20M95.00,354.00H96.60" stroke="#5a5a5a" stroke-width="1.0" fill="none"/>
<rect x="94.60" y="357.50" width="2.40" height="3.50" fill="#fff" stroke="#2a2a2a" stroke-width="0.85"/>
<line x1="94.60" y1="359.50" x2="97.00" y2="359.50" stroke="#2a2a2a" stroke-width="0.9"/>
<path d="M99.30,354.00V357.00M99.30,361.00V361.20M98.50,354.00H100.10" stroke="#5a5a5a" stroke-width="1.0" fill="none"/>
<rect x="98.10" y="357.00" width="2.40" height="4.00" fill="#fff" stroke="#2a2a2a" stroke-width="0.85"/>
<line x1="98.10" y1="359.00" x2="100.50" y2="359.00" stroke="#2a2a2a" stroke-width="0.9"/>
<path d="M102.80,348.00V357.50M102.80,361.00V361.20M102.00,348.00H103.60" stroke="#5a5a5a" stroke-width="1.0" fill="none"/>
<rect x="101.60" y="357.50" width="2.40" height="3.50" fill="#fff" stroke="#2a2a2a" stroke-width="0.85"/>
<line x1="101.60" y1="359.50" x2="104.00" y2="359.50" stroke="#2a2a2a" stroke-width="0.9"/>
<path d="M110.50,350.40V357.50M110.50,361.00V361.20M109.70,350.40H111.30" stroke="#5a5a5a" stroke-width="1.0" fill="none"/>
<rect x="109.30" y="357.50" width="2.40" height="3.50" fill="#fff" stroke="#2a2a2a" stroke-width="0.85"/>
<line x1="109.30" y1="359.50" x2="111.70" y2="359.50" stroke="#2a2a2a" stroke-width="0.9"/>
<path d="M114.00,355.00V358.60M114.00,361.00V361.20M113.20,355.00H114.80" stroke="#5a5a5a" stroke-width="1.0" fill="none"/>
<rect x="112.80" y="358.60" width="2.40" height="2.40" fill="#fff" stroke="#2a2a2a" stroke-width="0.85"/>
<line x1="112.80" y1="360.00" x2="115.20" y2="360.00" stroke="#2a2a2a" stroke-width="0.9"/>
<path d="M117.50,349.10V356.70M117.50,361.00V361.20M116.70,349.10H118.30" stroke="#5a5a5a" stroke-width="1.0" fill="none"/>
<rect x="116.30" y="356.70" width="2.40" height="4.30" fill="#fff" stroke="#2a2a2a" stroke-width="0.85"/>
<line x1="116.30" y1="359.00" x2="118.70" y2="359.00" stroke="#2a2a2a" stroke-width="0.9"/>
<path d="M121.00,355.00V358.30M121.00,361.00V361.20M120.20,355.00H121.80" stroke="#5a5a5a" stroke-width="1.0" fill="none"/>
<rect x="119.80" y="358.30" width="2.40" height="2.70" fill="#fff" stroke="#2a2a2a" stroke-width="0.85"/>
<line x1="119.80" y1="360.00" x2="122.20" y2="360.00" stroke="#2a2a2a" stroke-width="0.9"/>
<path d="M124.70,341.30V351.20M124.70,361.00V361.20M123.90,341.30H125.50" stroke="#5a5a5a" stroke-width="1.0" fill="none"/>
<rect x="123.50" y="351.20" width="2.40" height="9.80" fill="#fff" stroke="#2a2a2a" stroke-width="0.85"/>
<line x1="123.50" y1="356.70" x2="125.90" y2="356.70" stroke="#2a2a2a" stroke-width="0.9"/>
<path d="M128.20,355.00V358.30M128.20,361.00V361.20M127.40,355.00H129.00" stroke="#5a5a5a" stroke-width="1.0" fill="none"/>
<rect x="127.00" y="358.30" width="2.40" height="2.70" fill="#fff" stroke="#2a2a2a" stroke-width="0.85"/>
<line x1="127.00" y1="360.00" x2="129.40" y2="360.00" stroke="#2a2a2a" stroke-width="0.9"/>
<path d="M131.80,348.80V355.10M131.80,361.00V361.20M131.00,348.80H132.60" stroke="#5a5a5a" stroke-width="1.0" fill="none"/>
<rect x="130.60" y="355.10" width="2.40" height="5.90" fill="#fff" stroke="#2a2a2a" stroke-width="0.85"/>
<line x1="130.60" y1="358.30" x2="133.00" y2="358.30" stroke="#2a2a2a" stroke-width="0.9"/>
<path d="M135.30,342.80V350.40M135.30,361.00V361.20M134.50,342.80H136.10" stroke="#5a5a5a" stroke-width="1.0" fill="none"/>
<rect x="134.10" y="350.40" width="2.40" height="10.60" fill="#fff" stroke="#2a2a2a" stroke-width="0.85"/>
<line x1="134.10" y1="355.90" x2="136.50" y2="355.90" stroke="#2a2a2a" stroke-width="0.9"/>
<path d="M138.80,345.70V352.00M138.80,361.00V361.20M138.00,345.70H139.60" stroke="#5a5a5a" stroke-width="1.0" fill="none"/>
<rect x="137.60" y="352.00" width="2.40" height="9.00" fill="#fff" stroke="#2a2a2a" stroke-width="0.85"/>
<line x1="137.60" y1="356.70" x2="140.00" y2="356.70" stroke="#2a2a2a" stroke-width="0.9"/>
<path d="M146.50,350.40V358.60M146.50,361.00V361.20M145.70,350.40H147.30" stroke="#5a5a5a" stroke-width="1.0" fill="none"/>
<rect x="145.30" y="358.60" width="2.40" height="2.40" fill="#fff" stroke="#2a2a2a" stroke-width="0.85"/>
<line x1="145.30" y1="360.00" x2="147.70" y2="360.00" stroke="#2a2a2a" stroke-width="0.9"/>
<path d="M150.00,355.00V358.60M150.00,361.00V361.20M149.20,355.00H150.80" stroke="#5a5a5a" stroke-width="1.0" fill="none"/>
<rect x="148.80" y="358.60" width="2.40" height="2.40" fill="#fff" stroke="#2a2a2a" stroke-width="0.85"/>
<line x1="148.80" y1="360.00" x2="151.20" y2="360.00" stroke="#2a2a2a" stroke-width="0.9"/>
<path d="M153.50,355.00V357.50M153.50,361.00V361.20M152.70,355.00H154.30" stroke="#5a5a5a" stroke-width="1.0" fill="none"/>
<rect x="152.30" y="357.50" width="2.40" height="3.50" fill="#fff" stroke="#2a2a2a" stroke-width="0.85"/>
<line x1="152.30" y1="359.50" x2="154.70" y2="359.50" stroke="#2a2a2a" stroke-width="0.9"/>
<path d="M157.00,355.00V357.00M157.00,361.00V361.20M156.20,355.00H157.80" stroke="#5a5a5a" stroke-width="1.0" fill="none"/>
<rect x="155.80" y="357.00" width="2.40" height="4.00" fill="#fff" stroke="#2a2a2a" stroke-width="0.85"/>
<line x1="155.80" y1="359.30" x2="158.20" y2="359.30" stroke="#2a2a2a" stroke-width="0.9"/>
<path d="M160.50,355.00V357.00M160.50,361.00V361.20M159.70,355.00H161.30" stroke="#5a5a5a" stroke-width="1.0" fill="none"/>
<rect x="159.30" y="357.00" width="2.40" height="4.00" fill="#fff" stroke="#2a2a2a" stroke-width="0.85"/>
<line x1="159.30" y1="359.30" x2="161.70" y2="359.30" stroke="#2a2a2a" stroke-width="0.9"/>
<path d="M164.00,355.00V357.50M164.00,361.00V361.20M163.20,355.00H164.80" stroke="#5a5a5a" stroke-width="1.0" fill="none"/>
<rect x="162.80" y="357.50" width="2.40" height="3.50" fill="#fff" stroke="#2a2a2a" stroke-width="0.85"/>
<line x1="162.80" y1="359.50" x2="165.20" y2="359.50" stroke="#2a2a2a" stroke-width="0.9"/>
<path d="M167.50,355.00V357.00M167.50,361.00V361.20M166.70,355.00H168.30" stroke="#5a5a5a" stroke-width="1.0" fill="none"/>
<rect x="166.30" y="357.00" width="2.40" height="4.00" fill="#fff" stroke="#2a2a2a" stroke-width="0.85"/>
<line x1="166.30" y1="359.30" x2="168.70" y2="359.30" stroke="#2a2a2a" stroke-width="0.9"/>
<path d="M171.00,347.20V357.00M171.00,361.00V361.20M170.20,347.20H171.80" stroke="#5a5a5a" stroke-width="1.0" fill="none"/>
<rect x="169.80" y="357.00" width="2.40" height="4.00" fill="#fff" stroke="#2a2a2a" stroke-width="0.85"/>
<line x1="169.80" y1="359.30" x2="172.20" y2="359.30" stroke="#2a2a2a" stroke-width="0.9"/>
<path d="M174.50,355.00V357.00M174.50,361.00V361.20M173.70,355.00H175.30" stroke="#5a5a5a" stroke-width="1.0" fill="none"/>
<rect x="173.30" y="357.00" width="2.40" height="4.00" fill="#fff" stroke="#2a2a2a" stroke-width="0.85"/>
<line x1="173.30" y1="359.30" x2="175.70" y2="359.30" stroke="#2a2a2a" stroke-width="0.9"/>
<path d="M206.80,58.10V77.50M206.80,110.00V113.80M206.00,58.10H207.60" stroke="#5a5a5a" stroke-width="1.0" fill="none"/>
<rect x="205.60" y="77.50" width="2.40" height="32.50" fill="#fff" stroke="#2a2a2a" stroke-width="0.85"/>
<line x1="205.60" y1="97.50" x2="208.00" y2="97.50" stroke="#2a2a2a" stroke-width="0.9"/>
<path d="M210.20,69.00V75.00M210.20,102.50V120.00M209.40,69.00H211.00" stroke="#5a5a5a" stroke-width="1.0" fill="none"/>
<rect x="209.00" y="75.00" width="2.40" height="27.50" fill="#fff" stroke="#2a2a2a" stroke-width="0.85"/>
<line x1="209.00" y1="87.50" x2="211.40" y2="87.50" stroke="#2a2a2a" stroke-width="0.9"/>
<path d="M213.60,50.60V83.00M213.60,113.80V125.00M212.80,50.60H214.40" stroke="#5a5a5a" stroke-width="1.0" fill="none"/>
<rect x="212.40" y="83.00" width="2.40" height="30.80" fill="#fff" stroke="#2a2a2a" stroke-width="0.85"/>
<line x1="212.40" y1="99.40" x2="214.80" y2="99.40" stroke="#2a2a2a" stroke-width="0.9"/>
<path d="M217.00,70.00V83.80M217.00,104.40V109.40M216.20,70.00H217.80" stroke="#5a5a5a" stroke-width="1.0" fill="none"/>
<rect x="215.80" y="83.80" width="2.40" height="20.60" fill="#fff" stroke="#2a2a2a" stroke-width="0.85"/>
<line x1="215.80" y1="97.50" x2="218.20" y2="97.50" stroke="#2a2a2a" stroke-width="0.9"/>
<path d="M220.50,49.40V79.40M220.50,100.60V113.80M219.70,49.40H221.30" stroke="#5a5a5a" stroke-width="1.0" fill="none"/>
<rect x="219.30" y="79.40" width="2.40" height="21.20" fill="#fff" stroke="#2a2a2a" stroke-width="0.85"/>
<line x1="219.30" y1="93.80" x2="221.70" y2="93.80" stroke="#2a2a2a" stroke-width="0.9"/>
<path d="M224.00,62.00V88.80M224.00,110.60V113.50M223.20,62.00H224.80" stroke="#5a5a5a" stroke-width="1.0" fill="none"/>
<rect x="222.80" y="88.80" width="2.40" height="21.80" fill="#fff" stroke="#2a2a2a" stroke-width="0.85"/>
<line x1="222.80" y1="100.60" x2="225.20" y2="100.60" stroke="#2a2a2a" stroke-width="0.9"/>
<path d="M227.50,71.90V86.90M227.50,111.30V115.60M226.70,71.90H228.30" stroke="#5a5a5a" stroke-width="1.0" fill="none"/>
<rect x="226.30" y="86.90" width="2.40" height="24.40" fill="#fff" stroke="#2a2a2a" stroke-width="0.85"/>
<line x1="226.30" y1="89.00" x2="228.70" y2="89.00" stroke="#2a2a2a" stroke-width="0.9"/>
<path d="M231.00,72.50V84.40M231.00,108.80V117.50M230.20,72.50H231.80" stroke="#5a5a5a" stroke-width="1.0" fill="none"/>
<rect x="229.80" y="84.40" width="2.40" height="24.40" fill="#fff" stroke="#2a2a2a" stroke-width="0.85"/>
<line x1="229.80" y1="92.50" x2="232.20" y2="92.50" stroke="#2a2a2a" stroke-width="0.9"/>
<path d="M234.30,70.00V72.50M234.30,98.80V108.80M233.50,70.00H235.10" stroke="#5a5a5a" stroke-width="1.0" fill="none"/>
<rect x="233.10" y="72.50" width="2.40" height="26.30" fill="#fff" stroke="#2a2a2a" stroke-width="0.85"/>
<line x1="233.10" y1="90.00" x2="235.50" y2="90.00" stroke="#2a2a2a" stroke-width="0.9"/>
<path d="M242.80,70.00V92.50M242.80,105.70V111.30M242.00,70.00H243.60" stroke="#5a5a5a" stroke-width="1.0" fill="none"/>
<rect x="241.60" y="92.50" width="2.40" height="13.20" fill="#fff" stroke="#2a2a2a" stroke-width="0.85"/>
<line x1="241.60" y1="98.20" x2="244.00" y2="98.20" stroke="#2a2a2a" stroke-width="0.9"/>
<path d="M246.20,85.00V89.70M246.20,101.00V109.40M245.40,85.00H247.00" stroke="#5a5a5a" stroke-width="1.0" fill="none"/>
<rect x="245.00" y="89.70" width="2.40" height="11.30" fill="#fff" stroke="#2a2a2a" stroke-width="0.85"/>
<line x1="245.00" y1="95.30" x2="247.40" y2="95.30" stroke="#2a2a2a" stroke-width="0.9"/>
<path d="M249.50,91.60V93.50M249.50,99.10V109.40M248.70,91.60H250.30" stroke="#5a5a5a" stroke-width="1.0" fill="none"/>
<rect x="248.30" y="93.50" width="2.40" height="5.60" fill="#fff" stroke="#2a2a2a" stroke-width="0.85"/>
<line x1="248.30" y1="96.30" x2="250.70" y2="96.30" stroke="#2a2a2a" stroke-width="0.9"/>
<path d="M253.00,82.20V95.30M253.00,105.70V113.20M252.20,82.20H253.80" stroke="#5a5a5a" stroke-width="1.0" fill="none"/>
<rect x="251.80" y="95.30" width="2.40" height="10.40" fill="#fff" stroke="#2a2a2a" stroke-width="0.85"/>
<line x1="251.80" y1="100.00" x2="254.20" y2="100.00" stroke="#2a2a2a" stroke-width="0.9"/>
<path d="M256.50,78.50V86.90M256.50,103.80V113.20M255.70,78.50H257.30" stroke="#5a5a5a" stroke-width="1.0" fill="none"/>
<rect x="255.30" y="86.90" width="2.40" height="16.90" fill="#fff" stroke="#2a2a2a" stroke-width="0.85"/>
<line x1="255.30" y1="95.30" x2="257.70" y2="95.30" stroke="#2a2a2a" stroke-width="0.9"/>
<path d="M259.60,69.00V79.40M259.60,105.70V109.40M258.80,69.00H260.40" stroke="#5a5a5a" stroke-width="1.0" fill="none"/>
<rect x="258.40" y="79.40" width="2.40" height="26.30" fill="#fff" stroke="#2a2a2a" stroke-width="0.85"/>
<line x1="258.40" y1="97.20" x2="260.80" y2="97.20" stroke="#2a2a2a" stroke-width="0.9"/>
<path d="M263.40,72.80V81.30M263.40,102.80V106.60M262.60,72.80H264.20" stroke="#5a5a5a" stroke-width="1.0" fill="none"/>
<rect x="262.20" y="81.30" width="2.40" height="21.50" fill="#fff" stroke="#2a2a2a" stroke-width="0.85"/>
<line x1="262.20" y1="92.50" x2="264.60" y2="92.50" stroke="#2a2a2a" stroke-width="0.9"/>
<path d="M266.70,74.70V91.60M266.70,103.80V111.30M265.90,74.70H267.50" stroke="#5a5a5a" stroke-width="1.0" fill="none"/>
<rect x="265.50" y="91.60" width="2.40" height="12.20" fill="#fff" stroke="#2a2a2a" stroke-width="0.85"/>
<line x1="265.50" y1="95.30" x2="267.90" y2="95.30" stroke="#2a2a2a" stroke-width="0.9"/>
<path d="M270.00,73.80V84.10M270.00,100.00V107.50M269.20,73.80H270.80" stroke="#5a5a5a" stroke-width="1.0" fill="none"/>
<rect x="268.80" y="84.10" width="2.40" height="15.90" fill="#fff" stroke="#2a2a2a" stroke-width="0.85"/>
<line x1="268.80" y1="89.70" x2="271.20" y2="89.70" stroke="#2a2a2a" stroke-width="0.9"/>
<path d="M278.30,99.10V101.00M278.30,116.00V120.70M277.50,99.10H279.10" stroke="#5a5a5a" stroke-width="1.0" fill="none"/>
<rect x="277.10" y="101.00" width="2.40" height="15.00" fill="#fff" stroke="#2a2a2a" stroke-width="0.85"/>
<line x1="277.10" y1="108.50" x2="279.50" y2="108.50" stroke="#2a2a2a" stroke-width="0.9"/>
<path d="M282.00,97.20V104.70M282.00,115.00V119.70M281.20,97.20H282.80" stroke="#5a5a5a" stroke-width="1.0" fill="none"/>
<rect x="280.80" y="104.70" width="2.40" height="10.30" fill="#fff" stroke="#2a2a2a" stroke-width="0.85"/>
<line x1="280.80" y1="109.40" x2="283.20" y2="109.40" stroke="#2a2a2a" stroke-width="0.9"/>
<path d="M285.50,95.30V105.70M285.50,111.30V125.40M284.70,95.30H286.30" stroke="#5a5a5a" stroke-width="1.0" fill="none"/>
<rect x="284.30" y="105.70" width="2.40" height="5.60" fill="#fff" stroke="#2a2a2a" stroke-width="0.85"/>
<line x1="284.30" y1="108.00" x2="286.70" y2="108.00" stroke="#2a2a2a" stroke-width="0.9"/>
<path d="M288.80,88.80V104.70M288.80,111.30V125.40M288.00,88.80H289.60" stroke="#5a5a5a" stroke-width="1.0" fill="none"/>
<rect x="287.60" y="104.70" width="2.40" height="6.60" fill="#fff" stroke="#2a2a2a" stroke-width="0.85"/>
<line x1="287.60" y1="108.50" x2="290.00" y2="108.50" stroke="#2a2a2a" stroke-width="0.9"/>
<path d="M293.00,81.30V94.40M293.00,116.90V118.80M292.20,81.30H293.80" stroke="#5a5a5a" stroke-width="1.0" fill="none"/>
<rect x="291.80" y="94.40" width="2.40" height="22.50" fill="#fff" stroke="#2a2a2a" stroke-width="0.85"/>
<line x1="291.80" y1="105.70" x2="294.20" y2="105.70" stroke="#2a2a2a" stroke-width="0.9"/>
<path d="M296.00,85.00V100.00M296.00,113.20V117.00M295.20,85.00H296.80" stroke="#5a5a5a" stroke-width="1.0" fill="none"/>
<rect x="294.80" y="100.00" width="2.40" height="13.20" fill="#fff" stroke="#2a2a2a" stroke-width="0.85"/>
<line x1="294.80" y1="108.50" x2="297.20" y2="108.50" stroke="#2a2a2a" stroke-width="0.9"/>
<path d="M299.40,90.60V100.00M299.40,113.20V117.90M298.60,90.60H300.20" stroke="#5a5a5a" stroke-width="1.0" fill="none"/>
<rect x="298.20" y="100.00" width="2.40" height="13.20" fill="#fff" stroke="#2a2a2a" stroke-width="0.85"/>
<line x1="298.20" y1="105.70" x2="300.60" y2="105.70" stroke="#2a2a2a" stroke-width="0.9"/>
<path d="M303.10,81.30V98.20M303.10,108.50V115.00M302.30,81.30H303.90" stroke="#5a5a5a" stroke-width="1.0" fill="none"/>
<rect x="301.90" y="98.20" width="2.40" height="10.30" fill="#fff" stroke="#2a2a2a" stroke-width="0.85"/>
<line x1="301.90" y1="103.80" x2="304.30" y2="103.80" stroke="#2a2a2a" stroke-width="0.9"/>
<path d="M306.40,82.20V89.70M306.40,107.50V110.90M305.60,82.20H307.20" stroke="#5a5a5a" stroke-width="1.0" fill="none"/>
<rect x="305.20" y="89.70" width="2.40" height="17.80" fill="#fff" stroke="#2a2a2a" stroke-width="0.85"/>
<line x1="305.20" y1="98.20" x2="307.60" y2="98.20" stroke="#2a2a2a" stroke-width="0.9"/>
<path d="M314.30,82.20V100.00M314.30,108.50V110.30M313.50,82.20H315.10" stroke="#5a5a5a" stroke-width="1.0" fill="none"/>
<rect x="313.10" y="100.00" width="2.40" height="8.50" fill="#fff" stroke="#2a2a2a" stroke-width="0.85"/>
<line x1="313.10" y1="104.70" x2="315.50" y2="104.70" stroke="#2a2a2a" stroke-width="0.9"/>
<path d="M318.00,90.60V101.90M318.00,115.00V116.90M317.20,90.60H318.80" stroke="#5a5a5a" stroke-width="1.0" fill="none"/>
<rect x="316.80" y="101.90" width="2.40" height="13.10" fill="#fff" stroke="#2a2a2a" stroke-width="0.85"/>
<line x1="316.80" y1="107.50" x2="319.20" y2="107.50" stroke="#2a2a2a" stroke-width="0.9"/>
<path d="M321.50,109.40V111.30M321.50,116.90V118.80M320.70,109.40H322.30" stroke="#5a5a5a" stroke-width="1.0" fill="none"/>
<rect x="320.30" y="111.30" width="2.40" height="5.60" fill="#fff" stroke="#2a2a2a" stroke-width="0.85"/>
<line x1="320.30" y1="113.20" x2="322.70" y2="113.20" stroke="#2a2a2a" stroke-width="0.9"/>
<path d="M324.80,92.50V103.80M324.80,116.90V120.70M324.00,92.50H325.60" stroke="#5a5a5a" stroke-width="1.0" fill="none"/>
<rect x="323.60" y="103.80" width="2.40" height="13.10" fill="#fff" stroke="#2a2a2a" stroke-width="0.85"/>
<line x1="323.60" y1="109.40" x2="326.00" y2="109.40" stroke="#2a2a2a" stroke-width="0.9"/>
<path d="M328.80,75.60V99.10M328.80,117.90V122.50M328.00,75.60H329.60" stroke="#5a5a5a" stroke-width="1.0" fill="none"/>
<rect x="327.60" y="99.10" width="2.40" height="18.80" fill="#fff" stroke="#2a2a2a" stroke-width="0.85"/>
<line x1="327.60" y1="111.30" x2="330.00" y2="111.30" stroke="#2a2a2a" stroke-width="0.9"/>
<path d="M332.10,93.50V102.80M332.10,110.30V111.30M331.30,93.50H332.90" stroke="#5a5a5a" stroke-width="1.0" fill="none"/>
<rect x="330.90" y="102.80" width="2.40" height="7.50" fill="#fff" stroke="#2a2a2a" stroke-width="0.85"/>
<line x1="330.90" y1="106.60" x2="333.30" y2="106.60" stroke="#2a2a2a" stroke-width="0.9"/>
<path d="M335.90,94.40V98.20M335.90,116.00V119.70M335.10,94.40H336.70" stroke="#5a5a5a" stroke-width="1.0" fill="none"/>
<rect x="334.70" y="98.20" width="2.40" height="17.80" fill="#fff" stroke="#2a2a2a" stroke-width="0.85"/>
<line x1="334.70" y1="107.50" x2="337.10" y2="107.50" stroke="#2a2a2a" stroke-width="0.9"/>
<path d="M339.20,73.80V94.40M339.20,115.00V119.70M338.40,73.80H340.00" stroke="#5a5a5a" stroke-width="1.0" fill="none"/>
<rect x="338.00" y="94.40" width="2.40" height="20.60" fill="#fff" stroke="#2a2a2a" stroke-width="0.85"/>
<line x1="338.00" y1="103.80" x2="340.40" y2="103.80" stroke="#2a2a2a" stroke-width="0.9"/>
<path d="M342.40,83.10V90.60M342.40,109.40V116.90M341.60,83.10H343.20" stroke="#5a5a5a" stroke-width="1.0" fill="none"/>
<rect x="341.20" y="90.60" width="2.40" height="18.80" fill="#fff" stroke="#2a2a2a" stroke-width="0.85"/>
<line x1="341.20" y1="97.20" x2="343.60" y2="97.20" stroke="#2a2a2a" stroke-width="0.9"/>
<path d="M207.50,194.00V202.00M207.50,223.00V227.00M206.70,194.00H208.30" stroke="#5a5a5a" stroke-width="1.0" fill="none"/>
<rect x="206.30" y="202.00" width="2.40" height="21.00" fill="#fff" stroke="#2a2a2a" stroke-width="0.85"/>
<line x1="206.30" y1="210.00" x2="208.70" y2="210.00" stroke="#2a2a2a" stroke-width="0.9"/>
<path d="M211.50,210.00V218.00M211.50,227.00V241.00M210.70,210.00H212.30" stroke="#5a5a5a" stroke-width="1.0" fill="none"/>
<rect x="210.30" y="218.00" width="2.40" height="9.00" fill="#fff" stroke="#2a2a2a" stroke-width="0.85"/>
<line x1="210.30" y1="223.00" x2="212.70" y2="223.00" stroke="#2a2a2a" stroke-width="0.9"/>
<path d="M215.00,214.00V215.00M215.00,229.00V244.00M214.20,214.00H215.80" stroke="#5a5a5a" stroke-width="1.0" fill="none"/>
<rect x="213.80" y="215.00" width="2.40" height="14.00" fill="#fff" stroke="#2a2a2a" stroke-width="0.85"/>
<line x1="213.80" y1="220.00" x2="216.20" y2="220.00" stroke="#2a2a2a" stroke-width="0.9"/>
<path d="M218.50,205.00V216.00M218.50,228.00V230.00M217.70,205.00H219.30" stroke="#5a5a5a" stroke-width="1.0" fill="none"/>
<rect x="217.30" y="216.00" width="2.40" height="12.00" fill="#fff" stroke="#2a2a2a" stroke-width="0.85"/>
<line x1="217.30" y1="221.00" x2="219.70" y2="221.00" stroke="#2a2a2a" stroke-width="0.9"/>
<path d="M222.10,194.00V202.00M222.10,228.00V239.00M221.30,194.00H222.90" stroke="#5a5a5a" stroke-width="1.0" fill="none"/>
<rect x="220.90" y="202.00" width="2.40" height="26.00" fill="#fff" stroke="#2a2a2a" stroke-width="0.85"/>
<line x1="220.90" y1="213.00" x2="223.30" y2="213.00" stroke="#2a2a2a" stroke-width="0.9"/>
<path d="M225.30,195.00V211.00M225.30,226.00V231.00M224.50,195.00H226.10" stroke="#5a5a5a" stroke-width="1.0" fill="none"/>
<rect x="224.10" y="211.00" width="2.40" height="15.00" fill="#fff" stroke="#2a2a2a" stroke-width="0.85"/>
<line x1="224.10" y1="217.00" x2="226.50" y2="217.00" stroke="#2a2a2a" stroke-width="0.9"/>
<path d="M228.50,198.00V199.00M228.50,228.00V234.00M227.70,198.00H229.30" stroke="#5a5a5a" stroke-width="1.0" fill="none"/>
<rect x="227.30" y="199.00" width="2.40" height="29.00" fill="#fff" stroke="#2a2a2a" stroke-width="0.85"/>
<line x1="227.30" y1="205.00" x2="229.70" y2="205.00" stroke="#2a2a2a" stroke-width="0.9"/>
<path d="M232.50,197.00V209.00M232.50,225.00V236.00M231.70,197.00H233.30" stroke="#5a5a5a" stroke-width="1.0" fill="none"/>
<rect x="231.30" y="209.00" width="2.40" height="16.00" fill="#fff" stroke="#2a2a2a" stroke-width="0.85"/>
<line x1="231.30" y1="216.00" x2="233.70" y2="216.00" stroke="#2a2a2a" stroke-width="0.9"/>
<path d="M236.00,192.00V202.00M236.00,223.00V236.00M235.20,192.00H236.80" stroke="#5a5a5a" stroke-width="1.0" fill="none"/>
<rect x="234.80" y="202.00" width="2.40" height="21.00" fill="#fff" stroke="#2a2a2a" stroke-width="0.85"/>
<line x1="234.80" y1="213.00" x2="237.20" y2="213.00" stroke="#2a2a2a" stroke-width="0.9"/>
<path d="M243.50,222.00V224.00M243.50,238.00V239.00M242.70,222.00H244.30" stroke="#5a5a5a" stroke-width="1.0" fill="none"/>
<rect x="242.30" y="224.00" width="2.40" height="14.00" fill="#fff" stroke="#2a2a2a" stroke-width="0.85"/>
<line x1="242.30" y1="230.00" x2="244.70" y2="230.00" stroke="#2a2a2a" stroke-width="0.9"/>
<path d="M247.10,224.00V226.00M247.10,237.00V239.00M246.30,224.00H247.90" stroke="#5a5a5a" stroke-width="1.0" fill="none"/>
<rect x="245.90" y="226.00" width="2.40" height="11.00" fill="#fff" stroke="#2a2a2a" stroke-width="0.85"/>
<line x1="245.90" y1="232.00" x2="248.30" y2="232.00" stroke="#2a2a2a" stroke-width="0.9"/>
<path d="M250.50,227.00V229.00M250.50,237.00V239.00M249.70,227.00H251.30" stroke="#5a5a5a" stroke-width="1.0" fill="none"/>
<rect x="249.30" y="229.00" width="2.40" height="8.00" fill="#fff" stroke="#2a2a2a" stroke-width="0.85"/>
<line x1="249.30" y1="233.00" x2="251.70" y2="233.00" stroke="#2a2a2a" stroke-width="0.9"/>
<path d="M254.10,220.00V229.00M254.10,236.00V238.00M253.30,220.00H254.90" stroke="#5a5a5a" stroke-width="1.0" fill="none"/>
<rect x="252.90" y="229.00" width="2.40" height="7.00" fill="#fff" stroke="#2a2a2a" stroke-width="0.85"/>
<line x1="252.90" y1="232.00" x2="255.30" y2="232.00" stroke="#2a2a2a" stroke-width="0.9"/>
<path d="M257.70,224.00V227.00M257.70,237.00V240.00M256.90,224.00H258.50" stroke="#5a5a5a" stroke-width="1.0" fill="none"/>
<rect x="256.50" y="227.00" width="2.40" height="10.00" fill="#fff" stroke="#2a2a2a" stroke-width="0.85"/>
<line x1="256.50" y1="230.00" x2="258.90" y2="230.00" stroke="#2a2a2a" stroke-width="0.9"/>
<path d="M261.10,222.00V227.00M261.10,238.00V240.00M260.30,222.00H261.90" stroke="#5a5a5a" stroke-width="1.0" fill="none"/>
<rect x="259.90" y="227.00" width="2.40" height="11.00" fill="#fff" stroke="#2a2a2a" stroke-width="0.85"/>
<line x1="259.90" y1="232.00" x2="262.30" y2="232.00" stroke="#2a2a2a" stroke-width="0.9"/>
<path d="M264.70,218.00V220.00M264.70,240.00V242.00M263.90,218.00H265.50" stroke="#5a5a5a" stroke-width="1.0" fill="none"/>
<rect x="263.50" y="220.00" width="2.40" height="20.00" fill="#fff" stroke="#2a2a2a" stroke-width="0.85"/>
<line x1="263.50" y1="227.00" x2="265.90" y2="227.00" stroke="#2a2a2a" stroke-width="0.9"/>
<path d="M268.50,216.00V229.00M268.50,236.00V246.00M267.70,216.00H269.30" stroke="#5a5a5a" stroke-width="1.0" fill="none"/>
<rect x="267.30" y="229.00" width="2.40" height="7.00" fill="#fff" stroke="#2a2a2a" stroke-width="0.85"/>
<line x1="267.30" y1="232.00" x2="269.70" y2="232.00" stroke="#2a2a2a" stroke-width="0.9"/>
<path d="M272.00,224.00V230.00M272.00,239.00V241.00M271.20,224.00H272.80" stroke="#5a5a5a" stroke-width="1.0" fill="none"/>
<rect x="270.80" y="230.00" width="2.40" height="9.00" fill="#fff" stroke="#2a2a2a" stroke-width="0.85"/>
<line x1="270.80" y1="234.00" x2="273.20" y2="234.00" stroke="#2a2a2a" stroke-width="0.9"/>
<path d="M279.40,224.00V234.00M279.40,242.00V244.00M278.60,224.00H280.20" stroke="#5a5a5a" stroke-width="1.0" fill="none"/>
<rect x="278.20" y="234.00" width="2.40" height="8.00" fill="#fff" stroke="#2a2a2a" stroke-width="0.85"/>
<line x1="278.20" y1="238.00" x2="280.60" y2="238.00" stroke="#2a2a2a" stroke-width="0.9"/>
<path d="M283.00,230.00V236.00M283.00,243.00V245.00M282.20,230.00H283.80" stroke="#5a5a5a" stroke-width="1.0" fill="none"/>
<rect x="281.80" y="236.00" width="2.40" height="7.00" fill="#fff" stroke="#2a2a2a" stroke-width="0.85"/>
<line x1="281.80" y1="239.00" x2="284.20" y2="239.00" stroke="#2a2a2a" stroke-width="0.9"/>
<path d="M286.50,233.00V237.00M286.50,244.00V246.00M285.70,233.00H287.30" stroke="#5a5a5a" stroke-width="1.0" fill="none"/>
<rect x="285.30" y="237.00" width="2.40" height="7.00" fill="#fff" stroke="#2a2a2a" stroke-width="0.85"/>
<line x1="285.30" y1="240.00" x2="287.70" y2="240.00" stroke="#2a2a2a" stroke-width="0.9"/>
<path d="M290.00,225.00V234.00M290.00,244.00V246.00M289.20,225.00H290.80" stroke="#5a5a5a" stroke-width="1.0" fill="none"/>
<rect x="288.80" y="234.00" width="2.40" height="10.00" fill="#fff" stroke="#2a2a2a" stroke-width="0.85"/>
<line x1="288.80" y1="239.00" x2="291.20" y2="239.00" stroke="#2a2a2a" stroke-width="0.9"/>
<path d="M293.50,229.00V236.00M293.50,242.00V245.00M292.70,229.00H294.30" stroke="#5a5a5a" stroke-width="1.0" fill="none"/>
<rect x="292.30" y="236.00" width="2.40" height="6.00" fill="#fff" stroke="#2a2a2a" stroke-width="0.85"/>
<line x1="292.30" y1="239.00" x2="294.70" y2="239.00" stroke="#2a2a2a" stroke-width="0.9"/>
<path d="M297.00,230.00V235.00M297.00,242.00V245.00M296.20,230.00H297.80" stroke="#5a5a5a" stroke-width="1.0" fill="none"/>
<rect x="295.80" y="235.00" width="2.40" height="7.00" fill="#fff" stroke="#2a2a2a" stroke-width="0.85"/>
<line x1="295.80" y1="239.00" x2="298.20" y2="239.00" stroke="#2a2a2a" stroke-width="0.9"/>
<path d="M300.50,227.00V233.00M300.50,243.00V246.00M299.70,227.00H301.30" stroke="#5a5a5a" stroke-width="1.0" fill="none"/>
<rect x="299.30" y="233.00" width="2.40" height="10.00" fill="#fff" stroke="#2a2a2a" stroke-width="0.85"/>
<line x1="299.30" y1="237.00" x2="301.70" y2="237.00" stroke="#2a2a2a" stroke-width="0.9"/>
<path d="M304.00,206.00V231.00M304.00,244.00V247.00M303.20,206.00H304.80" stroke="#5a5a5a" stroke-width="1.0" fill="none"/>
<rect x="302.80" y="231.00" width="2.40" height="13.00" fill="#fff" stroke="#2a2a2a" stroke-width="0.85"/>
<line x1="302.80" y1="236.00" x2="305.20" y2="236.00" stroke="#2a2a2a" stroke-width="0.9"/>
<path d="M307.50,229.00V232.00M307.50,243.00V246.00M306.70,229.00H308.30" stroke="#5a5a5a" stroke-width="1.0" fill="none"/>
<rect x="306.30" y="232.00" width="2.40" height="11.00" fill="#fff" stroke="#2a2a2a" stroke-width="0.85"/>
<line x1="306.30" y1="237.00" x2="308.70" y2="237.00" stroke="#2a2a2a" stroke-width="0.9"/>
<path d="M315.40,230.00V234.00M315.40,243.00V245.00M314.60,230.00H316.20" stroke="#5a5a5a" stroke-width="1.0" fill="none"/>
<rect x="314.20" y="234.00" width="2.40" height="9.00" fill="#fff" stroke="#2a2a2a" stroke-width="0.85"/>
<line x1="314.20" y1="239.00" x2="316.60" y2="239.00" stroke="#2a2a2a" stroke-width="0.9"/>
<path d="M319.00,236.00V238.00M319.00,244.00V246.00M318.20,236.00H319.80" stroke="#5a5a5a" stroke-width="1.0" fill="none"/>
<rect x="317.80" y="238.00" width="2.40" height="6.00" fill="#fff" stroke="#2a2a2a" stroke-width="0.85"/>
<line x1="317.80" y1="241.00" x2="320.20" y2="241.00" stroke="#2a2a2a" stroke-width="0.9"/>
<path d="M322.50,238.00V240.00M322.50,245.60V247.00M321.70,238.00H323.30" stroke="#5a5a5a" stroke-width="1.0" fill="none"/>
<rect x="321.30" y="240.00" width="2.40" height="5.60" fill="#fff" stroke="#2a2a2a" stroke-width="0.85"/>
<line x1="321.30" y1="243.00" x2="323.70" y2="243.00" stroke="#2a2a2a" stroke-width="0.9"/>
<path d="M326.00,237.00V239.00M326.00,245.60V247.00M325.20,237.00H326.80" stroke="#5a5a5a" stroke-width="1.0" fill="none"/>
<rect x="324.80" y="239.00" width="2.40" height="6.60" fill="#fff" stroke="#2a2a2a" stroke-width="0.85"/>
<line x1="324.80" y1="242.00" x2="327.20" y2="242.00" stroke="#2a2a2a" stroke-width="0.9"/>
<path d="M329.50,234.00V237.00M329.50,244.00V246.00M328.70,234.00H330.30" stroke="#5a5a5a" stroke-width="1.0" fill="none"/>
<rect x="328.30" y="237.00" width="2.40" height="7.00" fill="#fff" stroke="#2a2a2a" stroke-width="0.85"/>
<line x1="328.30" y1="241.00" x2="330.70" y2="241.00" stroke="#2a2a2a" stroke-width="0.9"/>
<path d="M333.00,231.00V236.00M333.00,244.00V246.00M332.20,231.00H333.80" stroke="#5a5a5a" stroke-width="1.0" fill="none"/>
<rect x="331.80" y="236.00" width="2.40" height="8.00" fill="#fff" stroke="#2a2a2a" stroke-width="0.85"/>
<line x1="331.80" y1="239.00" x2="334.20" y2="239.00" stroke="#2a2a2a" stroke-width="0.9"/>
<path d="M336.50,234.00V236.00M336.50,244.40V246.00M335.70,234.00H337.30" stroke="#5a5a5a" stroke-width="1.0" fill="none"/>
<rect x="335.30" y="236.00" width="2.40" height="8.40" fill="#fff" stroke="#2a2a2a" stroke-width="0.85"/>
<line x1="335.30" y1="240.00" x2="337.70" y2="240.00" stroke="#2a2a2a" stroke-width="0.9"/>
<path d="M340.00,222.00V236.00M340.00,243.60V246.00M339.20,222.00H340.80" stroke="#5a5a5a" stroke-width="1.0" fill="none"/>
<rect x="338.80" y="236.00" width="2.40" height="7.60" fill="#fff" stroke="#2a2a2a" stroke-width="0.85"/>
<line x1="338.80" y1="239.00" x2="341.20" y2="239.00" stroke="#2a2a2a" stroke-width="0.9"/>
<path d="M343.50,230.00V236.00M343.50,244.00V246.00M342.70,230.00H344.30" stroke="#5a5a5a" stroke-width="1.0" fill="none"/>
<rect x="342.30" y="236.00" width="2.40" height="8.00" fill="#fff" stroke="#2a2a2a" stroke-width="0.85"/>
<line x1="342.30" y1="240.00" x2="344.70" y2="240.00" stroke="#2a2a2a" stroke-width="0.9"/>
<path d="M206.60,293.00V354.50M206.60,363.00V363.10M205.80,293.00H207.40" stroke="#5a5a5a" stroke-width="1.0" fill="none"/>
<rect x="205.40" y="354.50" width="2.40" height="8.50" fill="#fff" stroke="#2a2a2a" stroke-width="0.85"/>
<line x1="205.40" y1="357.70" x2="207.80" y2="357.70" stroke="#2a2a2a" stroke-width="0.9"/>
<path d="M210.00,344.70V352.00M210.00,363.00V363.10M209.20,344.70H210.80" stroke="#5a5a5a" stroke-width="1.0" fill="none"/>
<rect x="208.80" y="352.00" width="2.40" height="11.00" fill="#fff" stroke="#2a2a2a" stroke-width="0.85"/>
<line x1="208.80" y1="356.10" x2="211.20" y2="356.10" stroke="#2a2a2a" stroke-width="0.9"/>
<path d="M213.60,348.80V353.70M213.60,363.00V363.10M212.80,348.80H214.40" stroke="#5a5a5a" stroke-width="1.0" fill="none"/>
<rect x="212.40" y="353.70" width="2.40" height="9.30" fill="#fff" stroke="#2a2a2a" stroke-width="0.85"/>
<line x1="212.40" y1="356.90" x2="214.80" y2="356.90" stroke="#2a2a2a" stroke-width="0.9"/>
<path d="M217.00,355.30V356.90M217.00,363.00V363.10M216.20,355.30H217.80" stroke="#5a5a5a" stroke-width="1.0" fill="none"/>
<rect x="215.80" y="356.90" width="2.40" height="6.10" fill="#fff" stroke="#2a2a2a" stroke-width="0.85"/>
<line x1="215.80" y1="360.20" x2="218.20" y2="360.20" stroke="#2a2a2a" stroke-width="0.9"/>
<path d="M220.30,352.80V356.10M220.30,363.00V363.10M219.50,352.80H221.10" stroke="#5a5a5a" stroke-width="1.0" fill="none"/>
<rect x="219.10" y="356.10" width="2.40" height="6.90" fill="#fff" stroke="#2a2a2a" stroke-width="0.85"/>
<line x1="219.10" y1="359.30" x2="221.50" y2="359.30" stroke="#2a2a2a" stroke-width="0.9"/>
<path d="M223.80,349.60V356.10M223.80,363.00V363.10M223.00,349.60H224.60" stroke="#5a5a5a" stroke-width="1.0" fill="none"/>
<rect x="222.60" y="356.10" width="2.40" height="6.90" fill="#fff" stroke="#2a2a2a" stroke-width="0.85"/>
<line x1="222.60" y1="359.30" x2="225.00" y2="359.30" stroke="#2a2a2a" stroke-width="0.9"/>
<path d="M227.30,355.30V356.10M227.30,363.00V363.10M226.50,355.30H228.10" stroke="#5a5a5a" stroke-width="1.0" fill="none"/>
<rect x="226.10" y="356.10" width="2.40" height="6.90" fill="#fff" stroke="#2a2a2a" stroke-width="0.85"/>
<line x1="226.10" y1="359.30" x2="228.50" y2="359.30" stroke="#2a2a2a" stroke-width="0.9"/>
<path d="M231.00,345.50V355.30M231.00,363.00V363.10M230.20,345.50H231.80" stroke="#5a5a5a" stroke-width="1.0" fill="none"/>
<rect x="229.80" y="355.30" width="2.40" height="7.70" fill="#fff" stroke="#2a2a2a" stroke-width="0.85"/>
<line x1="229.80" y1="358.50" x2="232.20" y2="358.50" stroke="#2a2a2a" stroke-width="0.9"/>
<path d="M234.30,343.10V354.50M234.30,363.00V363.10M233.50,343.10H235.10" stroke="#5a5a5a" stroke-width="1.0" fill="none"/>
<rect x="233.10" y="354.50" width="2.40" height="8.50" fill="#fff" stroke="#2a2a2a" stroke-width="0.85"/>
<line x1="233.10" y1="358.50" x2="235.50" y2="358.50" stroke="#2a2a2a" stroke-width="0.9"/>
<path d="M242.50,334.10V350.40M242.50,361.00V363.00M241.70,334.10H243.30" stroke="#5a5a5a" stroke-width="1.0" fill="none"/>
<rect x="241.30" y="350.40" width="2.40" height="10.60" fill="#fff" stroke="#2a2a2a" stroke-width="0.85"/>
<line x1="241.30" y1="355.30" x2="243.70" y2="355.30" stroke="#2a2a2a" stroke-width="0.9"/>
<path d="M246.00,348.80V350.40M246.00,361.80V363.00M245.20,348.80H246.80" stroke="#5a5a5a" stroke-width="1.0" fill="none"/>
<rect x="244.80" y="350.40" width="2.40" height="11.40" fill="#fff" stroke="#2a2a2a" stroke-width="0.85"/>
<line x1="244.80" y1="354.50" x2="247.20" y2="354.50" stroke="#2a2a2a" stroke-width="0.9"/>
<path d="M249.50,349.60V351.20M249.50,361.80V363.00M248.70,349.60H250.30" stroke="#5a5a5a" stroke-width="1.0" fill="none"/>
<rect x="248.30" y="351.20" width="2.40" height="10.60" fill="#fff" stroke="#2a2a2a" stroke-width="0.85"/>
<line x1="248.30" y1="356.10" x2="250.70" y2="356.10" stroke="#2a2a2a" stroke-width="0.9"/>
<path d="M253.00,358.00V360.20M253.00,363.00V363.10M252.20,358.00H253.80" stroke="#5a5a5a" stroke-width="1.0" fill="none"/>
<rect x="251.80" y="360.20" width="2.40" height="2.80" fill="#fff" stroke="#2a2a2a" stroke-width="0.85"/>
<line x1="251.80" y1="361.50" x2="254.20" y2="361.50" stroke="#2a2a2a" stroke-width="0.9"/>
<path d="M256.50,357.00V359.80M256.50,363.00V363.10M255.70,357.00H257.30" stroke="#5a5a5a" stroke-width="1.0" fill="none"/>
<rect x="255.30" y="359.80" width="2.40" height="3.20" fill="#fff" stroke="#2a2a2a" stroke-width="0.85"/>
<line x1="255.30" y1="361.50" x2="257.70" y2="361.50" stroke="#2a2a2a" stroke-width="0.9"/>
<path d="M260.00,355.30V359.30M260.00,363.00V363.10M259.20,355.30H260.80" stroke="#5a5a5a" stroke-width="1.0" fill="none"/>
<rect x="258.80" y="359.30" width="2.40" height="3.70" fill="#fff" stroke="#2a2a2a" stroke-width="0.85"/>
<line x1="258.80" y1="361.30" x2="261.20" y2="361.30" stroke="#2a2a2a" stroke-width="0.9"/>
<path d="M263.50,358.00V360.20M263.50,363.00V363.10M262.70,358.00H264.30" stroke="#5a5a5a" stroke-width="1.0" fill="none"/>
<rect x="262.30" y="360.20" width="2.40" height="2.80" fill="#fff" stroke="#2a2a2a" stroke-width="0.85"/>
<line x1="262.30" y1="361.50" x2="264.70" y2="361.50" stroke="#2a2a2a" stroke-width="0.9"/>
<path d="M267.00,342.60V359.30M267.00,363.00V363.10M266.20,342.60H267.80" stroke="#5a5a5a" stroke-width="1.0" fill="none"/>
<rect x="265.80" y="359.30" width="2.40" height="3.70" fill="#fff" stroke="#2a2a2a" stroke-width="0.85"/>
<line x1="265.80" y1="361.30" x2="268.20" y2="361.30" stroke="#2a2a2a" stroke-width="0.9"/>
<path d="M270.50,354.50V357.70M270.50,363.00V363.10M269.70,354.50H271.30" stroke="#5a5a5a" stroke-width="1.0" fill="none"/>
<rect x="269.30" y="357.70" width="2.40" height="5.30" fill="#fff" stroke="#2a2a2a" stroke-width="0.85"/>
<line x1="269.30" y1="360.50" x2="271.70" y2="360.50" stroke="#2a2a2a" stroke-width="0.9"/>
<path d="M278.80,348.80V353.70M278.80,362.60V363.10M278.00,348.80H279.60" stroke="#5a5a5a" stroke-width="1.0" fill="none"/>
<rect x="277.60" y="353.70" width="2.40" height="8.90" fill="#fff" stroke="#2a2a2a" stroke-width="0.85"/>
<line x1="277.60" y1="357.70" x2="280.00" y2="357.70" stroke="#2a2a2a" stroke-width="0.9"/>
<path d="M282.30,336.10V346.30M282.30,362.60V363.10M281.50,336.10H283.10" stroke="#5a5a5a" stroke-width="1.0" fill="none"/>
<rect x="281.10" y="346.30" width="2.40" height="16.30" fill="#fff" stroke="#2a2a2a" stroke-width="0.85"/>
<line x1="281.10" y1="352.00" x2="283.50" y2="352.00" stroke="#2a2a2a" stroke-width="0.9"/>
<path d="M285.80,345.50V347.20M285.80,363.00V363.10M285.00,345.50H286.60" stroke="#5a5a5a" stroke-width="1.0" fill="none"/>
<rect x="284.60" y="347.20" width="2.40" height="15.80" fill="#fff" stroke="#2a2a2a" stroke-width="0.85"/>
<line x1="284.60" y1="356.90" x2="287.00" y2="356.90" stroke="#2a2a2a" stroke-width="0.9"/>
<path d="M289.30,352.00V357.20M289.30,363.00V363.10M288.50,352.00H290.10" stroke="#5a5a5a" stroke-width="1.0" fill="none"/>
<rect x="288.10" y="357.20" width="2.40" height="5.80" fill="#fff" stroke="#2a2a2a" stroke-width="0.85"/>
<line x1="288.10" y1="360.20" x2="290.50" y2="360.20" stroke="#2a2a2a" stroke-width="0.9"/>
<path d="M292.70,354.50V356.90M292.70,363.00V363.10M291.90,354.50H293.50" stroke="#5a5a5a" stroke-width="1.0" fill="none"/>
<rect x="291.50" y="356.90" width="2.40" height="6.10" fill="#fff" stroke="#2a2a2a" stroke-width="0.85"/>
<line x1="291.50" y1="360.20" x2="293.90" y2="360.20" stroke="#2a2a2a" stroke-width="0.9"/>
<path d="M296.20,355.30V358.50M296.20,363.00V363.10M295.40,355.30H297.00" stroke="#5a5a5a" stroke-width="1.0" fill="none"/>
<rect x="295.00" y="358.50" width="2.40" height="4.50" fill="#fff" stroke="#2a2a2a" stroke-width="0.85"/>
<line x1="295.00" y1="361.00" x2="297.40" y2="361.00" stroke="#2a2a2a" stroke-width="0.9"/>
<path d="M299.70,352.40V358.50M299.70,363.00V363.10M298.90,352.40H300.50" stroke="#5a5a5a" stroke-width="1.0" fill="none"/>
<rect x="298.50" y="358.50" width="2.40" height="4.50" fill="#fff" stroke="#2a2a2a" stroke-width="0.85"/>
<line x1="298.50" y1="361.00" x2="300.90" y2="361.00" stroke="#2a2a2a" stroke-width="0.9"/>
<path d="M303.20,345.50V356.10M303.20,363.00V363.10M302.40,345.50H304.00" stroke="#5a5a5a" stroke-width="1.0" fill="none"/>
<rect x="302.00" y="356.10" width="2.40" height="6.90" fill="#fff" stroke="#2a2a2a" stroke-width="0.85"/>
<line x1="302.00" y1="359.30" x2="304.40" y2="359.30" stroke="#2a2a2a" stroke-width="0.9"/>
<path d="M306.70,354.50V358.50M306.70,363.00V363.10M305.90,354.50H307.50" stroke="#5a5a5a" stroke-width="1.0" fill="none"/>
<rect x="305.50" y="358.50" width="2.40" height="4.50" fill="#fff" stroke="#2a2a2a" stroke-width="0.85"/>
<line x1="305.50" y1="361.00" x2="307.90" y2="361.00" stroke="#2a2a2a" stroke-width="0.9"/>
<path d="M314.80,357.00V359.30M314.80,363.00V363.10M314.00,357.00H315.60" stroke="#5a5a5a" stroke-width="1.0" fill="none"/>
<rect x="313.60" y="359.30" width="2.40" height="3.70" fill="#fff" stroke="#2a2a2a" stroke-width="0.85"/>
<line x1="313.60" y1="361.30" x2="316.00" y2="361.30" stroke="#2a2a2a" stroke-width="0.9"/>
<path d="M318.30,334.10V359.30M318.30,363.00V363.10M317.50,334.10H319.10" stroke="#5a5a5a" stroke-width="1.0" fill="none"/>
<rect x="317.10" y="359.30" width="2.40" height="3.70" fill="#fff" stroke="#2a2a2a" stroke-width="0.85"/>
<line x1="317.10" y1="361.30" x2="319.50" y2="361.30" stroke="#2a2a2a" stroke-width="0.9"/>
<path d="M321.80,358.00V360.20M321.80,363.00V363.10M321.00,358.00H322.60" stroke="#5a5a5a" stroke-width="1.0" fill="none"/>
<rect x="320.60" y="360.20" width="2.40" height="2.80" fill="#fff" stroke="#2a2a2a" stroke-width="0.85"/>
<line x1="320.60" y1="361.80" x2="323.00" y2="361.80" stroke="#2a2a2a" stroke-width="0.9"/>
<path d="M325.30,359.00V360.50M325.30,363.00V363.10M324.50,359.00H326.10" stroke="#5a5a5a" stroke-width="1.0" fill="none"/>
<rect x="324.10" y="360.50" width="2.40" height="2.50" fill="#fff" stroke="#2a2a2a" stroke-width="0.85"/>
<line x1="324.10" y1="361.80" x2="326.50" y2="361.80" stroke="#2a2a2a" stroke-width="0.9"/>
<path d="M328.80,355.30V359.80M328.80,363.00V363.10M328.00,355.30H329.60" stroke="#5a5a5a" stroke-width="1.0" fill="none"/>
<rect x="327.60" y="359.80" width="2.40" height="3.20" fill="#fff" stroke="#2a2a2a" stroke-width="0.85"/>
<line x1="327.60" y1="361.50" x2="330.00" y2="361.50" stroke="#2a2a2a" stroke-width="0.9"/>
<path d="M332.30,359.00V360.50M332.30,363.00V363.10M331.50,359.00H333.10" stroke="#5a5a5a" stroke-width="1.0" fill="none"/>
<rect x="331.10" y="360.50" width="2.40" height="2.50" fill="#fff" stroke="#2a2a2a" stroke-width="0.85"/>
<line x1="331.10" y1="361.80" x2="333.50" y2="361.80" stroke="#2a2a2a" stroke-width="0.9"/>
<path d="M335.80,357.00V359.80M335.80,363.00V363.10M335.00,357.00H336.60" stroke="#5a5a5a" stroke-width="1.0" fill="none"/>
<rect x="334.60" y="359.80" width="2.40" height="3.20" fill="#fff" stroke="#2a2a2a" stroke-width="0.85"/>
<line x1="334.60" y1="361.50" x2="337.00" y2="361.50" stroke="#2a2a2a" stroke-width="0.9"/>
<path d="M339.30,356.10V359.30M339.30,363.00V363.10M338.50,356.10H340.10" stroke="#5a5a5a" stroke-width="1.0" fill="none"/>
<rect x="338.10" y="359.30" width="2.40" height="3.70" fill="#fff" stroke="#2a2a2a" stroke-width="0.85"/>
<line x1="338.10" y1="361.30" x2="340.50" y2="361.30" stroke="#2a2a2a" stroke-width="0.9"/>
<path d="M342.80,355.00V358.50M342.80,363.00V363.10M342.00,355.00H343.60" stroke="#5a5a5a" stroke-width="1.0" fill="none"/>
<rect x="341.60" y="358.50" width="2.40" height="4.50" fill="#fff" stroke="#2a2a2a" stroke-width="0.85"/>
<line x1="341.60" y1="361.00" x2="344.00" y2="361.00" stroke="#2a2a2a" stroke-width="0.9"/>
<path d="M375.60,79.70V97.70M375.60,113.50V116.50M374.80,79.70H376.40" stroke="#5a5a5a" stroke-width="1.0" fill="none"/>
<rect x="374.40" y="97.70" width="2.40" height="15.80" fill="#fff" stroke="#2a2a2a" stroke-width="0.85"/>
<line x1="374.40" y1="105.20" x2="376.80" y2="105.20" stroke="#2a2a2a" stroke-width="0.9"/>
<path d="M378.80,81.20V93.20M378.80,122.50V127.70M378.00,81.20H379.60" stroke="#5a5a5a" stroke-width="1.0" fill="none"/>
<rect x="377.60" y="93.20" width="2.40" height="29.30" fill="#fff" stroke="#2a2a2a" stroke-width="0.85"/>
<line x1="377.60" y1="106.00" x2="380.00" y2="106.00" stroke="#2a2a2a" stroke-width="0.9"/>
<path d="M382.50,77.50V89.50M382.50,111.20V118.00M381.70,77.50H383.30" stroke="#5a5a5a" stroke-width="1.0" fill="none"/>
<rect x="381.30" y="89.50" width="2.40" height="21.70" fill="#fff" stroke="#2a2a2a" stroke-width="0.85"/>
<line x1="381.30" y1="100.00" x2="383.70" y2="100.00" stroke="#2a2a2a" stroke-width="0.9"/>
<path d="M385.70,88.00V97.70M385.70,113.50V121.00M384.90,88.00H386.50" stroke="#5a5a5a" stroke-width="1.0" fill="none"/>
<rect x="384.50" y="97.70" width="2.40" height="15.80" fill="#fff" stroke="#2a2a2a" stroke-width="0.85"/>
<line x1="384.50" y1="101.50" x2="386.90" y2="101.50" stroke="#2a2a2a" stroke-width="0.9"/>
<path d="M389.00,76.70V91.70M389.00,109.70V122.50M388.20,76.70H389.80" stroke="#5a5a5a" stroke-width="1.0" fill="none"/>
<rect x="387.80" y="91.70" width="2.40" height="18.00" fill="#fff" stroke="#2a2a2a" stroke-width="0.85"/>
<line x1="387.80" y1="101.50" x2="390.20" y2="101.50" stroke="#2a2a2a" stroke-width="0.9"/>
<path d="M392.60,96.20V96.20M392.60,103.00V129.60M391.80,96.20H393.40" stroke="#5a5a5a" stroke-width="1.0" fill="none"/>
<rect x="391.40" y="96.20" width="2.40" height="6.80" fill="#fff" stroke="#2a2a2a" stroke-width="0.85"/>
<line x1="391.40" y1="100.00" x2="393.80" y2="100.00" stroke="#2a2a2a" stroke-width="0.9"/>
<path d="M396.40,61.75V95.50M396.40,106.00V129.60M395.60,61.75H397.20" stroke="#5a5a5a" stroke-width="1.0" fill="none"/>
<rect x="395.20" y="95.50" width="2.40" height="10.50" fill="#fff" stroke="#2a2a2a" stroke-width="0.85"/>
<line x1="395.20" y1="100.00" x2="397.60" y2="100.00" stroke="#2a2a2a" stroke-width="0.9"/>
<path d="M399.80,63.00V84.20M399.80,106.00V112.00M399.00,63.00H400.60" stroke="#5a5a5a" stroke-width="1.0" fill="none"/>
<rect x="398.60" y="84.20" width="2.40" height="21.80" fill="#fff" stroke="#2a2a2a" stroke-width="0.85"/>
<line x1="398.60" y1="89.50" x2="401.00" y2="89.50" stroke="#2a2a2a" stroke-width="0.9"/>
<path d="M403.20,68.60V76.70M403.20,106.70V113.50M402.40,68.60H404.00" stroke="#5a5a5a" stroke-width="1.0" fill="none"/>
<rect x="402.00" y="76.70" width="2.40" height="30.00" fill="#fff" stroke="#2a2a2a" stroke-width="0.85"/>
<line x1="402.00" y1="90.00" x2="404.40" y2="90.00" stroke="#2a2a2a" stroke-width="0.9"/>
<path d="M411.70,70.00V85.00M411.70,115.00V117.00M410.90,70.00H412.50" stroke="#5a5a5a" stroke-width="1.0" fill="none"/>
<rect x="410.50" y="85.00" width="2.40" height="30.00" fill="#fff" stroke="#2a2a2a" stroke-width="0.85"/>
<line x1="410.50" y1="100.00" x2="412.90" y2="100.00" stroke="#2a2a2a" stroke-width="0.9"/>
<path d="M414.80,67.00V73.70M414.80,103.75V115.00M414.00,67.00H415.60" stroke="#5a5a5a" stroke-width="1.0" fill="none"/>
<rect x="413.60" y="73.70" width="2.40" height="30.05" fill="#fff" stroke="#2a2a2a" stroke-width="0.85"/>
<line x1="413.60" y1="91.30" x2="416.00" y2="91.30" stroke="#2a2a2a" stroke-width="0.9"/>
<path d="M418.00,61.00V79.30M418.00,100.00V103.10M417.20,61.00H418.80" stroke="#5a5a5a" stroke-width="1.0" fill="none"/>
<rect x="416.80" y="79.30" width="2.40" height="20.70" fill="#fff" stroke="#2a2a2a" stroke-width="0.85"/>
<line x1="416.80" y1="95.00" x2="419.20" y2="95.00" stroke="#2a2a2a" stroke-width="0.9"/>
<path d="M421.40,84.00V88.70M421.40,110.00V117.50M420.60,84.00H422.20" stroke="#5a5a5a" stroke-width="1.0" fill="none"/>
<rect x="420.20" y="88.70" width="2.40" height="21.30" fill="#fff" stroke="#2a2a2a" stroke-width="0.85"/>
<line x1="420.20" y1="102.50" x2="422.60" y2="102.50" stroke="#2a2a2a" stroke-width="0.9"/>
<path d="M425.10,79.00V81.20M425.10,107.50V113.75M424.30,79.00H425.90" stroke="#5a5a5a" stroke-width="1.0" fill="none"/>
<rect x="423.90" y="81.20" width="2.40" height="26.30" fill="#fff" stroke="#2a2a2a" stroke-width="0.85"/>
<line x1="423.90" y1="102.50" x2="426.30" y2="102.50" stroke="#2a2a2a" stroke-width="0.9"/>
<path d="M428.60,73.00V79.70M428.60,106.25V112.50M427.80,73.00H429.40" stroke="#5a5a5a" stroke-width="1.0" fill="none"/>
<rect x="427.40" y="79.70" width="2.40" height="26.55" fill="#fff" stroke="#2a2a2a" stroke-width="0.85"/>
<line x1="427.40" y1="98.00" x2="429.80" y2="98.00" stroke="#2a2a2a" stroke-width="0.9"/>
<path d="M431.90,70.70V77.50M431.90,106.25V108.75M431.10,70.70H432.70" stroke="#5a5a5a" stroke-width="1.0" fill="none"/>
<rect x="430.70" y="77.50" width="2.40" height="28.75" fill="#fff" stroke="#2a2a2a" stroke-width="0.85"/>
<line x1="430.70" y1="99.40" x2="433.10" y2="99.40" stroke="#2a2a2a" stroke-width="0.9"/>
<path d="M435.40,85.60V89.50M435.40,100.00V105.00M434.60,85.60H436.20" stroke="#5a5a5a" stroke-width="1.0" fill="none"/>
<rect x="434.20" y="89.50" width="2.40" height="10.50" fill="#fff" stroke="#2a2a2a" stroke-width="0.85"/>
<line x1="434.20" y1="92.50" x2="436.60" y2="92.50" stroke="#2a2a2a" stroke-width="0.9"/>
<path d="M438.70,82.30V86.50M438.70,111.25V113.75M437.90,82.30H439.50" stroke="#5a5a5a" stroke-width="1.0" fill="none"/>
<rect x="437.50" y="86.50" width="2.40" height="24.75" fill="#fff" stroke="#2a2a2a" stroke-width="0.85"/>
<line x1="437.50" y1="102.50" x2="439.90" y2="102.50" stroke="#2a2a2a" stroke-width="0.9"/>
<path d="M446.80,116.00V119.70M446.80,127.20V129.00M446.00,116.00H447.60" stroke="#5a5a5a" stroke-width="1.0" fill="none"/>
<rect x="445.60" y="119.70" width="2.40" height="7.50" fill="#fff" stroke="#2a2a2a" stroke-width="0.85"/>
<line x1="445.60" y1="123.50" x2="448.00" y2="123.50" stroke="#2a2a2a" stroke-width="0.9"/>
<path d="M450.50,103.80V110.30M450.50,123.50V126.30M449.70,103.80H451.30" stroke="#5a5a5a" stroke-width="1.0" fill="none"/>
<rect x="449.30" y="110.30" width="2.40" height="13.20" fill="#fff" stroke="#2a2a2a" stroke-width="0.85"/>
<line x1="449.30" y1="116.90" x2="451.70" y2="116.90" stroke="#2a2a2a" stroke-width="0.9"/>
<path d="M454.30,102.80V108.50M454.30,120.70V126.30M453.50,102.80H455.10" stroke="#5a5a5a" stroke-width="1.0" fill="none"/>
<rect x="453.10" y="108.50" width="2.40" height="12.20" fill="#fff" stroke="#2a2a2a" stroke-width="0.85"/>
<line x1="453.10" y1="115.00" x2="455.50" y2="115.00" stroke="#2a2a2a" stroke-width="0.9"/>
<path d="M458.00,115.00V117.90M458.00,126.30V128.00M457.20,115.00H458.80" stroke="#5a5a5a" stroke-width="1.0" fill="none"/>
<rect x="456.80" y="117.90" width="2.40" height="8.40" fill="#fff" stroke="#2a2a2a" stroke-width="0.85"/>
<line x1="456.80" y1="121.60" x2="459.20" y2="121.60" stroke="#2a2a2a" stroke-width="0.9"/>
<path d="M461.80,103.80V113.20M461.80,123.50V125.40M461.00,103.80H462.60" stroke="#5a5a5a" stroke-width="1.0" fill="none"/>
<rect x="460.60" y="113.20" width="2.40" height="10.30" fill="#fff" stroke="#2a2a2a" stroke-width="0.85"/>
<line x1="460.60" y1="116.90" x2="463.00" y2="116.90" stroke="#2a2a2a" stroke-width="0.9"/>
<path d="M465.10,86.00V108.50M465.10,121.60V125.40M464.30,86.00H465.90" stroke="#5a5a5a" stroke-width="1.0" fill="none"/>
<rect x="463.90" y="108.50" width="2.40" height="13.10" fill="#fff" stroke="#2a2a2a" stroke-width="0.85"/>
<line x1="463.90" y1="115.00" x2="466.30" y2="115.00" stroke="#2a2a2a" stroke-width="0.9"/>
<path d="M468.80,84.10V115.00M468.80,122.50V125.40M468.00,84.10H469.60" stroke="#5a5a5a" stroke-width="1.0" fill="none"/>
<rect x="467.60" y="115.00" width="2.40" height="7.50" fill="#fff" stroke="#2a2a2a" stroke-width="0.85"/>
<line x1="467.60" y1="118.80" x2="470.00" y2="118.80" stroke="#2a2a2a" stroke-width="0.9"/>
<path d="M472.10,100.00V105.30M472.10,116.90V119.70M471.30,100.00H472.90" stroke="#5a5a5a" stroke-width="1.0" fill="none"/>
<rect x="470.90" y="105.30" width="2.40" height="11.60" fill="#fff" stroke="#2a2a2a" stroke-width="0.85"/>
<line x1="470.90" y1="111.30" x2="473.30" y2="111.30" stroke="#2a2a2a" stroke-width="0.9"/>
<path d="M475.40,99.10V109.40M475.40,116.00V125.40M474.60,99.10H476.20" stroke="#5a5a5a" stroke-width="1.0" fill="none"/>
<rect x="474.20" y="109.40" width="2.40" height="6.60" fill="#fff" stroke="#2a2a2a" stroke-width="0.85"/>
<line x1="474.20" y1="112.20" x2="476.60" y2="112.20" stroke="#2a2a2a" stroke-width="0.9"/>
<path d="M483.20,93.50V119.70M483.20,126.30V128.50M482.40,93.50H484.00" stroke="#5a5a5a" stroke-width="1.0" fill="none"/>
<rect x="482.00" y="119.70" width="2.40" height="6.60" fill="#fff" stroke="#2a2a2a" stroke-width="0.85"/>
<line x1="482.00" y1="121.60" x2="484.40" y2="121.60" stroke="#2a2a2a" stroke-width="0.9"/>
<path d="M487.00,109.40V118.80M487.00,125.40V127.00M486.20,109.40H487.80" stroke="#5a5a5a" stroke-width="1.0" fill="none"/>
<rect x="485.80" y="118.80" width="2.40" height="6.60" fill="#fff" stroke="#2a2a2a" stroke-width="0.85"/>
<line x1="485.80" y1="122.50" x2="488.20" y2="122.50" stroke="#2a2a2a" stroke-width="0.9"/>
<path d="M490.70,116.00V121.60M490.70,127.20V128.50M489.90,116.00H491.50" stroke="#5a5a5a" stroke-width="1.0" fill="none"/>
<rect x="489.50" y="121.60" width="2.40" height="5.60" fill="#fff" stroke="#2a2a2a" stroke-width="0.85"/>
<line x1="489.50" y1="124.40" x2="491.90" y2="124.40" stroke="#2a2a2a" stroke-width="0.9"/>
<path d="M494.00,118.80V122.50M494.00,127.80V129.00M493.20,118.80H494.80" stroke="#5a5a5a" stroke-width="1.0" fill="none"/>
<rect x="492.80" y="122.50" width="2.40" height="5.30" fill="#fff" stroke="#2a2a2a" stroke-width="0.85"/>
<line x1="492.80" y1="125.40" x2="495.20" y2="125.40" stroke="#2a2a2a" stroke-width="0.9"/>
<path d="M497.80,109.40V118.80M497.80,125.40V127.00M497.00,109.40H498.60" stroke="#5a5a5a" stroke-width="1.0" fill="none"/>
<rect x="496.60" y="118.80" width="2.40" height="6.60" fill="#fff" stroke="#2a2a2a" stroke-width="0.85"/>
<line x1="496.60" y1="121.60" x2="499.00" y2="121.60" stroke="#2a2a2a" stroke-width="0.9"/>
<path d="M501.10,109.40V115.00M501.10,124.40V126.30M500.30,109.40H501.90" stroke="#5a5a5a" stroke-width="1.0" fill="none"/>
<rect x="499.90" y="115.00" width="2.40" height="9.40" fill="#fff" stroke="#2a2a2a" stroke-width="0.85"/>
<line x1="499.90" y1="118.80" x2="502.30" y2="118.80" stroke="#2a2a2a" stroke-width="0.9"/>
<path d="M504.60,101.90V117.90M504.60,124.40V126.30M503.80,101.90H505.40" stroke="#5a5a5a" stroke-width="1.0" fill="none"/>
<rect x="503.40" y="117.90" width="2.40" height="6.50" fill="#fff" stroke="#2a2a2a" stroke-width="0.85"/>
<line x1="503.40" y1="120.70" x2="505.80" y2="120.70" stroke="#2a2a2a" stroke-width="0.9"/>
<path d="M508.10,104.70V106.60M508.10,118.80V123.00M507.30,104.70H508.90" stroke="#5a5a5a" stroke-width="1.0" fill="none"/>
<rect x="506.90" y="106.60" width="2.40" height="12.20" fill="#fff" stroke="#2a2a2a" stroke-width="0.85"/>
<line x1="506.90" y1="113.20" x2="509.30" y2="113.20" stroke="#2a2a2a" stroke-width="0.9"/>
<path d="M511.40,110.30V114.10M511.40,120.70V124.40M510.60,110.30H512.20" stroke="#5a5a5a" stroke-width="1.0" fill="none"/>
<rect x="510.20" y="114.10" width="2.40" height="6.60" fill="#fff" stroke="#2a2a2a" stroke-width="0.85"/>
<line x1="510.20" y1="116.90" x2="512.60" y2="116.90" stroke="#2a2a2a" stroke-width="0.9"/>
<path d="M376.50,178.70V184.70M376.50,205.30V208.80M375.70,178.70H377.30" stroke="#5a5a5a" stroke-width="1.0" fill="none"/>
<rect x="375.30" y="184.70" width="2.40" height="20.60" fill="#fff" stroke="#2a2a2a" stroke-width="0.85"/>
<line x1="375.30" y1="191.50" x2="377.70" y2="191.50" stroke="#2a2a2a" stroke-width="0.9"/>
<path d="M379.80,181.70V196.00M379.80,216.30V221.80M379.00,181.70H380.60" stroke="#5a5a5a" stroke-width="1.0" fill="none"/>
<rect x="378.60" y="196.00" width="2.40" height="20.30" fill="#fff" stroke="#2a2a2a" stroke-width="0.85"/>
<line x1="378.60" y1="205.00" x2="381.00" y2="205.00" stroke="#2a2a2a" stroke-width="0.9"/>
<path d="M383.50,164.50V182.50M383.50,203.00V216.30M382.70,164.50H384.30" stroke="#5a5a5a" stroke-width="1.0" fill="none"/>
<rect x="382.30" y="182.50" width="2.40" height="20.50" fill="#fff" stroke="#2a2a2a" stroke-width="0.85"/>
<line x1="382.30" y1="195.00" x2="384.70" y2="195.00" stroke="#2a2a2a" stroke-width="0.9"/>
<path d="M387.00,163.00V182.50M387.00,203.30V211.00M386.20,163.00H387.80" stroke="#5a5a5a" stroke-width="1.0" fill="none"/>
<rect x="385.80" y="182.50" width="2.40" height="20.80" fill="#fff" stroke="#2a2a2a" stroke-width="0.85"/>
<line x1="385.80" y1="194.50" x2="388.20" y2="194.50" stroke="#2a2a2a" stroke-width="0.9"/>
<path d="M390.30,148.50V165.20M390.30,202.60V209.50M389.50,148.50H391.10" stroke="#5a5a5a" stroke-width="1.0" fill="none"/>
<rect x="389.10" y="165.20" width="2.40" height="37.40" fill="#fff" stroke="#2a2a2a" stroke-width="0.85"/>
<line x1="389.10" y1="185.00" x2="391.50" y2="185.00" stroke="#2a2a2a" stroke-width="0.9"/>
<path d="M394.20,160.70V169.70M394.20,181.70V190.00M393.40,160.70H395.00" stroke="#5a5a5a" stroke-width="1.0" fill="none"/>
<rect x="393.00" y="169.70" width="2.40" height="12.00" fill="#fff" stroke="#2a2a2a" stroke-width="0.85"/>
<line x1="393.00" y1="176.50" x2="395.40" y2="176.50" stroke="#2a2a2a" stroke-width="0.9"/>
<path d="M397.70,154.00V170.50M397.70,190.00V193.00M396.90,154.00H398.50" stroke="#5a5a5a" stroke-width="1.0" fill="none"/>
<rect x="396.50" y="170.50" width="2.40" height="19.50" fill="#fff" stroke="#2a2a2a" stroke-width="0.85"/>
<line x1="396.50" y1="184.00" x2="398.90" y2="184.00" stroke="#2a2a2a" stroke-width="0.9"/>
<path d="M401.00,170.50V176.50M401.00,199.00V202.00M400.20,170.50H401.80" stroke="#5a5a5a" stroke-width="1.0" fill="none"/>
<rect x="399.80" y="176.50" width="2.40" height="22.50" fill="#fff" stroke="#2a2a2a" stroke-width="0.85"/>
<line x1="399.80" y1="190.00" x2="402.20" y2="190.00" stroke="#2a2a2a" stroke-width="0.9"/>
<path d="M404.70,152.50V165.20M404.70,190.70V203.30M403.90,152.50H405.50" stroke="#5a5a5a" stroke-width="1.0" fill="none"/>
<rect x="403.50" y="165.20" width="2.40" height="25.50" fill="#fff" stroke="#2a2a2a" stroke-width="0.85"/>
<line x1="403.50" y1="182.50" x2="405.90" y2="182.50" stroke="#2a2a2a" stroke-width="0.9"/>
<path d="M412.50,182.80V184.50M412.50,213.00V227.50M411.70,182.80H413.30" stroke="#5a5a5a" stroke-width="1.0" fill="none"/>
<rect x="411.30" y="184.50" width="2.40" height="28.50" fill="#fff" stroke="#2a2a2a" stroke-width="0.85"/>
<line x1="411.30" y1="197.70" x2="413.70" y2="197.70" stroke="#2a2a2a" stroke-width="0.9"/>
<path d="M415.80,173.70V182.80M415.80,220.00V225.70M415.00,173.70H416.60" stroke="#5a5a5a" stroke-width="1.0" fill="none"/>
<rect x="414.60" y="182.80" width="2.40" height="37.20" fill="#fff" stroke="#2a2a2a" stroke-width="0.85"/>
<line x1="414.60" y1="210.00" x2="417.00" y2="210.00" stroke="#2a2a2a" stroke-width="0.9"/>
<path d="M419.30,176.60V180.10M419.30,210.80V233.00M418.50,176.60H420.10" stroke="#5a5a5a" stroke-width="1.0" fill="none"/>
<rect x="418.10" y="180.10" width="2.40" height="30.70" fill="#fff" stroke="#2a2a2a" stroke-width="0.85"/>
<line x1="418.10" y1="195.00" x2="420.50" y2="195.00" stroke="#2a2a2a" stroke-width="0.9"/>
<path d="M422.80,173.70V180.10M422.80,204.50V214.00M422.00,173.70H423.60" stroke="#5a5a5a" stroke-width="1.0" fill="none"/>
<rect x="421.60" y="180.10" width="2.40" height="24.40" fill="#fff" stroke="#2a2a2a" stroke-width="0.85"/>
<line x1="421.60" y1="195.00" x2="424.00" y2="195.00" stroke="#2a2a2a" stroke-width="0.9"/>
<path d="M426.00,190.00V191.50M426.00,205.00V216.00M425.20,190.00H426.80" stroke="#5a5a5a" stroke-width="1.0" fill="none"/>
<rect x="424.80" y="191.50" width="2.40" height="13.50" fill="#fff" stroke="#2a2a2a" stroke-width="0.85"/>
<line x1="424.80" y1="198.00" x2="427.20" y2="198.00" stroke="#2a2a2a" stroke-width="0.9"/>
<path d="M429.30,163.00V181.00M429.30,207.50V211.00M428.50,163.00H430.10" stroke="#5a5a5a" stroke-width="1.0" fill="none"/>
<rect x="428.10" y="181.00" width="2.40" height="26.50" fill="#fff" stroke="#2a2a2a" stroke-width="0.85"/>
<line x1="428.10" y1="195.00" x2="430.50" y2="195.00" stroke="#2a2a2a" stroke-width="0.9"/>
<path d="M433.10,170.50V179.30M433.10,205.50V223.00M432.30,170.50H433.90" stroke="#5a5a5a" stroke-width="1.0" fill="none"/>
<rect x="431.90" y="179.30" width="2.40" height="26.20" fill="#fff" stroke="#2a2a2a" stroke-width="0.85"/>
<line x1="431.90" y1="195.00" x2="434.30" y2="195.00" stroke="#2a2a2a" stroke-width="0.9"/>
<path d="M436.80,184.90V185.40M436.80,207.30V229.40M436.00,184.90H437.60" stroke="#5a5a5a" stroke-width="1.0" fill="none"/>
<rect x="435.60" y="185.40" width="2.40" height="21.90" fill="#fff" stroke="#2a2a2a" stroke-width="0.85"/>
<line x1="435.60" y1="198.50" x2="438.00" y2="198.50" stroke="#2a2a2a" stroke-width="0.9"/>
<path d="M440.30,182.40V188.00M440.30,212.00V230.60M439.50,182.40H441.10" stroke="#5a5a5a" stroke-width="1.0" fill="none"/>
<rect x="439.10" y="188.00" width="2.40" height="24.00" fill="#fff" stroke="#2a2a2a" stroke-width="0.85"/>
<line x1="439.10" y1="200.00" x2="441.50" y2="200.00" stroke="#2a2a2a" stroke-width="0.9"/>
<path d="M448.50,213.00V223.00M448.50,233.00V238.00M447.70,213.00H449.30" stroke="#5a5a5a" stroke-width="1.0" fill="none"/>
<rect x="447.30" y="223.00" width="2.40" height="10.00" fill="#fff" stroke="#2a2a2a" stroke-width="0.85"/>
<line x1="447.30" y1="229.00" x2="449.70" y2="229.00" stroke="#2a2a2a" stroke-width="0.9"/>
<path d="M452.00,206.00V213.00M452.00,227.00V234.00M451.20,206.00H452.80" stroke="#5a5a5a" stroke-width="1.0" fill="none"/>
<rect x="450.80" y="213.00" width="2.40" height="14.00" fill="#fff" stroke="#2a2a2a" stroke-width="0.85"/>
<line x1="450.80" y1="220.00" x2="453.20" y2="220.00" stroke="#2a2a2a" stroke-width="0.9"/>
<path d="M455.50,204.00V209.00M455.50,225.00V231.00M454.70,204.00H456.30" stroke="#5a5a5a" stroke-width="1.0" fill="none"/>
<rect x="454.30" y="209.00" width="2.40" height="16.00" fill="#fff" stroke="#2a2a2a" stroke-width="0.85"/>
<line x1="454.30" y1="219.00" x2="456.70" y2="219.00" stroke="#2a2a2a" stroke-width="0.9"/>
<path d="M459.00,206.00V212.00M459.00,226.00V238.00M458.20,206.00H459.80" stroke="#5a5a5a" stroke-width="1.0" fill="none"/>
<rect x="457.80" y="212.00" width="2.40" height="14.00" fill="#fff" stroke="#2a2a2a" stroke-width="0.85"/>
<line x1="457.80" y1="218.00" x2="460.20" y2="218.00" stroke="#2a2a2a" stroke-width="0.9"/>
<path d="M462.70,190.00V203.00M462.70,231.00V234.00M461.90,190.00H463.50" stroke="#5a5a5a" stroke-width="1.0" fill="none"/>
<rect x="461.50" y="203.00" width="2.40" height="28.00" fill="#fff" stroke="#2a2a2a" stroke-width="0.85"/>
<line x1="461.50" y1="216.00" x2="463.90" y2="216.00" stroke="#2a2a2a" stroke-width="0.9"/>
<path d="M466.30,179.00V187.60M466.30,221.00V228.00M465.50,179.00H467.10" stroke="#5a5a5a" stroke-width="1.0" fill="none"/>
<rect x="465.10" y="187.60" width="2.40" height="33.40" fill="#fff" stroke="#2a2a2a" stroke-width="0.85"/>
<line x1="465.10" y1="207.00" x2="467.50" y2="207.00" stroke="#2a2a2a" stroke-width="0.9"/>
<path d="M470.00,192.00V206.00M470.00,225.00V237.00M469.20,192.00H470.80" stroke="#5a5a5a" stroke-width="1.0" fill="none"/>
<rect x="468.80" y="206.00" width="2.40" height="19.00" fill="#fff" stroke="#2a2a2a" stroke-width="0.85"/>
<line x1="468.80" y1="214.00" x2="471.20" y2="214.00" stroke="#2a2a2a" stroke-width="0.9"/>
<path d="M473.30,200.00V207.00M473.30,229.00V234.00M472.50,200.00H474.10" stroke="#5a5a5a" stroke-width="1.0" fill="none"/>
<rect x="472.10" y="207.00" width="2.40" height="22.00" fill="#fff" stroke="#2a2a2a" stroke-width="0.85"/>
<line x1="472.10" y1="215.00" x2="474.50" y2="215.00" stroke="#2a2a2a" stroke-width="0.9"/>
<path d="M476.50,187.00V209.00M476.50,225.00V238.00M475.70,187.00H477.30" stroke="#5a5a5a" stroke-width="1.0" fill="none"/>
<rect x="475.30" y="209.00" width="2.40" height="16.00" fill="#fff" stroke="#2a2a2a" stroke-width="0.85"/>
<line x1="475.30" y1="215.00" x2="477.70" y2="215.00" stroke="#2a2a2a" stroke-width="0.9"/>
<path d="M484.50,223.00V230.00M484.50,243.00V245.00M483.70,223.00H485.30" stroke="#5a5a5a" stroke-width="1.0" fill="none"/>
<rect x="483.30" y="230.00" width="2.40" height="13.00" fill="#fff" stroke="#2a2a2a" stroke-width="0.85"/>
<line x1="483.30" y1="236.00" x2="485.70" y2="236.00" stroke="#2a2a2a" stroke-width="0.9"/>
<path d="M488.00,228.00V236.00M488.00,244.00V246.00M487.20,228.00H488.80" stroke="#5a5a5a" stroke-width="1.0" fill="none"/>
<rect x="486.80" y="236.00" width="2.40" height="8.00" fill="#fff" stroke="#2a2a2a" stroke-width="0.85"/>
<line x1="486.80" y1="239.00" x2="489.20" y2="239.00" stroke="#2a2a2a" stroke-width="0.9"/>
<path d="M491.50,229.00V233.00M491.50,244.00V246.00M490.70,229.00H492.30" stroke="#5a5a5a" stroke-width="1.0" fill="none"/>
<rect x="490.30" y="233.00" width="2.40" height="11.00" fill="#fff" stroke="#2a2a2a" stroke-width="0.85"/>
<line x1="490.30" y1="238.00" x2="492.70" y2="238.00" stroke="#2a2a2a" stroke-width="0.9"/>
<path d="M495.00,229.00V232.00M495.00,242.00V244.00M494.20,229.00H495.80" stroke="#5a5a5a" stroke-width="1.0" fill="none"/>
<rect x="493.80" y="232.00" width="2.40" height="10.00" fill="#fff" stroke="#2a2a2a" stroke-width="0.85"/>
<line x1="493.80" y1="237.00" x2="496.20" y2="237.00" stroke="#2a2a2a" stroke-width="0.9"/>
<path d="M498.70,210.00V224.00M498.70,240.00V242.00M497.90,210.00H499.50" stroke="#5a5a5a" stroke-width="1.0" fill="none"/>
<rect x="497.50" y="224.00" width="2.40" height="16.00" fill="#fff" stroke="#2a2a2a" stroke-width="0.85"/>
<line x1="497.50" y1="230.00" x2="499.90" y2="230.00" stroke="#2a2a2a" stroke-width="0.9"/>
<path d="M502.00,222.00V223.00M502.00,237.00V241.00M501.20,222.00H502.80" stroke="#5a5a5a" stroke-width="1.0" fill="none"/>
<rect x="500.80" y="223.00" width="2.40" height="14.00" fill="#fff" stroke="#2a2a2a" stroke-width="0.85"/>
<line x1="500.80" y1="230.00" x2="503.20" y2="230.00" stroke="#2a2a2a" stroke-width="0.9"/>
<path d="M506.00,229.00V235.00M506.00,241.00V243.00M505.20,229.00H506.80" stroke="#5a5a5a" stroke-width="1.0" fill="none"/>
<rect x="504.80" y="235.00" width="2.40" height="6.00" fill="#fff" stroke="#2a2a2a" stroke-width="0.85"/>
<line x1="504.80" y1="238.00" x2="507.20" y2="238.00" stroke="#2a2a2a" stroke-width="0.9"/>
<path d="M509.30,217.00V223.00M509.30,234.00V241.00M508.50,217.00H510.10" stroke="#5a5a5a" stroke-width="1.0" fill="none"/>
<rect x="508.10" y="223.00" width="2.40" height="11.00" fill="#fff" stroke="#2a2a2a" stroke-width="0.85"/>
<line x1="508.10" y1="230.00" x2="510.50" y2="230.00" stroke="#2a2a2a" stroke-width="0.9"/>
<path d="M512.50,212.00V218.00M512.50,235.00V242.00M511.70,212.00H513.30" stroke="#5a5a5a" stroke-width="1.0" fill="none"/>
<rect x="511.30" y="218.00" width="2.40" height="17.00" fill="#fff" stroke="#2a2a2a" stroke-width="0.85"/>
<line x1="511.30" y1="226.00" x2="513.70" y2="226.00" stroke="#2a2a2a" stroke-width="0.9"/>
<path d="M374.90,287.50V290.50M374.90,312.20V327.00M374.10,287.50H375.70" stroke="#5a5a5a" stroke-width="1.0" fill="none"/>
<rect x="373.70" y="290.50" width="2.40" height="21.70" fill="#fff" stroke="#2a2a2a" stroke-width="0.85"/>
<line x1="373.70" y1="307.70" x2="376.10" y2="307.70" stroke="#2a2a2a" stroke-width="0.9"/>
<path d="M378.50,301.20V308.30M378.50,335.00V341.80M377.70,301.20H379.30" stroke="#5a5a5a" stroke-width="1.0" fill="none"/>
<rect x="377.30" y="308.30" width="2.40" height="26.70" fill="#fff" stroke="#2a2a2a" stroke-width="0.85"/>
<line x1="377.30" y1="320.00" x2="379.70" y2="320.00" stroke="#2a2a2a" stroke-width="0.9"/>
<path d="M382.40,293.40V309.00M382.40,333.00V336.00M381.60,293.40H383.20" stroke="#5a5a5a" stroke-width="1.0" fill="none"/>
<rect x="381.20" y="309.00" width="2.40" height="24.00" fill="#fff" stroke="#2a2a2a" stroke-width="0.85"/>
<line x1="381.20" y1="322.00" x2="383.60" y2="322.00" stroke="#2a2a2a" stroke-width="0.9"/>
<path d="M385.30,294.00V301.20M385.30,333.60V337.00M384.50,294.00H386.10" stroke="#5a5a5a" stroke-width="1.0" fill="none"/>
<rect x="384.10" y="301.20" width="2.40" height="32.40" fill="#fff" stroke="#2a2a2a" stroke-width="0.85"/>
<line x1="384.10" y1="318.00" x2="386.50" y2="318.00" stroke="#2a2a2a" stroke-width="0.9"/>
<path d="M388.90,286.20V304.40M388.90,341.80V346.50M388.10,286.20H389.70" stroke="#5a5a5a" stroke-width="1.0" fill="none"/>
<rect x="387.70" y="304.40" width="2.40" height="37.40" fill="#fff" stroke="#2a2a2a" stroke-width="0.85"/>
<line x1="387.70" y1="325.00" x2="390.10" y2="325.00" stroke="#2a2a2a" stroke-width="0.9"/>
<path d="M392.70,283.60V287.50M392.70,324.90V334.00M391.90,283.60H393.50" stroke="#5a5a5a" stroke-width="1.0" fill="none"/>
<rect x="391.50" y="287.50" width="2.40" height="37.40" fill="#fff" stroke="#2a2a2a" stroke-width="0.85"/>
<line x1="391.50" y1="305.00" x2="393.90" y2="305.00" stroke="#2a2a2a" stroke-width="0.9"/>
<path d="M395.70,300.50V304.40M395.70,326.20V334.00M394.90,300.50H396.50" stroke="#5a5a5a" stroke-width="1.0" fill="none"/>
<rect x="394.50" y="304.40" width="2.40" height="21.80" fill="#fff" stroke="#2a2a2a" stroke-width="0.85"/>
<line x1="394.50" y1="315.00" x2="396.90" y2="315.00" stroke="#2a2a2a" stroke-width="0.9"/>
<path d="M399.30,290.00V307.70M399.30,325.00V348.50M398.50,290.00H400.10" stroke="#5a5a5a" stroke-width="1.0" fill="none"/>
<rect x="398.10" y="307.70" width="2.40" height="17.30" fill="#fff" stroke="#2a2a2a" stroke-width="0.85"/>
<line x1="398.10" y1="321.00" x2="400.50" y2="321.00" stroke="#2a2a2a" stroke-width="0.9"/>
<path d="M403.00,296.00V308.30M403.00,324.90V344.50M402.20,296.00H403.80" stroke="#5a5a5a" stroke-width="1.0" fill="none"/>
<rect x="401.80" y="308.30" width="2.40" height="16.60" fill="#fff" stroke="#2a2a2a" stroke-width="0.85"/>
<line x1="401.80" y1="318.00" x2="404.20" y2="318.00" stroke="#2a2a2a" stroke-width="0.9"/>
<path d="M411.70,314.30V318.70M411.70,342.70V354.80M410.90,314.30H412.50" stroke="#5a5a5a" stroke-width="1.0" fill="none"/>
<rect x="410.50" y="318.70" width="2.40" height="24.00" fill="#fff" stroke="#2a2a2a" stroke-width="0.85"/>
<line x1="410.50" y1="330.00" x2="412.90" y2="330.00" stroke="#2a2a2a" stroke-width="0.9"/>
<path d="M415.00,295.00V310.50M415.00,348.50V352.50M414.20,295.00H415.80" stroke="#5a5a5a" stroke-width="1.0" fill="none"/>
<rect x="413.80" y="310.50" width="2.40" height="38.00" fill="#fff" stroke="#2a2a2a" stroke-width="0.85"/>
<line x1="413.80" y1="330.00" x2="416.20" y2="330.00" stroke="#2a2a2a" stroke-width="0.9"/>
<path d="M418.50,300.60V311.60M418.50,341.60V360.00M417.70,300.60H419.30" stroke="#5a5a5a" stroke-width="1.0" fill="none"/>
<rect x="417.30" y="311.60" width="2.40" height="30.00" fill="#fff" stroke="#2a2a2a" stroke-width="0.85"/>
<line x1="417.30" y1="328.00" x2="419.70" y2="328.00" stroke="#2a2a2a" stroke-width="0.9"/>
<path d="M422.00,287.90V303.30M422.00,333.00V353.00M421.20,287.90H422.80" stroke="#5a5a5a" stroke-width="1.0" fill="none"/>
<rect x="420.80" y="303.30" width="2.40" height="29.70" fill="#fff" stroke="#2a2a2a" stroke-width="0.85"/>
<line x1="420.80" y1="322.00" x2="423.20" y2="322.00" stroke="#2a2a2a" stroke-width="0.9"/>
<path d="M425.40,302.80V303.90M425.40,335.20V342.00M424.60,302.80H426.20" stroke="#5a5a5a" stroke-width="1.0" fill="none"/>
<rect x="424.20" y="303.90" width="2.40" height="31.30" fill="#fff" stroke="#2a2a2a" stroke-width="0.85"/>
<line x1="424.20" y1="329.00" x2="426.60" y2="329.00" stroke="#2a2a2a" stroke-width="0.9"/>
<path d="M429.00,286.30V298.90M429.00,336.40V341.00M428.20,286.30H429.80" stroke="#5a5a5a" stroke-width="1.0" fill="none"/>
<rect x="427.80" y="298.90" width="2.40" height="37.50" fill="#fff" stroke="#2a2a2a" stroke-width="0.85"/>
<line x1="427.80" y1="322.00" x2="430.20" y2="322.00" stroke="#2a2a2a" stroke-width="0.9"/>
<path d="M432.50,294.50V303.30M432.50,333.00V353.60M431.70,294.50H433.30" stroke="#5a5a5a" stroke-width="1.0" fill="none"/>
<rect x="431.30" y="303.30" width="2.40" height="29.70" fill="#fff" stroke="#2a2a2a" stroke-width="0.85"/>
<line x1="431.30" y1="318.00" x2="433.70" y2="318.00" stroke="#2a2a2a" stroke-width="0.9"/>
<path d="M436.10,297.30V308.30M436.10,336.40V351.90M435.30,297.30H436.90" stroke="#5a5a5a" stroke-width="1.0" fill="none"/>
<rect x="434.90" y="308.30" width="2.40" height="28.10" fill="#fff" stroke="#2a2a2a" stroke-width="0.85"/>
<line x1="434.90" y1="326.00" x2="437.30" y2="326.00" stroke="#2a2a2a" stroke-width="0.9"/>
<path d="M439.70,303.30V305.50M439.70,348.50V361.00M438.90,303.30H440.50" stroke="#5a5a5a" stroke-width="1.0" fill="none"/>
<rect x="438.50" y="305.50" width="2.40" height="43.00" fill="#fff" stroke="#2a2a2a" stroke-width="0.85"/>
<line x1="438.50" y1="326.00" x2="440.90" y2="326.00" stroke="#2a2a2a" stroke-width="0.9"/>
<path d="M447.30,333.50V343.70M447.30,355.70V359.40M446.50,333.50H448.10" stroke="#5a5a5a" stroke-width="1.0" fill="none"/>
<rect x="446.10" y="343.70" width="2.40" height="12.00" fill="#fff" stroke="#2a2a2a" stroke-width="0.85"/>
<line x1="446.10" y1="349.30" x2="448.50" y2="349.30" stroke="#2a2a2a" stroke-width="0.9"/>
<path d="M451.00,323.30V342.80M451.00,353.00V359.40M450.20,323.30H451.80" stroke="#5a5a5a" stroke-width="1.0" fill="none"/>
<rect x="449.80" y="342.80" width="2.40" height="10.20" fill="#fff" stroke="#2a2a2a" stroke-width="0.85"/>
<line x1="449.80" y1="348.30" x2="452.20" y2="348.30" stroke="#2a2a2a" stroke-width="0.9"/>
<path d="M454.60,328.90V340.00M454.60,352.00V356.70M453.80,328.90H455.40" stroke="#5a5a5a" stroke-width="1.0" fill="none"/>
<rect x="453.40" y="340.00" width="2.40" height="12.00" fill="#fff" stroke="#2a2a2a" stroke-width="0.85"/>
<line x1="453.40" y1="345.60" x2="455.80" y2="345.60" stroke="#2a2a2a" stroke-width="0.9"/>
<path d="M458.30,333.50V339.00M458.30,353.00V358.50M457.50,333.50H459.10" stroke="#5a5a5a" stroke-width="1.0" fill="none"/>
<rect x="457.10" y="339.00" width="2.40" height="14.00" fill="#fff" stroke="#2a2a2a" stroke-width="0.85"/>
<line x1="457.10" y1="347.40" x2="459.50" y2="347.40" stroke="#2a2a2a" stroke-width="0.9"/>
<path d="M461.50,330.70V340.00M461.50,353.00V358.50M460.70,330.70H462.30" stroke="#5a5a5a" stroke-width="1.0" fill="none"/>
<rect x="460.30" y="340.00" width="2.40" height="13.00" fill="#fff" stroke="#2a2a2a" stroke-width="0.85"/>
<line x1="460.30" y1="345.60" x2="462.70" y2="345.60" stroke="#2a2a2a" stroke-width="0.9"/>
<path d="M465.20,314.00V326.10M465.20,347.40V353.00M464.40,314.00H466.00" stroke="#5a5a5a" stroke-width="1.0" fill="none"/>
<rect x="464.00" y="326.10" width="2.40" height="21.30" fill="#fff" stroke="#2a2a2a" stroke-width="0.85"/>
<line x1="464.00" y1="340.00" x2="466.40" y2="340.00" stroke="#2a2a2a" stroke-width="0.9"/>
<path d="M468.90,320.60V332.60M468.90,351.10V359.40M468.10,320.60H469.70" stroke="#5a5a5a" stroke-width="1.0" fill="none"/>
<rect x="467.70" y="332.60" width="2.40" height="18.50" fill="#fff" stroke="#2a2a2a" stroke-width="0.85"/>
<line x1="467.70" y1="343.70" x2="470.10" y2="343.70" stroke="#2a2a2a" stroke-width="0.9"/>
<path d="M472.40,327.00V338.10M472.40,354.80V360.40M471.60,327.00H473.20" stroke="#5a5a5a" stroke-width="1.0" fill="none"/>
<rect x="471.20" y="338.10" width="2.40" height="16.70" fill="#fff" stroke="#2a2a2a" stroke-width="0.85"/>
<line x1="471.20" y1="345.60" x2="473.60" y2="345.60" stroke="#2a2a2a" stroke-width="0.9"/>
<path d="M476.10,317.80V340.00M476.10,353.90V361.30M475.30,317.80H476.90" stroke="#5a5a5a" stroke-width="1.0" fill="none"/>
<rect x="474.90" y="340.00" width="2.40" height="13.90" fill="#fff" stroke="#2a2a2a" stroke-width="0.85"/>
<line x1="474.90" y1="349.30" x2="477.30" y2="349.30" stroke="#2a2a2a" stroke-width="0.9"/>
<path d="M483.20,348.00V349.60M483.20,361.60V362.50M482.40,348.00H484.00" stroke="#5a5a5a" stroke-width="1.0" fill="none"/>
<rect x="482.00" y="349.60" width="2.40" height="12.00" fill="#fff" stroke="#2a2a2a" stroke-width="0.85"/>
<line x1="482.00" y1="354.40" x2="484.40" y2="354.40" stroke="#2a2a2a" stroke-width="0.9"/>
<path d="M487.00,346.40V351.20M487.00,361.60V362.50M486.20,346.40H487.80" stroke="#5a5a5a" stroke-width="1.0" fill="none"/>
<rect x="485.80" y="351.20" width="2.40" height="10.40" fill="#fff" stroke="#2a2a2a" stroke-width="0.85"/>
<line x1="485.80" y1="356.00" x2="488.20" y2="356.00" stroke="#2a2a2a" stroke-width="0.9"/>
<path d="M490.50,350.40V354.40M490.50,361.60V362.50M489.70,350.40H491.30" stroke="#5a5a5a" stroke-width="1.0" fill="none"/>
<rect x="489.30" y="354.40" width="2.40" height="7.20" fill="#fff" stroke="#2a2a2a" stroke-width="0.85"/>
<line x1="489.30" y1="357.60" x2="491.70" y2="357.60" stroke="#2a2a2a" stroke-width="0.9"/>
<path d="M494.00,353.60V356.80M494.00,361.60V362.50M493.20,353.60H494.80" stroke="#5a5a5a" stroke-width="1.0" fill="none"/>
<rect x="492.80" y="356.80" width="2.40" height="4.80" fill="#fff" stroke="#2a2a2a" stroke-width="0.85"/>
<line x1="492.80" y1="359.20" x2="495.20" y2="359.20" stroke="#2a2a2a" stroke-width="0.9"/>
<path d="M497.80,348.00V356.00M497.80,361.60V362.50M497.00,348.00H498.60" stroke="#5a5a5a" stroke-width="1.0" fill="none"/>
<rect x="496.60" y="356.00" width="2.40" height="5.60" fill="#fff" stroke="#2a2a2a" stroke-width="0.85"/>
<line x1="496.60" y1="358.40" x2="499.00" y2="358.40" stroke="#2a2a2a" stroke-width="0.9"/>
<path d="M501.30,353.60V356.00M501.30,361.60V362.50M500.50,353.60H502.10" stroke="#5a5a5a" stroke-width="1.0" fill="none"/>
<rect x="500.10" y="356.00" width="2.40" height="5.60" fill="#fff" stroke="#2a2a2a" stroke-width="0.85"/>
<line x1="500.10" y1="358.90" x2="502.50" y2="358.90" stroke="#2a2a2a" stroke-width="0.9"/>
<path d="M505.00,353.60V356.00M505.00,361.60V362.50M504.20,353.60H505.80" stroke="#5a5a5a" stroke-width="1.0" fill="none"/>
<rect x="503.80" y="356.00" width="2.40" height="5.60" fill="#fff" stroke="#2a2a2a" stroke-width="0.85"/>
<line x1="503.80" y1="358.90" x2="506.20" y2="358.90" stroke="#2a2a2a" stroke-width="0.9"/>
<path d="M508.50,355.20V356.80M508.50,361.60V362.50M507.70,355.20H509.30" stroke="#5a5a5a" stroke-width="1.0" fill="none"/>
<rect x="507.30" y="356.80" width="2.40" height="4.80" fill="#fff" stroke="#2a2a2a" stroke-width="0.85"/>
<line x1="507.30" y1="359.20" x2="509.70" y2="359.20" stroke="#2a2a2a" stroke-width="0.9"/>
<path d="M512.00,347.20V355.20M512.00,361.60V362.50M511.20,347.20H512.80" stroke="#5a5a5a" stroke-width="1.0" fill="none"/>
<rect x="510.80" y="355.20" width="2.40" height="6.40" fill="#fff" stroke="#2a2a2a" stroke-width="0.85"/>
<line x1="510.80" y1="358.40" x2="513.20" y2="358.40" stroke="#2a2a2a" stroke-width="0.9"/>
<line x1="392.5" y1="31.3" x2="392.5" y2="129.6" stroke="#555" stroke-width="1.1"/>
<circle cx="41.80" cy="83.00" r="1.65" fill="#111"/>
<circle cx="59.30" cy="79.50" r="1.65" fill="#111"/>
<circle cx="55.80" cy="86.00" r="1.65" fill="#111"/>
<circle cx="66.20" cy="84.20" r="1.65" fill="#111"/>
<circle cx="55.80" cy="92.10" r="1.65" fill="#111"/>
<circle cx="38.30" cy="102.80" r="1.65" fill="#111"/>
<circle cx="45.10" cy="101.60" r="1.65" fill="#111"/>
<circle cx="52.30" cy="107.80" r="1.65" fill="#111"/>
<circle cx="49.00" cy="115.00" r="1.65" fill="#111"/>
<circle cx="63.10" cy="112.70" r="1.65" fill="#111"/>
<circle cx="49.00" cy="120.30" r="1.65" fill="#111"/>
<circle cx="74.20" cy="62.30" r="1.65" fill="#111"/>
<circle cx="77.80" cy="63.60" r="1.65" fill="#111"/>
<circle cx="81.00" cy="79.20" r="1.65" fill="#111"/>
<circle cx="85.10" cy="92.00" r="1.65" fill="#111"/>
<circle cx="87.80" cy="96.40" r="1.65" fill="#111"/>
<circle cx="91.70" cy="69.20" r="1.65" fill="#111"/>
<circle cx="95.20" cy="67.50" r="1.65" fill="#111"/>
<circle cx="92.20" cy="74.20" r="1.65" fill="#111"/>
<circle cx="98.40" cy="107.60" r="1.65" fill="#111"/>
<circle cx="102.50" cy="105.80" r="1.65" fill="#111"/>
<circle cx="74.40" cy="121.30" r="1.65" fill="#111"/>
<circle cx="77.60" cy="121.30" r="1.65" fill="#111"/>
<circle cx="81.30" cy="124.20" r="1.65" fill="#111"/>
<circle cx="84.60" cy="126.80" r="1.65" fill="#111"/>
<circle cx="91.80" cy="125.40" r="1.65" fill="#111"/>
<circle cx="95.00" cy="125.40" r="1.65" fill="#111"/>
<circle cx="99.30" cy="125.60" r="1.65" fill="#111"/>
<circle cx="102.40" cy="120.00" r="1.65" fill="#111"/>
<circle cx="110.40" cy="108.00" r="1.65" fill="#111"/>
<circle cx="117.50" cy="88.10" r="1.65" fill="#111"/>
<circle cx="114.00" cy="112.00" r="1.65" fill="#111"/>
<circle cx="120.60" cy="108.80" r="1.65" fill="#111"/>
<circle cx="127.80" cy="91.10" r="1.65" fill="#111"/>
<circle cx="131.40" cy="101.70" r="1.65" fill="#111"/>
<circle cx="127.80" cy="109.70" r="1.65" fill="#111"/>
<circle cx="138.50" cy="75.60" r="1.65" fill="#111"/>
<circle cx="135.30" cy="113.30" r="1.65" fill="#111"/>
<circle cx="121.10" cy="116.50" r="1.65" fill="#111"/>
<circle cx="124.30" cy="117.20" r="1.65" fill="#111"/>
<circle cx="145.90" cy="110.30" r="1.65" fill="#111"/>
<circle cx="150.30" cy="93.40" r="1.65" fill="#111"/>
<circle cx="153.50" cy="110.30" r="1.65" fill="#111"/>
<circle cx="157.10" cy="116.00" r="1.65" fill="#111"/>
<circle cx="160.70" cy="119.10" r="1.65" fill="#111"/>
<circle cx="163.80" cy="112.40" r="1.65" fill="#111"/>
<circle cx="167.40" cy="70.30" r="1.65" fill="#111"/>
<circle cx="171.00" cy="108.30" r="1.65" fill="#111"/>
<circle cx="174.30" cy="97.80" r="1.65" fill="#111"/>
<circle cx="52.50" cy="167.40" r="1.65" fill="#111"/>
<circle cx="59.50" cy="160.30" r="1.65" fill="#111"/>
<circle cx="66.50" cy="158.00" r="1.65" fill="#111"/>
<circle cx="41.80" cy="200.90" r="1.65" fill="#111"/>
<circle cx="49.00" cy="206.10" r="1.65" fill="#111"/>
<circle cx="45.40" cy="215.10" r="1.65" fill="#111"/>
<circle cx="49.00" cy="211.80" r="1.65" fill="#111"/>
<circle cx="56.00" cy="198.80" r="1.65" fill="#111"/>
<circle cx="63.00" cy="212.60" r="1.65" fill="#111"/>
<circle cx="38.60" cy="226.50" r="1.65" fill="#111"/>
<circle cx="42.10" cy="241.10" r="1.65" fill="#111"/>
<circle cx="45.00" cy="242.70" r="1.65" fill="#111"/>
<circle cx="49.00" cy="241.90" r="1.65" fill="#111"/>
<circle cx="51.00" cy="241.10" r="1.65" fill="#111"/>
<circle cx="56.40" cy="235.40" r="1.65" fill="#111"/>
<circle cx="59.70" cy="233.80" r="1.65" fill="#111"/>
<circle cx="66.50" cy="236.70" r="1.65" fill="#111"/>
<circle cx="74.60" cy="212.60" r="1.65" fill="#111"/>
<circle cx="74.60" cy="226.00" r="1.65" fill="#111"/>
<circle cx="77.80" cy="228.60" r="1.65" fill="#111"/>
<circle cx="81.10" cy="223.70" r="1.65" fill="#111"/>
<circle cx="84.60" cy="222.40" r="1.65" fill="#111"/>
<circle cx="88.20" cy="218.30" r="1.65" fill="#111"/>
<circle cx="91.60" cy="224.30" r="1.65" fill="#111"/>
<circle cx="95.20" cy="208.10" r="1.65" fill="#111"/>
<circle cx="99.30" cy="220.00" r="1.65" fill="#111"/>
<circle cx="102.50" cy="213.90" r="1.65" fill="#111"/>
<circle cx="74.60" cy="242.70" r="1.65" fill="#111"/>
<circle cx="77.80" cy="242.70" r="1.65" fill="#111"/>
<circle cx="81.00" cy="243.20" r="1.65" fill="#111"/>
<circle cx="85.00" cy="242.70" r="1.65" fill="#111"/>
<circle cx="88.20" cy="242.20" r="1.65" fill="#111"/>
<circle cx="92.00" cy="243.90" r="1.65" fill="#111"/>
<circle cx="95.70" cy="240.30" r="1.65" fill="#111"/>
<circle cx="99.30" cy="243.20" r="1.65" fill="#111"/>
<circle cx="102.50" cy="242.20" r="1.65" fill="#111"/>
<circle cx="110.60" cy="234.10" r="1.65" fill="#111"/>
<circle cx="110.60" cy="239.50" r="1.65" fill="#111"/>
<circle cx="113.80" cy="222.40" r="1.65" fill="#111"/>
<circle cx="117.70" cy="237.40" r="1.65" fill="#111"/>
<circle cx="120.60" cy="234.60" r="1.65" fill="#111"/>
<circle cx="121.00" cy="240.60" r="1.65" fill="#111"/>
<circle cx="124.20" cy="215.90" r="1.65" fill="#111"/>
<circle cx="128.00" cy="219.10" r="1.65" fill="#111"/>
<circle cx="128.00" cy="230.50" r="1.65" fill="#111"/>
<circle cx="131.20" cy="204.50" r="1.65" fill="#111"/>
<circle cx="135.30" cy="229.20" r="1.65" fill="#111"/>
<circle cx="138.50" cy="192.30" r="1.65" fill="#111"/>
<circle cx="146.10" cy="237.80" r="1.65" fill="#111"/>
<circle cx="149.80" cy="238.30" r="1.65" fill="#111"/>
<circle cx="153.00" cy="237.80" r="1.65" fill="#111"/>
<circle cx="157.00" cy="237.80" r="1.65" fill="#111"/>
<circle cx="160.70" cy="215.60" r="1.65" fill="#111"/>
<circle cx="164.00" cy="219.10" r="1.65" fill="#111"/>
<circle cx="164.00" cy="229.20" r="1.65" fill="#111"/>
<circle cx="167.50" cy="211.30" r="1.65" fill="#111"/>
<circle cx="171.30" cy="228.10" r="1.65" fill="#111"/>
<circle cx="174.50" cy="189.10" r="1.65" fill="#111"/>
<circle cx="174.50" cy="244.30" r="1.65" fill="#111"/>
<circle cx="149.30" cy="246.30" r="1.65" fill="#111"/>
<circle cx="153.40" cy="246.30" r="1.65" fill="#111"/>
<circle cx="157.40" cy="246.00" r="1.65" fill="#111"/>
<circle cx="160.70" cy="246.00" r="1.65" fill="#111"/>
<circle cx="164.00" cy="246.30" r="1.65" fill="#111"/>
<circle cx="167.20" cy="246.30" r="1.65" fill="#111"/>
<circle cx="171.30" cy="246.50" r="1.65" fill="#111"/>
<circle cx="38.40" cy="324.90" r="1.65" fill="#111"/>
<circle cx="41.90" cy="327.10" r="1.65" fill="#111"/>
<circle cx="38.40" cy="332.80" r="1.65" fill="#111"/>
<circle cx="45.30" cy="353.50" r="1.65" fill="#111"/>
<circle cx="49.00" cy="341.30" r="1.65" fill="#111"/>
<circle cx="49.00" cy="347.60" r="1.65" fill="#111"/>
<circle cx="56.00" cy="336.20" r="1.65" fill="#111"/>
<circle cx="56.00" cy="347.20" r="1.65" fill="#111"/>
<circle cx="59.50" cy="350.70" r="1.65" fill="#111"/>
<circle cx="63.10" cy="353.50" r="1.65" fill="#111"/>
<circle cx="52.60" cy="269.60" r="1.65" fill="#111"/>
<circle cx="66.50" cy="270.80" r="1.65" fill="#111"/>
<circle cx="89.20" cy="311.00" r="1.65" fill="#111"/>
<circle cx="75.00" cy="351.20" r="1.65" fill="#111"/>
<circle cx="78.70" cy="350.10" r="1.65" fill="#111"/>
<circle cx="81.80" cy="353.50" r="1.65" fill="#111"/>
<circle cx="85.40" cy="350.40" r="1.65" fill="#111"/>
<circle cx="92.80" cy="350.10" r="1.65" fill="#111"/>
<circle cx="96.00" cy="353.50" r="1.65" fill="#111"/>
<circle cx="99.90" cy="353.50" r="1.65" fill="#111"/>
<circle cx="103.10" cy="347.60" r="1.65" fill="#111"/>
<circle cx="118.30" cy="315.40" r="1.65" fill="#111"/>
<circle cx="111.50" cy="341.70" r="1.65" fill="#111"/>
<circle cx="111.50" cy="350.10" r="1.65" fill="#111"/>
<circle cx="115.10" cy="354.30" r="1.65" fill="#111"/>
<circle cx="121.70" cy="355.10" r="1.65" fill="#111"/>
<circle cx="125.20" cy="333.40" r="1.65" fill="#111"/>
<circle cx="129.30" cy="355.40" r="1.65" fill="#111"/>
<circle cx="132.50" cy="341.00" r="1.65" fill="#111"/>
<circle cx="136.20" cy="336.20" r="1.65" fill="#111"/>
<circle cx="139.40" cy="346.00" r="1.65" fill="#111"/>
<circle cx="148.00" cy="333.50" r="1.65" fill="#111"/>
<circle cx="148.00" cy="350.40" r="1.65" fill="#111"/>
<circle cx="151.40" cy="351.70" r="1.65" fill="#111"/>
<circle cx="158.50" cy="344.10" r="1.65" fill="#111"/>
<circle cx="158.50" cy="352.30" r="1.65" fill="#111"/>
<circle cx="161.70" cy="350.40" r="1.65" fill="#111"/>
<circle cx="165.60" cy="352.80" r="1.65" fill="#111"/>
<circle cx="169.10" cy="334.60" r="1.65" fill="#111"/>
<circle cx="176.30" cy="356.70" r="1.65" fill="#111"/>
<circle cx="206.50" cy="51.30" r="1.65" fill="#111"/>
<circle cx="213.00" cy="43.80" r="1.65" fill="#111"/>
<circle cx="219.90" cy="40.30" r="1.65" fill="#111"/>
<circle cx="219.90" cy="47.10" r="1.65" fill="#111"/>
<circle cx="209.90" cy="69.00" r="1.65" fill="#111"/>
<circle cx="216.80" cy="64.40" r="1.65" fill="#111"/>
<circle cx="216.80" cy="70.00" r="1.65" fill="#111"/>
<circle cx="223.60" cy="61.90" r="1.65" fill="#111"/>
<circle cx="227.00" cy="64.00" r="1.65" fill="#111"/>
<circle cx="230.50" cy="68.10" r="1.65" fill="#111"/>
<circle cx="234.50" cy="70.00" r="1.65" fill="#111"/>
<circle cx="223.60" cy="75.30" r="1.65" fill="#111"/>
<circle cx="206.10" cy="116.50" r="1.65" fill="#111"/>
<circle cx="216.50" cy="110.00" r="1.65" fill="#111"/>
<circle cx="216.50" cy="116.30" r="1.65" fill="#111"/>
<circle cx="219.90" cy="114.80" r="1.65" fill="#111"/>
<circle cx="223.00" cy="113.50" r="1.65" fill="#111"/>
<circle cx="223.60" cy="121.30" r="1.65" fill="#111"/>
<circle cx="230.50" cy="119.40" r="1.65" fill="#111"/>
<circle cx="234.30" cy="109.00" r="1.65" fill="#111"/>
<circle cx="241.80" cy="61.00" r="1.65" fill="#111"/>
<circle cx="245.60" cy="82.20" r="1.65" fill="#111"/>
<circle cx="249.30" cy="88.80" r="1.65" fill="#111"/>
<circle cx="252.50" cy="79.00" r="1.65" fill="#111"/>
<circle cx="252.50" cy="81.60" r="1.65" fill="#111"/>
<circle cx="256.30" cy="77.10" r="1.65" fill="#111"/>
<circle cx="259.60" cy="68.10" r="1.65" fill="#111"/>
<circle cx="263.00" cy="71.50" r="1.65" fill="#111"/>
<circle cx="266.80" cy="73.20" r="1.65" fill="#111"/>
<circle cx="270.00" cy="72.80" r="1.65" fill="#111"/>
<circle cx="241.80" cy="113.20" r="1.65" fill="#111"/>
<circle cx="245.60" cy="110.90" r="1.65" fill="#111"/>
<circle cx="249.30" cy="110.90" r="1.65" fill="#111"/>
<circle cx="252.50" cy="113.20" r="1.65" fill="#111"/>
<circle cx="252.50" cy="116.50" r="1.65" fill="#111"/>
<circle cx="256.30" cy="114.10" r="1.65" fill="#111"/>
<circle cx="256.30" cy="117.30" r="1.65" fill="#111"/>
<circle cx="259.60" cy="109.40" r="1.65" fill="#111"/>
<circle cx="259.60" cy="114.10" r="1.65" fill="#111"/>
<circle cx="263.00" cy="106.60" r="1.65" fill="#111"/>
<circle cx="267.10" cy="120.70" r="1.65" fill="#111"/>
<circle cx="270.00" cy="108.50" r="1.65" fill="#111"/>
<circle cx="277.80" cy="97.80" r="1.65" fill="#111"/>
<circle cx="281.60" cy="93.50" r="1.65" fill="#111"/>
<circle cx="285.30" cy="94.80" r="1.65" fill="#111"/>
<circle cx="288.50" cy="77.10" r="1.65" fill="#111"/>
<circle cx="288.50" cy="85.00" r="1.65" fill="#111"/>
<circle cx="292.30" cy="74.70" r="1.65" fill="#111"/>
<circle cx="292.30" cy="79.00" r="1.65" fill="#111"/>
<circle cx="295.60" cy="78.50" r="1.65" fill="#111"/>
<circle cx="295.60" cy="84.10" r="1.65" fill="#111"/>
<circle cx="299.00" cy="89.70" r="1.65" fill="#111"/>
<circle cx="303.10" cy="70.00" r="1.65" fill="#111"/>
<circle cx="306.00" cy="77.10" r="1.65" fill="#111"/>
<circle cx="277.80" cy="121.00" r="1.65" fill="#111"/>
<circle cx="281.60" cy="118.80" r="1.65" fill="#111"/>
<circle cx="292.30" cy="118.80" r="1.65" fill="#111"/>
<circle cx="295.60" cy="120.30" r="1.65" fill="#111"/>
<circle cx="299.00" cy="124.00" r="1.65" fill="#111"/>
<circle cx="302.80" cy="117.90" r="1.65" fill="#111"/>
<circle cx="306.00" cy="110.90" r="1.65" fill="#111"/>
<circle cx="313.80" cy="74.70" r="1.65" fill="#111"/>
<circle cx="318.10" cy="78.50" r="1.65" fill="#111"/>
<circle cx="324.50" cy="86.00" r="1.65" fill="#111"/>
<circle cx="324.50" cy="91.60" r="1.65" fill="#111"/>
<circle cx="328.30" cy="73.40" r="1.65" fill="#111"/>
<circle cx="331.60" cy="84.60" r="1.65" fill="#111"/>
<circle cx="331.60" cy="93.50" r="1.65" fill="#111"/>
<circle cx="335.00" cy="93.50" r="1.65" fill="#111"/>
<circle cx="339.10" cy="58.40" r="1.65" fill="#111"/>
<circle cx="342.00" cy="82.80" r="1.65" fill="#111"/>
<circle cx="313.80" cy="110.90" r="1.65" fill="#111"/>
<circle cx="317.60" cy="116.90" r="1.65" fill="#111"/>
<circle cx="321.30" cy="118.80" r="1.65" fill="#111"/>
<circle cx="324.50" cy="121.60" r="1.65" fill="#111"/>
<circle cx="328.30" cy="122.90" r="1.65" fill="#111"/>
<circle cx="331.60" cy="122.90" r="1.65" fill="#111"/>
<circle cx="335.00" cy="120.70" r="1.65" fill="#111"/>
<circle cx="338.80" cy="120.30" r="1.65" fill="#111"/>
<circle cx="342.00" cy="116.90" r="1.65" fill="#111"/>
<circle cx="231.40" cy="173.00" r="1.65" fill="#111"/>
<circle cx="221.40" cy="186.40" r="1.65" fill="#111"/>
<circle cx="228.60" cy="185.00" r="1.65" fill="#111"/>
<circle cx="235.40" cy="190.40" r="1.65" fill="#111"/>
<circle cx="207.40" cy="191.60" r="1.65" fill="#111"/>
<circle cx="218.00" cy="203.00" r="1.65" fill="#111"/>
<circle cx="211.00" cy="209.60" r="1.65" fill="#111"/>
<circle cx="225.00" cy="196.00" r="1.65" fill="#111"/>
<circle cx="207.40" cy="228.40" r="1.65" fill="#111"/>
<circle cx="217.40" cy="229.60" r="1.65" fill="#111"/>
<circle cx="225.00" cy="233.00" r="1.65" fill="#111"/>
<circle cx="225.00" cy="238.40" r="1.65" fill="#111"/>
<circle cx="228.60" cy="239.60" r="1.65" fill="#111"/>
<circle cx="232.00" cy="243.00" r="1.65" fill="#111"/>
<circle cx="268.00" cy="182.00" r="1.65" fill="#111"/>
<circle cx="243.40" cy="221.00" r="1.65" fill="#111"/>
<circle cx="246.60" cy="224.00" r="1.65" fill="#111"/>
<circle cx="250.00" cy="226.40" r="1.65" fill="#111"/>
<circle cx="253.40" cy="218.40" r="1.65" fill="#111"/>
<circle cx="257.40" cy="223.00" r="1.65" fill="#111"/>
<circle cx="261.00" cy="221.60" r="1.65" fill="#111"/>
<circle cx="264.60" cy="215.00" r="1.65" fill="#111"/>
<circle cx="271.40" cy="223.60" r="1.65" fill="#111"/>
<circle cx="243.40" cy="239.00" r="1.65" fill="#111"/>
<circle cx="247.00" cy="238.00" r="1.65" fill="#111"/>
<circle cx="253.40" cy="239.00" r="1.65" fill="#111"/>
<circle cx="257.40" cy="240.40" r="1.65" fill="#111"/>
<circle cx="261.00" cy="241.00" r="1.65" fill="#111"/>
<circle cx="268.00" cy="246.00" r="1.65" fill="#111"/>
<circle cx="304.00" cy="177.60" r="1.65" fill="#111"/>
<circle cx="300.00" cy="216.00" r="1.65" fill="#111"/>
<circle cx="279.40" cy="223.00" r="1.65" fill="#111"/>
<circle cx="283.00" cy="229.60" r="1.65" fill="#111"/>
<circle cx="286.00" cy="232.40" r="1.65" fill="#111"/>
<circle cx="289.40" cy="224.00" r="1.65" fill="#111"/>
<circle cx="293.40" cy="227.60" r="1.65" fill="#111"/>
<circle cx="297.00" cy="228.40" r="1.65" fill="#111"/>
<circle cx="307.40" cy="228.00" r="1.65" fill="#111"/>
<circle cx="279.40" cy="242.40" r="1.65" fill="#111"/>
<circle cx="296.60" cy="245.00" r="1.65" fill="#111"/>
<circle cx="304.00" cy="246.00" r="1.65" fill="#111"/>
<circle cx="340.00" cy="187.60" r="1.65" fill="#111"/>
<circle cx="315.40" cy="228.00" r="1.65" fill="#111"/>
<circle cx="318.60" cy="236.00" r="1.65" fill="#111"/>
<circle cx="322.00" cy="239.00" r="1.65" fill="#111"/>
<circle cx="325.40" cy="234.40" r="1.65" fill="#111"/>
<circle cx="333.00" cy="229.00" r="1.65" fill="#111"/>
<circle cx="336.60" cy="234.40" r="1.65" fill="#111"/>
<circle cx="343.40" cy="230.00" r="1.65" fill="#111"/>
<circle cx="315.40" cy="243.00" r="1.65" fill="#111"/>
<circle cx="332.60" cy="245.00" r="1.65" fill="#111"/>
<circle cx="325.00" cy="246.00" r="1.65" fill="#111"/>
<circle cx="206.30" cy="275.40" r="1.65" fill="#111"/>
<circle cx="209.50" cy="342.60" r="1.65" fill="#111"/>
<circle cx="213.60" cy="347.20" r="1.65" fill="#111"/>
<circle cx="216.80" cy="348.00" r="1.65" fill="#111"/>
<circle cx="220.10" cy="350.70" r="1.65" fill="#111"/>
<circle cx="223.80" cy="338.20" r="1.65" fill="#111"/>
<circle cx="223.80" cy="348.50" r="1.65" fill="#111"/>
<circle cx="227.40" cy="354.00" r="1.65" fill="#111"/>
<circle cx="231.00" cy="337.40" r="1.65" fill="#111"/>
<circle cx="234.20" cy="329.00" r="1.65" fill="#111"/>
<circle cx="242.30" cy="334.10" r="1.65" fill="#111"/>
<circle cx="249.60" cy="342.00" r="1.65" fill="#111"/>
<circle cx="246.30" cy="351.70" r="1.65" fill="#111"/>
<circle cx="253.30" cy="357.70" r="1.65" fill="#111"/>
<circle cx="256.60" cy="356.60" r="1.65" fill="#111"/>
<circle cx="259.80" cy="355.30" r="1.65" fill="#111"/>
<circle cx="267.00" cy="343.10" r="1.65" fill="#111"/>
<circle cx="271.20" cy="357.20" r="1.65" fill="#111"/>
<circle cx="282.30" cy="335.80" r="1.65" fill="#111"/>
<circle cx="285.60" cy="337.10" r="1.65" fill="#111"/>
<circle cx="278.60" cy="350.10" r="1.65" fill="#111"/>
<circle cx="289.30" cy="343.90" r="1.65" fill="#111"/>
<circle cx="292.90" cy="342.00" r="1.65" fill="#111"/>
<circle cx="296.10" cy="355.00" r="1.65" fill="#111"/>
<circle cx="299.70" cy="332.20" r="1.65" fill="#111"/>
<circle cx="303.50" cy="331.20" r="1.65" fill="#111"/>
<circle cx="307.20" cy="352.80" r="1.65" fill="#111"/>
<circle cx="264.30" cy="275.40" r="1.65" fill="#111"/>
<circle cx="318.30" cy="323.10" r="1.65" fill="#111"/>
<circle cx="315.10" cy="354.50" r="1.65" fill="#111"/>
<circle cx="322.40" cy="353.30" r="1.65" fill="#111"/>
<circle cx="325.60" cy="357.70" r="1.65" fill="#111"/>
<circle cx="329.20" cy="353.30" r="1.65" fill="#111"/>
<circle cx="333.00" cy="357.70" r="1.65" fill="#111"/>
<circle cx="336.20" cy="355.60" r="1.65" fill="#111"/>
<circle cx="340.00" cy="333.80" r="1.65" fill="#111"/>
<circle cx="343.50" cy="353.30" r="1.65" fill="#111"/>
<circle cx="374.75" cy="74.50" r="1.65" fill="#111"/>
<circle cx="374.70" cy="116.50" r="1.65" fill="#111"/>
<circle cx="381.60" cy="47.00" r="1.65" fill="#111"/>
<circle cx="389.10" cy="48.60" r="1.65" fill="#111"/>
<circle cx="378.50" cy="67.75" r="1.65" fill="#111"/>
<circle cx="399.10" cy="58.40" r="1.65" fill="#111"/>
<circle cx="402.50" cy="63.00" r="1.65" fill="#111"/>
<circle cx="385.20" cy="88.00" r="1.65" fill="#111"/>
<circle cx="385.20" cy="96.70" r="1.65" fill="#111"/>
<circle cx="385.20" cy="121.30" r="1.65" fill="#111"/>
<circle cx="381.50" cy="118.70" r="1.65" fill="#111"/>
<circle cx="389.00" cy="122.50" r="1.65" fill="#111"/>
<circle cx="392.00" cy="112.00" r="1.65" fill="#111"/>
<circle cx="402.50" cy="117.70" r="1.65" fill="#111"/>
<circle cx="411.20" cy="43.00" r="1.65" fill="#111"/>
<circle cx="417.50" cy="50.80" r="1.65" fill="#111"/>
<circle cx="414.20" cy="55.30" r="1.65" fill="#111"/>
<circle cx="424.70" cy="58.30" r="1.65" fill="#111"/>
<circle cx="421.20" cy="65.80" r="1.65" fill="#111"/>
<circle cx="428.30" cy="71.80" r="1.65" fill="#111"/>
<circle cx="431.70" cy="69.70" r="1.65" fill="#111"/>
<circle cx="421.20" cy="82.70" r="1.65" fill="#111"/>
<circle cx="434.70" cy="85.70" r="1.65" fill="#111"/>
<circle cx="438.50" cy="82.30" r="1.65" fill="#111"/>
<circle cx="428.30" cy="48.70" r="1.65" fill="#111"/>
<circle cx="411.40" cy="120.60" r="1.65" fill="#111"/>
<circle cx="414.50" cy="115.00" r="1.65" fill="#111"/>
<circle cx="417.25" cy="103.10" r="1.65" fill="#111"/>
<circle cx="421.40" cy="113.75" r="1.65" fill="#111"/>
<circle cx="421.40" cy="117.50" r="1.65" fill="#111"/>
<circle cx="424.50" cy="119.40" r="1.65" fill="#111"/>
<circle cx="428.50" cy="112.50" r="1.65" fill="#111"/>
<circle cx="432.00" cy="108.10" r="1.65" fill="#111"/>
<circle cx="434.75" cy="105.00" r="1.65" fill="#111"/>
<circle cx="439.25" cy="113.75" r="1.65" fill="#111"/>
<circle cx="467.40" cy="56.00" r="1.65" fill="#111"/>
<circle cx="464.60" cy="80.90" r="1.65" fill="#111"/>
<circle cx="464.60" cy="86.00" r="1.65" fill="#111"/>
<circle cx="460.30" cy="98.50" r="1.65" fill="#111"/>
<circle cx="471.10" cy="98.20" r="1.65" fill="#111"/>
<circle cx="474.90" cy="97.80" r="1.65" fill="#111"/>
<circle cx="450.10" cy="103.40" r="1.65" fill="#111"/>
<circle cx="453.90" cy="101.50" r="1.65" fill="#111"/>
<circle cx="446.80" cy="116.00" r="1.65" fill="#111"/>
<circle cx="457.60" cy="113.50" r="1.65" fill="#111"/>
<circle cx="460.80" cy="125.90" r="1.65" fill="#111"/>
<circle cx="465.10" cy="125.40" r="1.65" fill="#111"/>
<circle cx="468.30" cy="125.40" r="1.65" fill="#111"/>
<circle cx="454.60" cy="126.30" r="1.65" fill="#111"/>
<circle cx="482.80" cy="76.60" r="1.65" fill="#111"/>
<circle cx="486.10" cy="108.50" r="1.65" fill="#111"/>
<circle cx="489.90" cy="115.00" r="1.65" fill="#111"/>
<circle cx="493.60" cy="107.50" r="1.65" fill="#111"/>
<circle cx="496.80" cy="102.30" r="1.65" fill="#111"/>
<circle cx="500.60" cy="108.50" r="1.65" fill="#111"/>
<circle cx="503.80" cy="98.20" r="1.65" fill="#111"/>
<circle cx="507.50" cy="103.40" r="1.65" fill="#111"/>
<circle cx="510.90" cy="109.80" r="1.65" fill="#111"/>
<circle cx="482.80" cy="126.30" r="1.65" fill="#111"/>
<circle cx="500.60" cy="125.90" r="1.65" fill="#111"/>
<circle cx="503.60" cy="125.90" r="1.65" fill="#111"/>
<circle cx="493.60" cy="127.00" r="1.65" fill="#111"/>
<circle cx="375.80" cy="178.70" r="1.65" fill="#111"/>
<circle cx="379.70" cy="181.70" r="1.65" fill="#111"/>
<circle cx="382.70" cy="164.80" r="1.65" fill="#111"/>
<circle cx="386.30" cy="163.70" r="1.65" fill="#111"/>
<circle cx="386.30" cy="171.20" r="1.65" fill="#111"/>
<circle cx="393.20" cy="160.30" r="1.65" fill="#111"/>
<circle cx="393.20" cy="190.30" r="1.65" fill="#111"/>
<circle cx="400.70" cy="170.20" r="1.65" fill="#111"/>
<circle cx="397.20" cy="199.00" r="1.65" fill="#111"/>
<circle cx="400.70" cy="201.20" r="1.65" fill="#111"/>
<circle cx="376.20" cy="208.80" r="1.65" fill="#111"/>
<circle cx="379.90" cy="222.50" r="1.65" fill="#111"/>
<circle cx="383.10" cy="216.30" r="1.65" fill="#111"/>
<circle cx="386.40" cy="211.20" r="1.65" fill="#111"/>
<circle cx="386.40" cy="226.60" r="1.65" fill="#111"/>
<circle cx="390.30" cy="210.10" r="1.65" fill="#111"/>
<circle cx="393.30" cy="208.10" r="1.65" fill="#111"/>
<circle cx="396.90" cy="199.40" r="1.65" fill="#111"/>
<circle cx="400.20" cy="201.60" r="1.65" fill="#111"/>
<circle cx="403.70" cy="211.20" r="1.65" fill="#111"/>
<circle cx="422.50" cy="161.90" r="1.65" fill="#111"/>
<circle cx="429.40" cy="160.60" r="1.65" fill="#111"/>
<circle cx="418.40" cy="169.60" r="1.65" fill="#111"/>
<circle cx="415.40" cy="173.70" r="1.65" fill="#111"/>
<circle cx="423.10" cy="173.70" r="1.65" fill="#111"/>
<circle cx="432.90" cy="169.60" r="1.65" fill="#111"/>
<circle cx="411.90" cy="182.40" r="1.65" fill="#111"/>
<circle cx="425.90" cy="182.40" r="1.65" fill="#111"/>
<circle cx="439.90" cy="182.40" r="1.65" fill="#111"/>
<circle cx="436.40" cy="184.90" r="1.65" fill="#111"/>
<circle cx="422.60" cy="214.00" r="1.65" fill="#111"/>
<circle cx="426.00" cy="216.25" r="1.65" fill="#111"/>
<circle cx="429.50" cy="219.00" r="1.65" fill="#111"/>
<circle cx="429.75" cy="211.25" r="1.65" fill="#111"/>
<circle cx="415.50" cy="226.00" r="1.65" fill="#111"/>
<circle cx="412.00" cy="236.90" r="1.65" fill="#111"/>
<circle cx="418.50" cy="237.50" r="1.65" fill="#111"/>
<circle cx="422.60" cy="235.60" r="1.65" fill="#111"/>
<circle cx="433.00" cy="233.50" r="1.65" fill="#111"/>
<circle cx="436.40" cy="235.60" r="1.65" fill="#111"/>
<circle cx="439.75" cy="238.50" r="1.65" fill="#111"/>
<circle cx="466.00" cy="172.00" r="1.65" fill="#111"/>
<circle cx="466.00" cy="178.40" r="1.65" fill="#111"/>
<circle cx="469.40" cy="179.60" r="1.65" fill="#111"/>
<circle cx="458.60" cy="183.00" r="1.65" fill="#111"/>
<circle cx="462.00" cy="182.40" r="1.65" fill="#111"/>
<circle cx="475.40" cy="186.40" r="1.65" fill="#111"/>
<circle cx="472.60" cy="198.00" r="1.65" fill="#111"/>
<circle cx="448.60" cy="204.00" r="1.65" fill="#111"/>
<circle cx="452.00" cy="204.00" r="1.65" fill="#111"/>
<circle cx="455.40" cy="201.00" r="1.65" fill="#111"/>
<circle cx="458.60" cy="204.40" r="1.65" fill="#111"/>
<circle cx="448.60" cy="239.00" r="1.65" fill="#111"/>
<circle cx="452.00" cy="245.60" r="1.65" fill="#111"/>
<circle cx="455.40" cy="242.40" r="1.65" fill="#111"/>
<circle cx="458.60" cy="241.00" r="1.65" fill="#111"/>
<circle cx="462.00" cy="235.00" r="1.65" fill="#111"/>
<circle cx="466.00" cy="229.00" r="1.65" fill="#111"/>
<circle cx="469.40" cy="240.40" r="1.65" fill="#111"/>
<circle cx="472.60" cy="234.40" r="1.65" fill="#111"/>
<circle cx="476.00" cy="240.00" r="1.65" fill="#111"/>
<circle cx="501.40" cy="202.40" r="1.65" fill="#111"/>
<circle cx="504.60" cy="203.60" r="1.65" fill="#111"/>
<circle cx="498.00" cy="209.60" r="1.65" fill="#111"/>
<circle cx="508.60" cy="208.00" r="1.65" fill="#111"/>
<circle cx="512.00" cy="207.00" r="1.65" fill="#111"/>
<circle cx="484.00" cy="221.00" r="1.65" fill="#111"/>
<circle cx="487.40" cy="227.00" r="1.65" fill="#111"/>
<circle cx="491.40" cy="223.60" r="1.65" fill="#111"/>
<circle cx="494.60" cy="226.40" r="1.65" fill="#111"/>
<circle cx="502.00" cy="221.60" r="1.65" fill="#111"/>
<circle cx="487.40" cy="244.40" r="1.65" fill="#111"/>
<circle cx="491.40" cy="245.00" r="1.65" fill="#111"/>
<circle cx="494.60" cy="243.60" r="1.65" fill="#111"/>
<circle cx="501.40" cy="241.00" r="1.65" fill="#111"/>
<circle cx="505.40" cy="240.40" r="1.65" fill="#111"/>
<circle cx="508.60" cy="243.00" r="1.65" fill="#111"/>
<circle cx="512.00" cy="242.40" r="1.65" fill="#111"/>
<circle cx="388.60" cy="271.60" r="1.65" fill="#111"/>
<circle cx="374.60" cy="283.90" r="1.65" fill="#111"/>
<circle cx="392.10" cy="279.40" r="1.65" fill="#111"/>
<circle cx="392.10" cy="283.00" r="1.65" fill="#111"/>
<circle cx="402.20" cy="279.40" r="1.65" fill="#111"/>
<circle cx="381.70" cy="289.10" r="1.65" fill="#111"/>
<circle cx="385.00" cy="291.10" r="1.65" fill="#111"/>
<circle cx="385.00" cy="292.70" r="1.65" fill="#111"/>
<circle cx="399.00" cy="286.50" r="1.65" fill="#111"/>
<circle cx="377.80" cy="298.20" r="1.65" fill="#111"/>
<circle cx="395.40" cy="298.60" r="1.65" fill="#111"/>
<circle cx="374.40" cy="346.80" r="1.65" fill="#111"/>
<circle cx="377.80" cy="348.10" r="1.65" fill="#111"/>
<circle cx="381.50" cy="337.00" r="1.65" fill="#111"/>
<circle cx="384.50" cy="339.50" r="1.65" fill="#111"/>
<circle cx="388.60" cy="350.80" r="1.65" fill="#111"/>
<circle cx="392.40" cy="337.00" r="1.65" fill="#111"/>
<circle cx="395.60" cy="334.00" r="1.65" fill="#111"/>
<circle cx="402.80" cy="355.30" r="1.65" fill="#111"/>
<circle cx="421.30" cy="278.90" r="1.65" fill="#111"/>
<circle cx="414.20" cy="284.00" r="1.65" fill="#111"/>
<circle cx="421.30" cy="284.60" r="1.65" fill="#111"/>
<circle cx="428.50" cy="283.50" r="1.65" fill="#111"/>
<circle cx="428.50" cy="285.70" r="1.65" fill="#111"/>
<circle cx="418.00" cy="287.40" r="1.65" fill="#111"/>
<circle cx="432.10" cy="286.60" r="1.65" fill="#111"/>
<circle cx="435.80" cy="292.30" r="1.65" fill="#111"/>
<circle cx="410.90" cy="303.50" r="1.65" fill="#111"/>
<circle cx="425.20" cy="302.00" r="1.65" fill="#111"/>
<circle cx="439.10" cy="302.00" r="1.65" fill="#111"/>
<circle cx="411.00" cy="355.70" r="1.65" fill="#111"/>
<circle cx="414.50" cy="353.00" r="1.65" fill="#111"/>
<circle cx="421.40" cy="361.10" r="1.65" fill="#111"/>
<circle cx="421.40" cy="353.00" r="1.65" fill="#111"/>
<circle cx="424.80" cy="348.80" r="1.65" fill="#111"/>
<circle cx="428.30" cy="345.40" r="1.65" fill="#111"/>
<circle cx="431.70" cy="357.70" r="1.65" fill="#111"/>
<circle cx="439.00" cy="361.10" r="1.65" fill="#111"/>
<circle cx="457.80" cy="303.00" r="1.65" fill="#111"/>
<circle cx="465.20" cy="298.90" r="1.65" fill="#111"/>
<circle cx="465.20" cy="313.10" r="1.65" fill="#111"/>
<circle cx="468.60" cy="319.30" r="1.65" fill="#111"/>
<circle cx="450.80" cy="321.50" r="1.65" fill="#111"/>
<circle cx="447.10" cy="326.10" r="1.65" fill="#111"/>
<circle cx="454.50" cy="327.00" r="1.65" fill="#111"/>
<circle cx="461.10" cy="328.00" r="1.65" fill="#111"/>
<circle cx="457.80" cy="332.60" r="1.65" fill="#111"/>
<circle cx="472.30" cy="325.60" r="1.65" fill="#111"/>
<circle cx="476.00" cy="316.90" r="1.65" fill="#111"/>
<circle cx="465.20" cy="353.90" r="1.65" fill="#111"/>
<circle cx="461.10" cy="359.40" r="1.65" fill="#111"/>
<circle cx="457.80" cy="361.30" r="1.65" fill="#111"/>
<circle cx="483.50" cy="346.70" r="1.65" fill="#111"/>
<circle cx="487.30" cy="344.00" r="1.65" fill="#111"/>
<circle cx="490.50" cy="348.80" r="1.65" fill="#111"/>
<circle cx="494.20" cy="352.00" r="1.65" fill="#111"/>
<circle cx="497.90" cy="346.70" r="1.65" fill="#111"/>
<circle cx="501.40" cy="352.00" r="1.65" fill="#111"/>
<circle cx="504.90" cy="353.10" r="1.65" fill="#111"/>
<circle cx="508.60" cy="355.20" r="1.65" fill="#111"/>
<circle cx="512.30" cy="345.60" r="1.65" fill="#111"/>
<circle cx="487.00" cy="360.80" r="1.65" fill="#111"/>
<circle cx="494.20" cy="360.80" r="1.65" fill="#111"/>
<circle cx="497.90" cy="360.00" r="1.65" fill="#111"/>
<circle cx="501.40" cy="360.80" r="1.65" fill="#111"/>
<circle cx="504.90" cy="360.80" r="1.65" fill="#111"/>
</svg></body></html>
